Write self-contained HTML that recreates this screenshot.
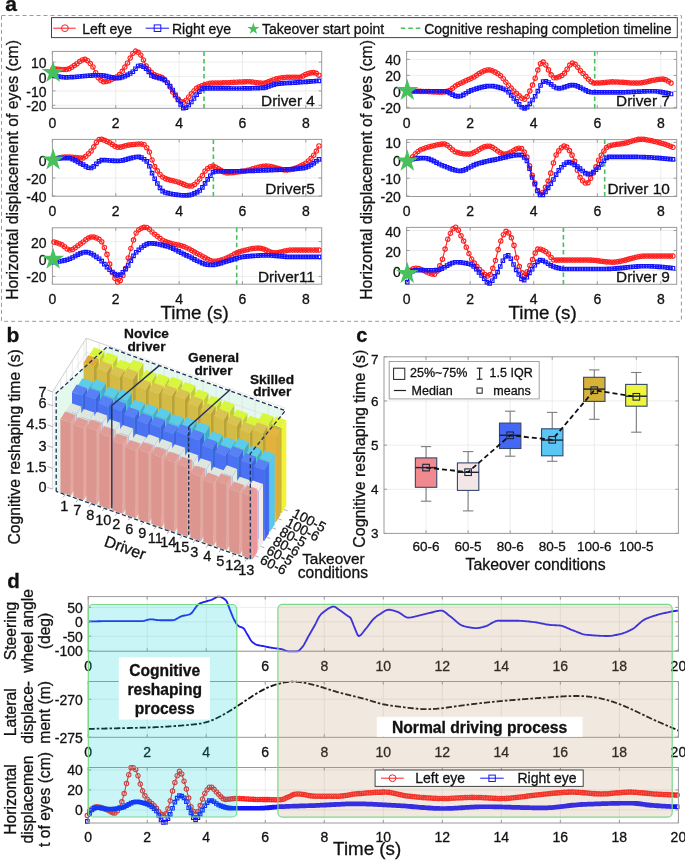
<!DOCTYPE html>
<html><head><meta charset="utf-8"><title>Figure</title>
<style>html,body{margin:0;padding:0;background:#fff;}svg{display:block;will-change:transform;}
text{font-family:"Liberation Sans",sans-serif;stroke:#111;stroke-width:0.3px;paint-order:stroke;}</style></head>
<body>
<svg width="685" height="860" viewBox="0 0 685 860" font-family="Liberation Sans, sans-serif">
<text x="5.2" y="11.3" font-size="21" text-anchor="start" font-weight="bold" fill="#111">a</text>
<rect x="1.5" y="15.5" width="679.9" height="305.8" fill="none" stroke="#9b9b9b" stroke-width="1" stroke-dasharray="4,3"/>
<rect x="51.5" y="17.6" width="625.8" height="20" fill="#fff" stroke="#444" stroke-width="1"/>
<line x1="53.2" y1="28.2" x2="75.7" y2="28.2" stroke="#ff1f1f" stroke-width="1"/>
<circle cx="64.9" cy="28.2" r="3.4" fill="none" stroke="#ff1f1f" stroke-width="1"/>
<text x="82.2" y="33.6" font-size="14" text-anchor="start" fill="#111">Left eye</text>
<line x1="145.7" y1="28.2" x2="169.1" y2="28.2" stroke="#1414ff" stroke-width="1"/>
<rect x="154.2" y="24.9" width="6.6" height="6.6" fill="none" stroke="#1414ff" stroke-width="1"/>
<text x="172" y="33.6" font-size="14" text-anchor="start" fill="#111">Right eye</text>
<polygon points="253.4,22.6 254.81,26.95 259.39,26.95 255.69,29.64 257.1,34 253.4,31.31 249.7,34 251.11,29.64 247.41,26.95 251.99,26.95" fill="#47c15c" stroke="none" stroke-width="1"/>
<text x="262" y="33.6" font-size="14" text-anchor="start" fill="#111">Takeover start point</text>
<line x1="400.8" y1="28.2" x2="420.7" y2="28.2" stroke="#47c15c" stroke-width="1.6" stroke-dasharray="4.5,3"/>
<text x="424.2" y="33.6" font-size="14" text-anchor="start" fill="#111">Cognitive reshaping completion timeline</text>
<rect x="52.4" y="51.4" width="269.3" height="56.9" fill="#fff" stroke="none" stroke-width="1"/>
<line x1="115.76" y1="51.4" x2="115.76" y2="108.3" stroke="#e9e9e9" stroke-width="0.8"/>
<line x1="179.12" y1="51.4" x2="179.12" y2="108.3" stroke="#e9e9e9" stroke-width="0.8"/>
<line x1="242.48" y1="51.4" x2="242.48" y2="108.3" stroke="#e9e9e9" stroke-width="0.8"/>
<line x1="305.84" y1="51.4" x2="305.84" y2="108.3" stroke="#e9e9e9" stroke-width="0.8"/>
<line x1="52.4" y1="62.1" x2="321.7" y2="62.1" stroke="#e9e9e9" stroke-width="0.8"/>
<line x1="52.4" y1="76.5" x2="321.7" y2="76.5" stroke="#e9e9e9" stroke-width="0.8"/>
<line x1="52.4" y1="90.9" x2="321.7" y2="90.9" stroke="#e9e9e9" stroke-width="0.8"/>
<line x1="52.4" y1="105.3" x2="321.7" y2="105.3" stroke="#e9e9e9" stroke-width="0.8"/>
<rect x="52.4" y="51.4" width="269.3" height="56.9" fill="none" stroke="#9a9a9a" stroke-width="1"/>
<line x1="52.4" y1="108.3" x2="52.4" y2="105.3" stroke="#9a9a9a" stroke-width="1"/>
<line x1="52.4" y1="51.4" x2="52.4" y2="54.4" stroke="#9a9a9a" stroke-width="1"/>
<text x="52.4" y="128.1" font-size="14" text-anchor="middle" fill="#111">0</text>
<line x1="115.76" y1="108.3" x2="115.76" y2="105.3" stroke="#9a9a9a" stroke-width="1"/>
<line x1="115.76" y1="51.4" x2="115.76" y2="54.4" stroke="#9a9a9a" stroke-width="1"/>
<text x="115.76" y="128.1" font-size="14" text-anchor="middle" fill="#111">2</text>
<line x1="179.12" y1="108.3" x2="179.12" y2="105.3" stroke="#9a9a9a" stroke-width="1"/>
<line x1="179.12" y1="51.4" x2="179.12" y2="54.4" stroke="#9a9a9a" stroke-width="1"/>
<text x="179.12" y="128.1" font-size="14" text-anchor="middle" fill="#111">4</text>
<line x1="242.48" y1="108.3" x2="242.48" y2="105.3" stroke="#9a9a9a" stroke-width="1"/>
<line x1="242.48" y1="51.4" x2="242.48" y2="54.4" stroke="#9a9a9a" stroke-width="1"/>
<text x="242.48" y="128.1" font-size="14" text-anchor="middle" fill="#111">6</text>
<line x1="305.84" y1="108.3" x2="305.84" y2="105.3" stroke="#9a9a9a" stroke-width="1"/>
<line x1="305.84" y1="51.4" x2="305.84" y2="54.4" stroke="#9a9a9a" stroke-width="1"/>
<text x="305.84" y="128.1" font-size="14" text-anchor="middle" fill="#111">8</text>
<line x1="52.4" y1="62.1" x2="55.4" y2="62.1" stroke="#9a9a9a" stroke-width="1"/>
<line x1="321.7" y1="62.1" x2="318.7" y2="62.1" stroke="#9a9a9a" stroke-width="1"/>
<text x="46.6" y="68.1" font-size="14" text-anchor="end" fill="#111">10</text>
<line x1="52.4" y1="76.5" x2="55.4" y2="76.5" stroke="#9a9a9a" stroke-width="1"/>
<line x1="321.7" y1="76.5" x2="318.7" y2="76.5" stroke="#9a9a9a" stroke-width="1"/>
<text x="46.6" y="82.5" font-size="14" text-anchor="end" fill="#111">0</text>
<line x1="52.4" y1="90.9" x2="55.4" y2="90.9" stroke="#9a9a9a" stroke-width="1"/>
<line x1="321.7" y1="90.9" x2="318.7" y2="90.9" stroke="#9a9a9a" stroke-width="1"/>
<text x="46.6" y="96.9" font-size="14" text-anchor="end" fill="#111">-10</text>
<line x1="52.4" y1="105.3" x2="55.4" y2="105.3" stroke="#9a9a9a" stroke-width="1"/>
<line x1="321.7" y1="105.3" x2="318.7" y2="105.3" stroke="#9a9a9a" stroke-width="1"/>
<text x="46.6" y="111.3" font-size="14" text-anchor="end" fill="#111">-20</text>
<line x1="204" y1="51.4" x2="204" y2="108.3" stroke="#47c15c" stroke-width="1.6" stroke-dasharray="4.5,3"/>
<polyline points="53.1,68.5 55.76,68.99 58.42,69.29 61.07,69.44 63.73,69.49 66.39,69.5 69.05,68.76 71.71,67.16 74.36,65.47 77.02,63.69 79.68,61.6 82.34,59.9 85,59.32 87.65,60.7 90.31,63.51 92.97,67 95.63,72.71 98.29,77.89 100.94,80.35 103.6,81.74 106.26,81.54 108.92,80.67 111.58,79.59 114.23,78.32 116.89,76.66 119.55,74.56 122.21,71.29 124.87,67.07 127.52,62.95 130.18,58 132.84,53.41 135.5,51.13 138.16,52.26 140.81,55.1 143.47,59.95 146.13,65.91 148.79,69.66 151.45,72.53 154.1,74.55 156.76,75.68 159.42,76.47 162.08,77.52 164.74,79.6 167.39,82.67 170.05,86.98 172.71,92.08 175.37,95.89 178.03,99.06 180.68,101.48 183.34,102.13 186,100.23 188.66,96.91 191.32,93.78 193.97,90.89 196.63,88.35 199.29,86.83 201.95,85.71 204.61,84.84 207.26,84.03 209.92,83.4 212.58,83.15 215.24,83.05 217.9,82.98 220.55,82.93 223.21,82.87 225.87,82.8 228.53,82.69 231.19,82.56 233.84,82.4 236.5,82.24 239.16,82.09 241.82,81.96 244.48,81.86 247.13,81.81 249.79,81.84 252.45,82.07 255.11,82.44 257.77,82.82 260.42,83.1 263.08,83.19 265.74,82.77 268.4,81.88 271.06,80.77 273.71,79.67 276.37,78.83 279.03,78.31 281.69,77.83 284.35,77.46 287,77.3 289.66,77.3 292.32,77.3 294.98,77.3 297.64,77.3 300.29,77.2 302.95,76.02 305.61,74.41 308.27,73.44 310.93,72.88 313.58,72.6 316.24,73.32 318.9,75.2" fill="none" stroke="#ff1f1f" stroke-width="1.1" stroke-linejoin="round"/>
<path d="M53.1,68.5m-2.2,0a2.2,2.2 0 1,0 4.4,0a2.2,2.2 0 1,0 -4.4,0M55.76,68.99m-2.2,0a2.2,2.2 0 1,0 4.4,0a2.2,2.2 0 1,0 -4.4,0M58.42,69.29m-2.2,0a2.2,2.2 0 1,0 4.4,0a2.2,2.2 0 1,0 -4.4,0M61.07,69.44m-2.2,0a2.2,2.2 0 1,0 4.4,0a2.2,2.2 0 1,0 -4.4,0M63.73,69.49m-2.2,0a2.2,2.2 0 1,0 4.4,0a2.2,2.2 0 1,0 -4.4,0M66.39,69.5m-2.2,0a2.2,2.2 0 1,0 4.4,0a2.2,2.2 0 1,0 -4.4,0M69.05,68.76m-2.2,0a2.2,2.2 0 1,0 4.4,0a2.2,2.2 0 1,0 -4.4,0M71.71,67.16m-2.2,0a2.2,2.2 0 1,0 4.4,0a2.2,2.2 0 1,0 -4.4,0M74.36,65.47m-2.2,0a2.2,2.2 0 1,0 4.4,0a2.2,2.2 0 1,0 -4.4,0M77.02,63.69m-2.2,0a2.2,2.2 0 1,0 4.4,0a2.2,2.2 0 1,0 -4.4,0M79.68,61.6m-2.2,0a2.2,2.2 0 1,0 4.4,0a2.2,2.2 0 1,0 -4.4,0M82.34,59.9m-2.2,0a2.2,2.2 0 1,0 4.4,0a2.2,2.2 0 1,0 -4.4,0M85,59.32m-2.2,0a2.2,2.2 0 1,0 4.4,0a2.2,2.2 0 1,0 -4.4,0M87.65,60.7m-2.2,0a2.2,2.2 0 1,0 4.4,0a2.2,2.2 0 1,0 -4.4,0M90.31,63.51m-2.2,0a2.2,2.2 0 1,0 4.4,0a2.2,2.2 0 1,0 -4.4,0M92.97,67m-2.2,0a2.2,2.2 0 1,0 4.4,0a2.2,2.2 0 1,0 -4.4,0M95.63,72.71m-2.2,0a2.2,2.2 0 1,0 4.4,0a2.2,2.2 0 1,0 -4.4,0M98.29,77.89m-2.2,0a2.2,2.2 0 1,0 4.4,0a2.2,2.2 0 1,0 -4.4,0M100.94,80.35m-2.2,0a2.2,2.2 0 1,0 4.4,0a2.2,2.2 0 1,0 -4.4,0M103.6,81.74m-2.2,0a2.2,2.2 0 1,0 4.4,0a2.2,2.2 0 1,0 -4.4,0M106.26,81.54m-2.2,0a2.2,2.2 0 1,0 4.4,0a2.2,2.2 0 1,0 -4.4,0M108.92,80.67m-2.2,0a2.2,2.2 0 1,0 4.4,0a2.2,2.2 0 1,0 -4.4,0M111.58,79.59m-2.2,0a2.2,2.2 0 1,0 4.4,0a2.2,2.2 0 1,0 -4.4,0M114.23,78.32m-2.2,0a2.2,2.2 0 1,0 4.4,0a2.2,2.2 0 1,0 -4.4,0M116.89,76.66m-2.2,0a2.2,2.2 0 1,0 4.4,0a2.2,2.2 0 1,0 -4.4,0M119.55,74.56m-2.2,0a2.2,2.2 0 1,0 4.4,0a2.2,2.2 0 1,0 -4.4,0M122.21,71.29m-2.2,0a2.2,2.2 0 1,0 4.4,0a2.2,2.2 0 1,0 -4.4,0M124.87,67.07m-2.2,0a2.2,2.2 0 1,0 4.4,0a2.2,2.2 0 1,0 -4.4,0M127.52,62.95m-2.2,0a2.2,2.2 0 1,0 4.4,0a2.2,2.2 0 1,0 -4.4,0M130.18,58m-2.2,0a2.2,2.2 0 1,0 4.4,0a2.2,2.2 0 1,0 -4.4,0M132.84,53.41m-2.2,0a2.2,2.2 0 1,0 4.4,0a2.2,2.2 0 1,0 -4.4,0M135.5,51.13m-2.2,0a2.2,2.2 0 1,0 4.4,0a2.2,2.2 0 1,0 -4.4,0M138.16,52.26m-2.2,0a2.2,2.2 0 1,0 4.4,0a2.2,2.2 0 1,0 -4.4,0M140.81,55.1m-2.2,0a2.2,2.2 0 1,0 4.4,0a2.2,2.2 0 1,0 -4.4,0M143.47,59.95m-2.2,0a2.2,2.2 0 1,0 4.4,0a2.2,2.2 0 1,0 -4.4,0M146.13,65.91m-2.2,0a2.2,2.2 0 1,0 4.4,0a2.2,2.2 0 1,0 -4.4,0M148.79,69.66m-2.2,0a2.2,2.2 0 1,0 4.4,0a2.2,2.2 0 1,0 -4.4,0M151.45,72.53m-2.2,0a2.2,2.2 0 1,0 4.4,0a2.2,2.2 0 1,0 -4.4,0M154.1,74.55m-2.2,0a2.2,2.2 0 1,0 4.4,0a2.2,2.2 0 1,0 -4.4,0M156.76,75.68m-2.2,0a2.2,2.2 0 1,0 4.4,0a2.2,2.2 0 1,0 -4.4,0M159.42,76.47m-2.2,0a2.2,2.2 0 1,0 4.4,0a2.2,2.2 0 1,0 -4.4,0M162.08,77.52m-2.2,0a2.2,2.2 0 1,0 4.4,0a2.2,2.2 0 1,0 -4.4,0M164.74,79.6m-2.2,0a2.2,2.2 0 1,0 4.4,0a2.2,2.2 0 1,0 -4.4,0M167.39,82.67m-2.2,0a2.2,2.2 0 1,0 4.4,0a2.2,2.2 0 1,0 -4.4,0M170.05,86.98m-2.2,0a2.2,2.2 0 1,0 4.4,0a2.2,2.2 0 1,0 -4.4,0M172.71,92.08m-2.2,0a2.2,2.2 0 1,0 4.4,0a2.2,2.2 0 1,0 -4.4,0M175.37,95.89m-2.2,0a2.2,2.2 0 1,0 4.4,0a2.2,2.2 0 1,0 -4.4,0M178.03,99.06m-2.2,0a2.2,2.2 0 1,0 4.4,0a2.2,2.2 0 1,0 -4.4,0M180.68,101.48m-2.2,0a2.2,2.2 0 1,0 4.4,0a2.2,2.2 0 1,0 -4.4,0M183.34,102.13m-2.2,0a2.2,2.2 0 1,0 4.4,0a2.2,2.2 0 1,0 -4.4,0M186,100.23m-2.2,0a2.2,2.2 0 1,0 4.4,0a2.2,2.2 0 1,0 -4.4,0M188.66,96.91m-2.2,0a2.2,2.2 0 1,0 4.4,0a2.2,2.2 0 1,0 -4.4,0M191.32,93.78m-2.2,0a2.2,2.2 0 1,0 4.4,0a2.2,2.2 0 1,0 -4.4,0M193.97,90.89m-2.2,0a2.2,2.2 0 1,0 4.4,0a2.2,2.2 0 1,0 -4.4,0M196.63,88.35m-2.2,0a2.2,2.2 0 1,0 4.4,0a2.2,2.2 0 1,0 -4.4,0M199.29,86.83m-2.2,0a2.2,2.2 0 1,0 4.4,0a2.2,2.2 0 1,0 -4.4,0M201.95,85.71m-2.2,0a2.2,2.2 0 1,0 4.4,0a2.2,2.2 0 1,0 -4.4,0M204.61,84.84m-2.2,0a2.2,2.2 0 1,0 4.4,0a2.2,2.2 0 1,0 -4.4,0M207.26,84.03m-2.2,0a2.2,2.2 0 1,0 4.4,0a2.2,2.2 0 1,0 -4.4,0M209.92,83.4m-2.2,0a2.2,2.2 0 1,0 4.4,0a2.2,2.2 0 1,0 -4.4,0M212.58,83.15m-2.2,0a2.2,2.2 0 1,0 4.4,0a2.2,2.2 0 1,0 -4.4,0M215.24,83.05m-2.2,0a2.2,2.2 0 1,0 4.4,0a2.2,2.2 0 1,0 -4.4,0M217.9,82.98m-2.2,0a2.2,2.2 0 1,0 4.4,0a2.2,2.2 0 1,0 -4.4,0M220.55,82.93m-2.2,0a2.2,2.2 0 1,0 4.4,0a2.2,2.2 0 1,0 -4.4,0M223.21,82.87m-2.2,0a2.2,2.2 0 1,0 4.4,0a2.2,2.2 0 1,0 -4.4,0M225.87,82.8m-2.2,0a2.2,2.2 0 1,0 4.4,0a2.2,2.2 0 1,0 -4.4,0M228.53,82.69m-2.2,0a2.2,2.2 0 1,0 4.4,0a2.2,2.2 0 1,0 -4.4,0M231.19,82.56m-2.2,0a2.2,2.2 0 1,0 4.4,0a2.2,2.2 0 1,0 -4.4,0M233.84,82.4m-2.2,0a2.2,2.2 0 1,0 4.4,0a2.2,2.2 0 1,0 -4.4,0M236.5,82.24m-2.2,0a2.2,2.2 0 1,0 4.4,0a2.2,2.2 0 1,0 -4.4,0M239.16,82.09m-2.2,0a2.2,2.2 0 1,0 4.4,0a2.2,2.2 0 1,0 -4.4,0M241.82,81.96m-2.2,0a2.2,2.2 0 1,0 4.4,0a2.2,2.2 0 1,0 -4.4,0M244.48,81.86m-2.2,0a2.2,2.2 0 1,0 4.4,0a2.2,2.2 0 1,0 -4.4,0M247.13,81.81m-2.2,0a2.2,2.2 0 1,0 4.4,0a2.2,2.2 0 1,0 -4.4,0M249.79,81.84m-2.2,0a2.2,2.2 0 1,0 4.4,0a2.2,2.2 0 1,0 -4.4,0M252.45,82.07m-2.2,0a2.2,2.2 0 1,0 4.4,0a2.2,2.2 0 1,0 -4.4,0M255.11,82.44m-2.2,0a2.2,2.2 0 1,0 4.4,0a2.2,2.2 0 1,0 -4.4,0M257.77,82.82m-2.2,0a2.2,2.2 0 1,0 4.4,0a2.2,2.2 0 1,0 -4.4,0M260.42,83.1m-2.2,0a2.2,2.2 0 1,0 4.4,0a2.2,2.2 0 1,0 -4.4,0M263.08,83.19m-2.2,0a2.2,2.2 0 1,0 4.4,0a2.2,2.2 0 1,0 -4.4,0M265.74,82.77m-2.2,0a2.2,2.2 0 1,0 4.4,0a2.2,2.2 0 1,0 -4.4,0M268.4,81.88m-2.2,0a2.2,2.2 0 1,0 4.4,0a2.2,2.2 0 1,0 -4.4,0M271.06,80.77m-2.2,0a2.2,2.2 0 1,0 4.4,0a2.2,2.2 0 1,0 -4.4,0M273.71,79.67m-2.2,0a2.2,2.2 0 1,0 4.4,0a2.2,2.2 0 1,0 -4.4,0M276.37,78.83m-2.2,0a2.2,2.2 0 1,0 4.4,0a2.2,2.2 0 1,0 -4.4,0M279.03,78.31m-2.2,0a2.2,2.2 0 1,0 4.4,0a2.2,2.2 0 1,0 -4.4,0M281.69,77.83m-2.2,0a2.2,2.2 0 1,0 4.4,0a2.2,2.2 0 1,0 -4.4,0M284.35,77.46m-2.2,0a2.2,2.2 0 1,0 4.4,0a2.2,2.2 0 1,0 -4.4,0M287,77.3m-2.2,0a2.2,2.2 0 1,0 4.4,0a2.2,2.2 0 1,0 -4.4,0M289.66,77.3m-2.2,0a2.2,2.2 0 1,0 4.4,0a2.2,2.2 0 1,0 -4.4,0M292.32,77.3m-2.2,0a2.2,2.2 0 1,0 4.4,0a2.2,2.2 0 1,0 -4.4,0M294.98,77.3m-2.2,0a2.2,2.2 0 1,0 4.4,0a2.2,2.2 0 1,0 -4.4,0M297.64,77.3m-2.2,0a2.2,2.2 0 1,0 4.4,0a2.2,2.2 0 1,0 -4.4,0M300.29,77.2m-2.2,0a2.2,2.2 0 1,0 4.4,0a2.2,2.2 0 1,0 -4.4,0M302.95,76.02m-2.2,0a2.2,2.2 0 1,0 4.4,0a2.2,2.2 0 1,0 -4.4,0M305.61,74.41m-2.2,0a2.2,2.2 0 1,0 4.4,0a2.2,2.2 0 1,0 -4.4,0M308.27,73.44m-2.2,0a2.2,2.2 0 1,0 4.4,0a2.2,2.2 0 1,0 -4.4,0M310.93,72.88m-2.2,0a2.2,2.2 0 1,0 4.4,0a2.2,2.2 0 1,0 -4.4,0M313.58,72.6m-2.2,0a2.2,2.2 0 1,0 4.4,0a2.2,2.2 0 1,0 -4.4,0M316.24,73.32m-2.2,0a2.2,2.2 0 1,0 4.4,0a2.2,2.2 0 1,0 -4.4,0M318.9,75.2m-2.2,0a2.2,2.2 0 1,0 4.4,0a2.2,2.2 0 1,0 -4.4,0" fill="none" stroke="#ff1f1f" stroke-width="1.15"/>
<polyline points="53.1,75.7 55.76,76.17 58.42,76.62 61.07,76.98 63.73,77.23 66.39,77.3 69.05,77.25 71.71,77.13 74.36,76.96 77.02,76.75 79.68,76.52 82.34,76.27 85,76.01 87.65,75.77 90.31,75.56 92.97,75.38 95.63,75.26 98.29,75.2 100.94,75.29 103.6,75.64 106.26,76.18 108.92,76.79 111.58,77.38 114.23,77.85 116.89,78.09 119.55,77.94 122.21,77.29 124.87,76.24 127.52,74.92 130.18,73.46 132.84,71.74 135.5,68.73 138.16,66.02 140.81,65.52 143.47,66.75 146.13,68.6 148.79,71.9 151.45,75.31 154.1,76.66 156.76,77.44 159.42,78.06 162.08,78.84 164.74,80.16 167.39,82.71 170.05,86.16 172.71,89.96 175.37,94.74 178.03,99.87 180.68,104.3 183.34,108.16 186,107.63 188.66,105.01 191.32,101.97 193.97,98.46 196.63,94.78 199.29,91.59 201.95,88.83 204.61,88.3 207.26,88.3 209.92,88.3 212.58,88.3 215.24,88.3 217.9,88.31 220.55,88.33 223.21,88.36 225.87,88.4 228.53,88.44 231.19,88.47 233.84,88.49 236.5,88.5 239.16,88.49 241.82,88.47 244.48,88.44 247.13,88.4 249.79,88.34 252.45,88.28 255.11,88.2 257.77,88.1 260.42,88 263.08,87.88 265.74,87.4 268.4,86.53 271.06,85.5 273.71,84.55 276.37,83.89 279.03,83.59 281.69,83.35 284.35,83.16 287,83 289.66,82.85 292.32,82.71 294.98,82.56 297.64,82.38 300.29,82.19 302.95,82 305.61,81.8 308.27,81.61 310.93,81.41 313.58,81.21 316.24,81 318.9,80.8" fill="none" stroke="#1414ff" stroke-width="1.1" stroke-linejoin="round"/>
<path d="M51.35,73.95h3.5v3.5h-3.5zM54.01,74.42h3.5v3.5h-3.5zM56.67,74.87h3.5v3.5h-3.5zM59.32,75.23h3.5v3.5h-3.5zM61.98,75.48h3.5v3.5h-3.5zM64.64,75.55h3.5v3.5h-3.5zM67.3,75.5h3.5v3.5h-3.5zM69.96,75.38h3.5v3.5h-3.5zM72.61,75.21h3.5v3.5h-3.5zM75.27,75h3.5v3.5h-3.5zM77.93,74.77h3.5v3.5h-3.5zM80.59,74.52h3.5v3.5h-3.5zM83.25,74.26h3.5v3.5h-3.5zM85.9,74.02h3.5v3.5h-3.5zM88.56,73.81h3.5v3.5h-3.5zM91.22,73.63h3.5v3.5h-3.5zM93.88,73.51h3.5v3.5h-3.5zM96.54,73.45h3.5v3.5h-3.5zM99.19,73.54h3.5v3.5h-3.5zM101.85,73.89h3.5v3.5h-3.5zM104.51,74.43h3.5v3.5h-3.5zM107.17,75.04h3.5v3.5h-3.5zM109.83,75.63h3.5v3.5h-3.5zM112.48,76.1h3.5v3.5h-3.5zM115.14,76.34h3.5v3.5h-3.5zM117.8,76.19h3.5v3.5h-3.5zM120.46,75.54h3.5v3.5h-3.5zM123.12,74.49h3.5v3.5h-3.5zM125.77,73.17h3.5v3.5h-3.5zM128.43,71.71h3.5v3.5h-3.5zM131.09,69.99h3.5v3.5h-3.5zM133.75,66.98h3.5v3.5h-3.5zM136.41,64.27h3.5v3.5h-3.5zM139.06,63.77h3.5v3.5h-3.5zM141.72,65h3.5v3.5h-3.5zM144.38,66.85h3.5v3.5h-3.5zM147.04,70.15h3.5v3.5h-3.5zM149.7,73.56h3.5v3.5h-3.5zM152.35,74.91h3.5v3.5h-3.5zM155.01,75.69h3.5v3.5h-3.5zM157.67,76.31h3.5v3.5h-3.5zM160.33,77.09h3.5v3.5h-3.5zM162.99,78.41h3.5v3.5h-3.5zM165.64,80.96h3.5v3.5h-3.5zM168.3,84.41h3.5v3.5h-3.5zM170.96,88.21h3.5v3.5h-3.5zM173.62,92.99h3.5v3.5h-3.5zM176.28,98.12h3.5v3.5h-3.5zM178.93,102.55h3.5v3.5h-3.5zM181.59,106.41h3.5v3.5h-3.5zM184.25,105.88h3.5v3.5h-3.5zM186.91,103.26h3.5v3.5h-3.5zM189.57,100.22h3.5v3.5h-3.5zM192.22,96.71h3.5v3.5h-3.5zM194.88,93.03h3.5v3.5h-3.5zM197.54,89.84h3.5v3.5h-3.5zM200.2,87.08h3.5v3.5h-3.5zM202.86,86.55h3.5v3.5h-3.5zM205.51,86.55h3.5v3.5h-3.5zM208.17,86.55h3.5v3.5h-3.5zM210.83,86.55h3.5v3.5h-3.5zM213.49,86.55h3.5v3.5h-3.5zM216.15,86.56h3.5v3.5h-3.5zM218.8,86.58h3.5v3.5h-3.5zM221.46,86.61h3.5v3.5h-3.5zM224.12,86.65h3.5v3.5h-3.5zM226.78,86.69h3.5v3.5h-3.5zM229.44,86.72h3.5v3.5h-3.5zM232.09,86.74h3.5v3.5h-3.5zM234.75,86.75h3.5v3.5h-3.5zM237.41,86.74h3.5v3.5h-3.5zM240.07,86.72h3.5v3.5h-3.5zM242.73,86.69h3.5v3.5h-3.5zM245.38,86.65h3.5v3.5h-3.5zM248.04,86.59h3.5v3.5h-3.5zM250.7,86.53h3.5v3.5h-3.5zM253.36,86.45h3.5v3.5h-3.5zM256.02,86.35h3.5v3.5h-3.5zM258.67,86.25h3.5v3.5h-3.5zM261.33,86.13h3.5v3.5h-3.5zM263.99,85.65h3.5v3.5h-3.5zM266.65,84.78h3.5v3.5h-3.5zM269.31,83.75h3.5v3.5h-3.5zM271.96,82.8h3.5v3.5h-3.5zM274.62,82.14h3.5v3.5h-3.5zM277.28,81.84h3.5v3.5h-3.5zM279.94,81.6h3.5v3.5h-3.5zM282.6,81.41h3.5v3.5h-3.5zM285.25,81.25h3.5v3.5h-3.5zM287.91,81.1h3.5v3.5h-3.5zM290.57,80.96h3.5v3.5h-3.5zM293.23,80.81h3.5v3.5h-3.5zM295.89,80.63h3.5v3.5h-3.5zM298.54,80.44h3.5v3.5h-3.5zM301.2,80.25h3.5v3.5h-3.5zM303.86,80.05h3.5v3.5h-3.5zM306.52,79.86h3.5v3.5h-3.5zM309.18,79.66h3.5v3.5h-3.5zM311.83,79.46h3.5v3.5h-3.5zM314.49,79.25h3.5v3.5h-3.5zM317.15,79.05h3.5v3.5h-3.5z" fill="none" stroke="#1414ff" stroke-width="1.15"/>
<polygon points="53.1,60.9 55.73,68.98 64.23,68.98 57.35,73.98 59.98,82.07 53.1,77.07 46.22,82.07 48.85,73.98 41.97,68.98 50.47,68.98" fill="#47c15c" stroke="none" stroke-width="1"/>
<text x="314.9" y="105.8" font-size="15.4" text-anchor="end" fill="#111">Driver 4</text>
<rect x="52.4" y="139.4" width="269.3" height="56.8" fill="#fff" stroke="none" stroke-width="1"/>
<line x1="115.76" y1="139.4" x2="115.76" y2="196.2" stroke="#e9e9e9" stroke-width="0.8"/>
<line x1="179.12" y1="139.4" x2="179.12" y2="196.2" stroke="#e9e9e9" stroke-width="0.8"/>
<line x1="242.48" y1="139.4" x2="242.48" y2="196.2" stroke="#e9e9e9" stroke-width="0.8"/>
<line x1="305.84" y1="139.4" x2="305.84" y2="196.2" stroke="#e9e9e9" stroke-width="0.8"/>
<line x1="52.4" y1="160" x2="321.7" y2="160" stroke="#e9e9e9" stroke-width="0.8"/>
<line x1="52.4" y1="178" x2="321.7" y2="178" stroke="#e9e9e9" stroke-width="0.8"/>
<rect x="52.4" y="139.4" width="269.3" height="56.8" fill="none" stroke="#9a9a9a" stroke-width="1"/>
<line x1="52.4" y1="196.2" x2="52.4" y2="193.2" stroke="#9a9a9a" stroke-width="1"/>
<line x1="52.4" y1="139.4" x2="52.4" y2="142.4" stroke="#9a9a9a" stroke-width="1"/>
<text x="52.4" y="216" font-size="14" text-anchor="middle" fill="#111">0</text>
<line x1="115.76" y1="196.2" x2="115.76" y2="193.2" stroke="#9a9a9a" stroke-width="1"/>
<line x1="115.76" y1="139.4" x2="115.76" y2="142.4" stroke="#9a9a9a" stroke-width="1"/>
<text x="115.76" y="216" font-size="14" text-anchor="middle" fill="#111">2</text>
<line x1="179.12" y1="196.2" x2="179.12" y2="193.2" stroke="#9a9a9a" stroke-width="1"/>
<line x1="179.12" y1="139.4" x2="179.12" y2="142.4" stroke="#9a9a9a" stroke-width="1"/>
<text x="179.12" y="216" font-size="14" text-anchor="middle" fill="#111">4</text>
<line x1="242.48" y1="196.2" x2="242.48" y2="193.2" stroke="#9a9a9a" stroke-width="1"/>
<line x1="242.48" y1="139.4" x2="242.48" y2="142.4" stroke="#9a9a9a" stroke-width="1"/>
<text x="242.48" y="216" font-size="14" text-anchor="middle" fill="#111">6</text>
<line x1="305.84" y1="196.2" x2="305.84" y2="193.2" stroke="#9a9a9a" stroke-width="1"/>
<line x1="305.84" y1="139.4" x2="305.84" y2="142.4" stroke="#9a9a9a" stroke-width="1"/>
<text x="305.84" y="216" font-size="14" text-anchor="middle" fill="#111">8</text>
<line x1="52.4" y1="160" x2="55.4" y2="160" stroke="#9a9a9a" stroke-width="1"/>
<line x1="321.7" y1="160" x2="318.7" y2="160" stroke="#9a9a9a" stroke-width="1"/>
<text x="46.6" y="166" font-size="14" text-anchor="end" fill="#111">0</text>
<line x1="52.4" y1="178" x2="55.4" y2="178" stroke="#9a9a9a" stroke-width="1"/>
<line x1="321.7" y1="178" x2="318.7" y2="178" stroke="#9a9a9a" stroke-width="1"/>
<text x="46.6" y="184" font-size="14" text-anchor="end" fill="#111">-20</text>
<line x1="52.4" y1="196" x2="55.4" y2="196" stroke="#9a9a9a" stroke-width="1"/>
<line x1="321.7" y1="196" x2="318.7" y2="196" stroke="#9a9a9a" stroke-width="1"/>
<text x="46.6" y="202" font-size="14" text-anchor="end" fill="#111">-40</text>
<line x1="213.4" y1="139.4" x2="213.4" y2="196.2" stroke="#47c15c" stroke-width="1.6" stroke-dasharray="4.5,3"/>
<polyline points="54,159.3 56.65,158.49 59.3,157.79 61.95,157.26 64.6,156.95 67.25,156.92 69.9,157.07 72.55,157.33 75.2,157.62 77.85,157.89 80.5,158.07 83.15,157.93 85.8,156.3 88.45,153.73 91.1,150.99 93.75,146.87 96.4,142.47 99.05,139.56 101.7,139.36 104.35,140.25 107,141.47 109.65,142.75 112.3,144.54 114.95,146.28 117.6,147.26 120.25,147.14 122.9,146.57 125.55,145.83 128.2,145.14 130.85,144.74 133.5,144.49 136.15,144.26 138.8,144.09 141.45,144.01 144.1,144.73 146.75,147.72 149.4,152.06 152.05,159.98 154.7,166.61 157.35,170.87 160,174.44 162.65,177.08 165.3,178.61 167.95,179.57 170.6,180.3 173.25,180.9 175.9,181.5 178.55,182.22 181.2,183.21 183.85,184.38 186.5,185.44 189.15,186.1 191.8,185.99 194.45,184.44 197.1,181.91 199.75,179.01 202.4,175.51 205.05,171.09 207.7,168.44 210.35,166.7 213,166.12 215.65,167.17 218.3,168.75 220.95,170.3 223.6,171.97 226.25,172.88 228.9,172.85 231.55,172.68 234.2,172.42 236.85,172.1 239.5,171.74 242.15,171.37 244.8,170.96 247.45,170.37 250.1,169.66 252.75,168.89 255.4,168.11 258.05,167.39 260.7,166.78 263.35,166.33 266,166.11 268.65,166.2 271.3,166.62 273.95,167.27 276.6,168.04 279.25,168.82 281.9,169.5 284.55,169.96 287.2,170.1 289.85,169.84 292.5,169.24 295.15,168.37 297.8,167.3 300.45,166.08 303.1,164.8 305.75,163.16 308.4,160.97 311.05,158.31 313.7,155.22 316.35,151.04 319,146" fill="none" stroke="#ff1f1f" stroke-width="1.1" stroke-linejoin="round"/>
<path d="M54,159.3m-2.2,0a2.2,2.2 0 1,0 4.4,0a2.2,2.2 0 1,0 -4.4,0M56.65,158.49m-2.2,0a2.2,2.2 0 1,0 4.4,0a2.2,2.2 0 1,0 -4.4,0M59.3,157.79m-2.2,0a2.2,2.2 0 1,0 4.4,0a2.2,2.2 0 1,0 -4.4,0M61.95,157.26m-2.2,0a2.2,2.2 0 1,0 4.4,0a2.2,2.2 0 1,0 -4.4,0M64.6,156.95m-2.2,0a2.2,2.2 0 1,0 4.4,0a2.2,2.2 0 1,0 -4.4,0M67.25,156.92m-2.2,0a2.2,2.2 0 1,0 4.4,0a2.2,2.2 0 1,0 -4.4,0M69.9,157.07m-2.2,0a2.2,2.2 0 1,0 4.4,0a2.2,2.2 0 1,0 -4.4,0M72.55,157.33m-2.2,0a2.2,2.2 0 1,0 4.4,0a2.2,2.2 0 1,0 -4.4,0M75.2,157.62m-2.2,0a2.2,2.2 0 1,0 4.4,0a2.2,2.2 0 1,0 -4.4,0M77.85,157.89m-2.2,0a2.2,2.2 0 1,0 4.4,0a2.2,2.2 0 1,0 -4.4,0M80.5,158.07m-2.2,0a2.2,2.2 0 1,0 4.4,0a2.2,2.2 0 1,0 -4.4,0M83.15,157.93m-2.2,0a2.2,2.2 0 1,0 4.4,0a2.2,2.2 0 1,0 -4.4,0M85.8,156.3m-2.2,0a2.2,2.2 0 1,0 4.4,0a2.2,2.2 0 1,0 -4.4,0M88.45,153.73m-2.2,0a2.2,2.2 0 1,0 4.4,0a2.2,2.2 0 1,0 -4.4,0M91.1,150.99m-2.2,0a2.2,2.2 0 1,0 4.4,0a2.2,2.2 0 1,0 -4.4,0M93.75,146.87m-2.2,0a2.2,2.2 0 1,0 4.4,0a2.2,2.2 0 1,0 -4.4,0M96.4,142.47m-2.2,0a2.2,2.2 0 1,0 4.4,0a2.2,2.2 0 1,0 -4.4,0M99.05,139.56m-2.2,0a2.2,2.2 0 1,0 4.4,0a2.2,2.2 0 1,0 -4.4,0M101.7,139.36m-2.2,0a2.2,2.2 0 1,0 4.4,0a2.2,2.2 0 1,0 -4.4,0M104.35,140.25m-2.2,0a2.2,2.2 0 1,0 4.4,0a2.2,2.2 0 1,0 -4.4,0M107,141.47m-2.2,0a2.2,2.2 0 1,0 4.4,0a2.2,2.2 0 1,0 -4.4,0M109.65,142.75m-2.2,0a2.2,2.2 0 1,0 4.4,0a2.2,2.2 0 1,0 -4.4,0M112.3,144.54m-2.2,0a2.2,2.2 0 1,0 4.4,0a2.2,2.2 0 1,0 -4.4,0M114.95,146.28m-2.2,0a2.2,2.2 0 1,0 4.4,0a2.2,2.2 0 1,0 -4.4,0M117.6,147.26m-2.2,0a2.2,2.2 0 1,0 4.4,0a2.2,2.2 0 1,0 -4.4,0M120.25,147.14m-2.2,0a2.2,2.2 0 1,0 4.4,0a2.2,2.2 0 1,0 -4.4,0M122.9,146.57m-2.2,0a2.2,2.2 0 1,0 4.4,0a2.2,2.2 0 1,0 -4.4,0M125.55,145.83m-2.2,0a2.2,2.2 0 1,0 4.4,0a2.2,2.2 0 1,0 -4.4,0M128.2,145.14m-2.2,0a2.2,2.2 0 1,0 4.4,0a2.2,2.2 0 1,0 -4.4,0M130.85,144.74m-2.2,0a2.2,2.2 0 1,0 4.4,0a2.2,2.2 0 1,0 -4.4,0M133.5,144.49m-2.2,0a2.2,2.2 0 1,0 4.4,0a2.2,2.2 0 1,0 -4.4,0M136.15,144.26m-2.2,0a2.2,2.2 0 1,0 4.4,0a2.2,2.2 0 1,0 -4.4,0M138.8,144.09m-2.2,0a2.2,2.2 0 1,0 4.4,0a2.2,2.2 0 1,0 -4.4,0M141.45,144.01m-2.2,0a2.2,2.2 0 1,0 4.4,0a2.2,2.2 0 1,0 -4.4,0M144.1,144.73m-2.2,0a2.2,2.2 0 1,0 4.4,0a2.2,2.2 0 1,0 -4.4,0M146.75,147.72m-2.2,0a2.2,2.2 0 1,0 4.4,0a2.2,2.2 0 1,0 -4.4,0M149.4,152.06m-2.2,0a2.2,2.2 0 1,0 4.4,0a2.2,2.2 0 1,0 -4.4,0M152.05,159.98m-2.2,0a2.2,2.2 0 1,0 4.4,0a2.2,2.2 0 1,0 -4.4,0M154.7,166.61m-2.2,0a2.2,2.2 0 1,0 4.4,0a2.2,2.2 0 1,0 -4.4,0M157.35,170.87m-2.2,0a2.2,2.2 0 1,0 4.4,0a2.2,2.2 0 1,0 -4.4,0M160,174.44m-2.2,0a2.2,2.2 0 1,0 4.4,0a2.2,2.2 0 1,0 -4.4,0M162.65,177.08m-2.2,0a2.2,2.2 0 1,0 4.4,0a2.2,2.2 0 1,0 -4.4,0M165.3,178.61m-2.2,0a2.2,2.2 0 1,0 4.4,0a2.2,2.2 0 1,0 -4.4,0M167.95,179.57m-2.2,0a2.2,2.2 0 1,0 4.4,0a2.2,2.2 0 1,0 -4.4,0M170.6,180.3m-2.2,0a2.2,2.2 0 1,0 4.4,0a2.2,2.2 0 1,0 -4.4,0M173.25,180.9m-2.2,0a2.2,2.2 0 1,0 4.4,0a2.2,2.2 0 1,0 -4.4,0M175.9,181.5m-2.2,0a2.2,2.2 0 1,0 4.4,0a2.2,2.2 0 1,0 -4.4,0M178.55,182.22m-2.2,0a2.2,2.2 0 1,0 4.4,0a2.2,2.2 0 1,0 -4.4,0M181.2,183.21m-2.2,0a2.2,2.2 0 1,0 4.4,0a2.2,2.2 0 1,0 -4.4,0M183.85,184.38m-2.2,0a2.2,2.2 0 1,0 4.4,0a2.2,2.2 0 1,0 -4.4,0M186.5,185.44m-2.2,0a2.2,2.2 0 1,0 4.4,0a2.2,2.2 0 1,0 -4.4,0M189.15,186.1m-2.2,0a2.2,2.2 0 1,0 4.4,0a2.2,2.2 0 1,0 -4.4,0M191.8,185.99m-2.2,0a2.2,2.2 0 1,0 4.4,0a2.2,2.2 0 1,0 -4.4,0M194.45,184.44m-2.2,0a2.2,2.2 0 1,0 4.4,0a2.2,2.2 0 1,0 -4.4,0M197.1,181.91m-2.2,0a2.2,2.2 0 1,0 4.4,0a2.2,2.2 0 1,0 -4.4,0M199.75,179.01m-2.2,0a2.2,2.2 0 1,0 4.4,0a2.2,2.2 0 1,0 -4.4,0M202.4,175.51m-2.2,0a2.2,2.2 0 1,0 4.4,0a2.2,2.2 0 1,0 -4.4,0M205.05,171.09m-2.2,0a2.2,2.2 0 1,0 4.4,0a2.2,2.2 0 1,0 -4.4,0M207.7,168.44m-2.2,0a2.2,2.2 0 1,0 4.4,0a2.2,2.2 0 1,0 -4.4,0M210.35,166.7m-2.2,0a2.2,2.2 0 1,0 4.4,0a2.2,2.2 0 1,0 -4.4,0M213,166.12m-2.2,0a2.2,2.2 0 1,0 4.4,0a2.2,2.2 0 1,0 -4.4,0M215.65,167.17m-2.2,0a2.2,2.2 0 1,0 4.4,0a2.2,2.2 0 1,0 -4.4,0M218.3,168.75m-2.2,0a2.2,2.2 0 1,0 4.4,0a2.2,2.2 0 1,0 -4.4,0M220.95,170.3m-2.2,0a2.2,2.2 0 1,0 4.4,0a2.2,2.2 0 1,0 -4.4,0M223.6,171.97m-2.2,0a2.2,2.2 0 1,0 4.4,0a2.2,2.2 0 1,0 -4.4,0M226.25,172.88m-2.2,0a2.2,2.2 0 1,0 4.4,0a2.2,2.2 0 1,0 -4.4,0M228.9,172.85m-2.2,0a2.2,2.2 0 1,0 4.4,0a2.2,2.2 0 1,0 -4.4,0M231.55,172.68m-2.2,0a2.2,2.2 0 1,0 4.4,0a2.2,2.2 0 1,0 -4.4,0M234.2,172.42m-2.2,0a2.2,2.2 0 1,0 4.4,0a2.2,2.2 0 1,0 -4.4,0M236.85,172.1m-2.2,0a2.2,2.2 0 1,0 4.4,0a2.2,2.2 0 1,0 -4.4,0M239.5,171.74m-2.2,0a2.2,2.2 0 1,0 4.4,0a2.2,2.2 0 1,0 -4.4,0M242.15,171.37m-2.2,0a2.2,2.2 0 1,0 4.4,0a2.2,2.2 0 1,0 -4.4,0M244.8,170.96m-2.2,0a2.2,2.2 0 1,0 4.4,0a2.2,2.2 0 1,0 -4.4,0M247.45,170.37m-2.2,0a2.2,2.2 0 1,0 4.4,0a2.2,2.2 0 1,0 -4.4,0M250.1,169.66m-2.2,0a2.2,2.2 0 1,0 4.4,0a2.2,2.2 0 1,0 -4.4,0M252.75,168.89m-2.2,0a2.2,2.2 0 1,0 4.4,0a2.2,2.2 0 1,0 -4.4,0M255.4,168.11m-2.2,0a2.2,2.2 0 1,0 4.4,0a2.2,2.2 0 1,0 -4.4,0M258.05,167.39m-2.2,0a2.2,2.2 0 1,0 4.4,0a2.2,2.2 0 1,0 -4.4,0M260.7,166.78m-2.2,0a2.2,2.2 0 1,0 4.4,0a2.2,2.2 0 1,0 -4.4,0M263.35,166.33m-2.2,0a2.2,2.2 0 1,0 4.4,0a2.2,2.2 0 1,0 -4.4,0M266,166.11m-2.2,0a2.2,2.2 0 1,0 4.4,0a2.2,2.2 0 1,0 -4.4,0M268.65,166.2m-2.2,0a2.2,2.2 0 1,0 4.4,0a2.2,2.2 0 1,0 -4.4,0M271.3,166.62m-2.2,0a2.2,2.2 0 1,0 4.4,0a2.2,2.2 0 1,0 -4.4,0M273.95,167.27m-2.2,0a2.2,2.2 0 1,0 4.4,0a2.2,2.2 0 1,0 -4.4,0M276.6,168.04m-2.2,0a2.2,2.2 0 1,0 4.4,0a2.2,2.2 0 1,0 -4.4,0M279.25,168.82m-2.2,0a2.2,2.2 0 1,0 4.4,0a2.2,2.2 0 1,0 -4.4,0M281.9,169.5m-2.2,0a2.2,2.2 0 1,0 4.4,0a2.2,2.2 0 1,0 -4.4,0M284.55,169.96m-2.2,0a2.2,2.2 0 1,0 4.4,0a2.2,2.2 0 1,0 -4.4,0M287.2,170.1m-2.2,0a2.2,2.2 0 1,0 4.4,0a2.2,2.2 0 1,0 -4.4,0M289.85,169.84m-2.2,0a2.2,2.2 0 1,0 4.4,0a2.2,2.2 0 1,0 -4.4,0M292.5,169.24m-2.2,0a2.2,2.2 0 1,0 4.4,0a2.2,2.2 0 1,0 -4.4,0M295.15,168.37m-2.2,0a2.2,2.2 0 1,0 4.4,0a2.2,2.2 0 1,0 -4.4,0M297.8,167.3m-2.2,0a2.2,2.2 0 1,0 4.4,0a2.2,2.2 0 1,0 -4.4,0M300.45,166.08m-2.2,0a2.2,2.2 0 1,0 4.4,0a2.2,2.2 0 1,0 -4.4,0M303.1,164.8m-2.2,0a2.2,2.2 0 1,0 4.4,0a2.2,2.2 0 1,0 -4.4,0M305.75,163.16m-2.2,0a2.2,2.2 0 1,0 4.4,0a2.2,2.2 0 1,0 -4.4,0M308.4,160.97m-2.2,0a2.2,2.2 0 1,0 4.4,0a2.2,2.2 0 1,0 -4.4,0M311.05,158.31m-2.2,0a2.2,2.2 0 1,0 4.4,0a2.2,2.2 0 1,0 -4.4,0M313.7,155.22m-2.2,0a2.2,2.2 0 1,0 4.4,0a2.2,2.2 0 1,0 -4.4,0M316.35,151.04m-2.2,0a2.2,2.2 0 1,0 4.4,0a2.2,2.2 0 1,0 -4.4,0M319,146m-2.2,0a2.2,2.2 0 1,0 4.4,0a2.2,2.2 0 1,0 -4.4,0" fill="none" stroke="#ff1f1f" stroke-width="1.15"/>
<polyline points="54,159.3 56.65,158.74 59.3,158.39 61.95,158.2 64.6,158.12 67.25,158.1 69.9,158.28 72.55,159.08 75.2,160.34 77.85,161.82 80.5,163.3 83.15,164.66 85.8,166.37 88.45,167.79 91.1,167.95 93.75,166.36 96.4,163.85 99.05,161.44 101.7,160.14 104.35,160.14 107,160.27 109.65,160.46 112.3,160.65 114.95,160.81 117.6,160.9 120.25,160.78 122.9,160.35 125.55,159.69 128.2,158.91 130.85,158.14 133.5,157.48 136.15,157.03 138.8,156.92 141.45,157.66 144.1,159.22 146.75,161.34 149.4,166.27 152.05,173.05 154.7,178.72 157.35,183.45 160,187.9 162.65,191.15 165.3,192.46 167.95,193.15 170.6,193.75 173.25,194.26 175.9,194.67 178.55,194.99 181.2,195.22 183.85,195.35 186.5,195.4 189.15,195.15 191.8,194.45 194.45,193.42 197.1,192.14 199.75,190.49 202.4,187.35 205.05,183.33 207.7,179.36 210.35,175.71 213,172.13 215.65,171.3 218.3,171.3 220.95,171.3 223.6,171.3 226.25,171.3 228.9,171.3 231.55,171.3 234.2,171.28 236.85,171.26 239.5,171.21 242.15,171.16 244.8,171.09 247.45,171.01 250.1,170.93 252.75,170.83 255.4,170.73 258.05,170.63 260.7,170.52 263.35,170.41 266,170.3 268.65,170.19 271.3,170.08 273.95,169.98 276.6,169.87 279.25,169.77 281.9,169.66 284.55,169.54 287.2,169.41 289.85,169.26 292.5,169.08 295.15,168.88 297.8,168.65 300.45,168.38 303.1,168.07 305.75,167.43 308.4,166.3 311.05,164.82 313.7,163.08 316.35,161.2 319,159.3" fill="none" stroke="#1414ff" stroke-width="1.1" stroke-linejoin="round"/>
<path d="M52.25,157.55h3.5v3.5h-3.5zM54.9,156.99h3.5v3.5h-3.5zM57.55,156.64h3.5v3.5h-3.5zM60.2,156.45h3.5v3.5h-3.5zM62.85,156.37h3.5v3.5h-3.5zM65.5,156.35h3.5v3.5h-3.5zM68.15,156.53h3.5v3.5h-3.5zM70.8,157.33h3.5v3.5h-3.5zM73.45,158.59h3.5v3.5h-3.5zM76.1,160.07h3.5v3.5h-3.5zM78.75,161.55h3.5v3.5h-3.5zM81.4,162.91h3.5v3.5h-3.5zM84.05,164.62h3.5v3.5h-3.5zM86.7,166.04h3.5v3.5h-3.5zM89.35,166.2h3.5v3.5h-3.5zM92,164.61h3.5v3.5h-3.5zM94.65,162.1h3.5v3.5h-3.5zM97.3,159.69h3.5v3.5h-3.5zM99.95,158.39h3.5v3.5h-3.5zM102.6,158.39h3.5v3.5h-3.5zM105.25,158.52h3.5v3.5h-3.5zM107.9,158.71h3.5v3.5h-3.5zM110.55,158.9h3.5v3.5h-3.5zM113.2,159.06h3.5v3.5h-3.5zM115.85,159.15h3.5v3.5h-3.5zM118.5,159.03h3.5v3.5h-3.5zM121.15,158.6h3.5v3.5h-3.5zM123.8,157.94h3.5v3.5h-3.5zM126.45,157.16h3.5v3.5h-3.5zM129.1,156.39h3.5v3.5h-3.5zM131.75,155.73h3.5v3.5h-3.5zM134.4,155.28h3.5v3.5h-3.5zM137.05,155.17h3.5v3.5h-3.5zM139.7,155.91h3.5v3.5h-3.5zM142.35,157.47h3.5v3.5h-3.5zM145,159.59h3.5v3.5h-3.5zM147.65,164.52h3.5v3.5h-3.5zM150.3,171.3h3.5v3.5h-3.5zM152.95,176.97h3.5v3.5h-3.5zM155.6,181.7h3.5v3.5h-3.5zM158.25,186.15h3.5v3.5h-3.5zM160.9,189.4h3.5v3.5h-3.5zM163.55,190.71h3.5v3.5h-3.5zM166.2,191.4h3.5v3.5h-3.5zM168.85,192h3.5v3.5h-3.5zM171.5,192.51h3.5v3.5h-3.5zM174.15,192.92h3.5v3.5h-3.5zM176.8,193.24h3.5v3.5h-3.5zM179.45,193.47h3.5v3.5h-3.5zM182.1,193.6h3.5v3.5h-3.5zM184.75,193.65h3.5v3.5h-3.5zM187.4,193.4h3.5v3.5h-3.5zM190.05,192.7h3.5v3.5h-3.5zM192.7,191.67h3.5v3.5h-3.5zM195.35,190.39h3.5v3.5h-3.5zM198,188.74h3.5v3.5h-3.5zM200.65,185.6h3.5v3.5h-3.5zM203.3,181.58h3.5v3.5h-3.5zM205.95,177.61h3.5v3.5h-3.5zM208.6,173.96h3.5v3.5h-3.5zM211.25,170.38h3.5v3.5h-3.5zM213.9,169.55h3.5v3.5h-3.5zM216.55,169.55h3.5v3.5h-3.5zM219.2,169.55h3.5v3.5h-3.5zM221.85,169.55h3.5v3.5h-3.5zM224.5,169.55h3.5v3.5h-3.5zM227.15,169.55h3.5v3.5h-3.5zM229.8,169.55h3.5v3.5h-3.5zM232.45,169.53h3.5v3.5h-3.5zM235.1,169.51h3.5v3.5h-3.5zM237.75,169.46h3.5v3.5h-3.5zM240.4,169.41h3.5v3.5h-3.5zM243.05,169.34h3.5v3.5h-3.5zM245.7,169.26h3.5v3.5h-3.5zM248.35,169.18h3.5v3.5h-3.5zM251,169.08h3.5v3.5h-3.5zM253.65,168.98h3.5v3.5h-3.5zM256.3,168.88h3.5v3.5h-3.5zM258.95,168.77h3.5v3.5h-3.5zM261.6,168.66h3.5v3.5h-3.5zM264.25,168.55h3.5v3.5h-3.5zM266.9,168.44h3.5v3.5h-3.5zM269.55,168.33h3.5v3.5h-3.5zM272.2,168.23h3.5v3.5h-3.5zM274.85,168.12h3.5v3.5h-3.5zM277.5,168.02h3.5v3.5h-3.5zM280.15,167.91h3.5v3.5h-3.5zM282.8,167.79h3.5v3.5h-3.5zM285.45,167.66h3.5v3.5h-3.5zM288.1,167.51h3.5v3.5h-3.5zM290.75,167.33h3.5v3.5h-3.5zM293.4,167.13h3.5v3.5h-3.5zM296.05,166.9h3.5v3.5h-3.5zM298.7,166.63h3.5v3.5h-3.5zM301.35,166.32h3.5v3.5h-3.5zM304,165.68h3.5v3.5h-3.5zM306.65,164.55h3.5v3.5h-3.5zM309.3,163.07h3.5v3.5h-3.5zM311.95,161.33h3.5v3.5h-3.5zM314.6,159.45h3.5v3.5h-3.5zM317.25,157.55h3.5v3.5h-3.5z" fill="none" stroke="#1414ff" stroke-width="1.15"/>
<polygon points="53.1,148.3 55.73,156.38 64.23,156.38 57.35,161.38 59.98,169.47 53.1,164.47 46.22,169.47 48.85,161.38 41.97,156.38 50.47,156.38" fill="#47c15c" stroke="none" stroke-width="1"/>
<text x="314.9" y="193.7" font-size="15.4" text-anchor="end" fill="#111">Driver5</text>
<rect x="52.4" y="227.8" width="269.3" height="56.4" fill="#fff" stroke="none" stroke-width="1"/>
<line x1="115.76" y1="227.8" x2="115.76" y2="284.2" stroke="#e9e9e9" stroke-width="0.8"/>
<line x1="179.12" y1="227.8" x2="179.12" y2="284.2" stroke="#e9e9e9" stroke-width="0.8"/>
<line x1="242.48" y1="227.8" x2="242.48" y2="284.2" stroke="#e9e9e9" stroke-width="0.8"/>
<line x1="305.84" y1="227.8" x2="305.84" y2="284.2" stroke="#e9e9e9" stroke-width="0.8"/>
<line x1="52.4" y1="241.6" x2="321.7" y2="241.6" stroke="#e9e9e9" stroke-width="0.8"/>
<line x1="52.4" y1="259" x2="321.7" y2="259" stroke="#e9e9e9" stroke-width="0.8"/>
<line x1="52.4" y1="276.4" x2="321.7" y2="276.4" stroke="#e9e9e9" stroke-width="0.8"/>
<rect x="52.4" y="227.8" width="269.3" height="56.4" fill="none" stroke="#9a9a9a" stroke-width="1"/>
<line x1="52.4" y1="284.2" x2="52.4" y2="281.2" stroke="#9a9a9a" stroke-width="1"/>
<line x1="52.4" y1="227.8" x2="52.4" y2="230.8" stroke="#9a9a9a" stroke-width="1"/>
<text x="52.4" y="304" font-size="14" text-anchor="middle" fill="#111">0</text>
<line x1="115.76" y1="284.2" x2="115.76" y2="281.2" stroke="#9a9a9a" stroke-width="1"/>
<line x1="115.76" y1="227.8" x2="115.76" y2="230.8" stroke="#9a9a9a" stroke-width="1"/>
<text x="115.76" y="304" font-size="14" text-anchor="middle" fill="#111">2</text>
<line x1="179.12" y1="284.2" x2="179.12" y2="281.2" stroke="#9a9a9a" stroke-width="1"/>
<line x1="179.12" y1="227.8" x2="179.12" y2="230.8" stroke="#9a9a9a" stroke-width="1"/>
<text x="179.12" y="304" font-size="14" text-anchor="middle" fill="#111">4</text>
<line x1="242.48" y1="284.2" x2="242.48" y2="281.2" stroke="#9a9a9a" stroke-width="1"/>
<line x1="242.48" y1="227.8" x2="242.48" y2="230.8" stroke="#9a9a9a" stroke-width="1"/>
<text x="242.48" y="304" font-size="14" text-anchor="middle" fill="#111">6</text>
<line x1="305.84" y1="284.2" x2="305.84" y2="281.2" stroke="#9a9a9a" stroke-width="1"/>
<line x1="305.84" y1="227.8" x2="305.84" y2="230.8" stroke="#9a9a9a" stroke-width="1"/>
<text x="305.84" y="304" font-size="14" text-anchor="middle" fill="#111">8</text>
<line x1="52.4" y1="241.6" x2="55.4" y2="241.6" stroke="#9a9a9a" stroke-width="1"/>
<line x1="321.7" y1="241.6" x2="318.7" y2="241.6" stroke="#9a9a9a" stroke-width="1"/>
<text x="46.6" y="247.6" font-size="14" text-anchor="end" fill="#111">20</text>
<line x1="52.4" y1="259" x2="55.4" y2="259" stroke="#9a9a9a" stroke-width="1"/>
<line x1="321.7" y1="259" x2="318.7" y2="259" stroke="#9a9a9a" stroke-width="1"/>
<text x="46.6" y="265" font-size="14" text-anchor="end" fill="#111">0</text>
<line x1="52.4" y1="276.4" x2="55.4" y2="276.4" stroke="#9a9a9a" stroke-width="1"/>
<line x1="321.7" y1="276.4" x2="318.7" y2="276.4" stroke="#9a9a9a" stroke-width="1"/>
<text x="46.6" y="282.4" font-size="14" text-anchor="end" fill="#111">-20</text>
<line x1="236.7" y1="227.8" x2="236.7" y2="284.2" stroke="#47c15c" stroke-width="1.6" stroke-dasharray="4.5,3"/>
<polyline points="54,242.1 56.65,242.8 59.3,243.75 61.95,244.88 64.6,246.71 67.25,248.92 69.9,250.09 72.55,249.47 75.2,247.77 77.85,245.68 80.5,243.85 83.15,241.94 85.8,239.86 88.45,238.07 91.1,237.01 93.75,237.05 96.4,237.9 99.05,239.34 101.7,241.85 104.35,247.44 107,254.38 109.65,264.08 112.3,272.42 114.95,278.37 117.6,282.04 120.25,280.61 122.9,275.43 125.55,268.56 128.2,257.92 130.85,248.41 133.5,240.06 136.15,233.07 138.8,229.67 141.45,228.2 144.1,227.33 146.75,227.46 149.4,229.32 152.05,231.99 154.7,234.32 157.35,236.32 160,238.33 162.65,240.17 165.3,241.64 167.95,242.63 170.6,243.36 173.25,243.94 175.9,244.46 178.55,245.02 181.2,245.7 183.85,246.59 186.5,247.74 189.15,249.09 191.8,250.54 194.45,252.01 197.1,253.41 199.75,254.73 202.4,256.22 205.05,257.79 207.7,259.26 210.35,260.45 213,261.17 215.65,261.26 218.3,260.85 220.95,260.11 223.6,259.19 226.25,258.22 228.9,257.11 231.55,255.66 234.2,254.13 236.85,252.79 239.5,251.86 242.15,251.09 244.8,250.35 247.45,249.66 250.1,249.07 252.75,248.59 255.4,248.26 258.05,248.11 260.7,248.29 263.35,249.04 266,250.14 268.65,251.32 271.3,252.31 273.95,252.86 276.6,252.8 279.25,252.38 281.9,251.75 284.55,251.06 287.2,250.48 289.85,250.13 292.5,250.1 295.15,250.1 297.8,250.1 300.45,250.1 303.1,250.1 305.75,250.1 308.4,250.1 311.05,250.1 313.7,250.1 316.35,250.1 319,250.1" fill="none" stroke="#ff1f1f" stroke-width="1.1" stroke-linejoin="round"/>
<path d="M54,242.1m-2.2,0a2.2,2.2 0 1,0 4.4,0a2.2,2.2 0 1,0 -4.4,0M56.65,242.8m-2.2,0a2.2,2.2 0 1,0 4.4,0a2.2,2.2 0 1,0 -4.4,0M59.3,243.75m-2.2,0a2.2,2.2 0 1,0 4.4,0a2.2,2.2 0 1,0 -4.4,0M61.95,244.88m-2.2,0a2.2,2.2 0 1,0 4.4,0a2.2,2.2 0 1,0 -4.4,0M64.6,246.71m-2.2,0a2.2,2.2 0 1,0 4.4,0a2.2,2.2 0 1,0 -4.4,0M67.25,248.92m-2.2,0a2.2,2.2 0 1,0 4.4,0a2.2,2.2 0 1,0 -4.4,0M69.9,250.09m-2.2,0a2.2,2.2 0 1,0 4.4,0a2.2,2.2 0 1,0 -4.4,0M72.55,249.47m-2.2,0a2.2,2.2 0 1,0 4.4,0a2.2,2.2 0 1,0 -4.4,0M75.2,247.77m-2.2,0a2.2,2.2 0 1,0 4.4,0a2.2,2.2 0 1,0 -4.4,0M77.85,245.68m-2.2,0a2.2,2.2 0 1,0 4.4,0a2.2,2.2 0 1,0 -4.4,0M80.5,243.85m-2.2,0a2.2,2.2 0 1,0 4.4,0a2.2,2.2 0 1,0 -4.4,0M83.15,241.94m-2.2,0a2.2,2.2 0 1,0 4.4,0a2.2,2.2 0 1,0 -4.4,0M85.8,239.86m-2.2,0a2.2,2.2 0 1,0 4.4,0a2.2,2.2 0 1,0 -4.4,0M88.45,238.07m-2.2,0a2.2,2.2 0 1,0 4.4,0a2.2,2.2 0 1,0 -4.4,0M91.1,237.01m-2.2,0a2.2,2.2 0 1,0 4.4,0a2.2,2.2 0 1,0 -4.4,0M93.75,237.05m-2.2,0a2.2,2.2 0 1,0 4.4,0a2.2,2.2 0 1,0 -4.4,0M96.4,237.9m-2.2,0a2.2,2.2 0 1,0 4.4,0a2.2,2.2 0 1,0 -4.4,0M99.05,239.34m-2.2,0a2.2,2.2 0 1,0 4.4,0a2.2,2.2 0 1,0 -4.4,0M101.7,241.85m-2.2,0a2.2,2.2 0 1,0 4.4,0a2.2,2.2 0 1,0 -4.4,0M104.35,247.44m-2.2,0a2.2,2.2 0 1,0 4.4,0a2.2,2.2 0 1,0 -4.4,0M107,254.38m-2.2,0a2.2,2.2 0 1,0 4.4,0a2.2,2.2 0 1,0 -4.4,0M109.65,264.08m-2.2,0a2.2,2.2 0 1,0 4.4,0a2.2,2.2 0 1,0 -4.4,0M112.3,272.42m-2.2,0a2.2,2.2 0 1,0 4.4,0a2.2,2.2 0 1,0 -4.4,0M114.95,278.37m-2.2,0a2.2,2.2 0 1,0 4.4,0a2.2,2.2 0 1,0 -4.4,0M117.6,282.04m-2.2,0a2.2,2.2 0 1,0 4.4,0a2.2,2.2 0 1,0 -4.4,0M120.25,280.61m-2.2,0a2.2,2.2 0 1,0 4.4,0a2.2,2.2 0 1,0 -4.4,0M122.9,275.43m-2.2,0a2.2,2.2 0 1,0 4.4,0a2.2,2.2 0 1,0 -4.4,0M125.55,268.56m-2.2,0a2.2,2.2 0 1,0 4.4,0a2.2,2.2 0 1,0 -4.4,0M128.2,257.92m-2.2,0a2.2,2.2 0 1,0 4.4,0a2.2,2.2 0 1,0 -4.4,0M130.85,248.41m-2.2,0a2.2,2.2 0 1,0 4.4,0a2.2,2.2 0 1,0 -4.4,0M133.5,240.06m-2.2,0a2.2,2.2 0 1,0 4.4,0a2.2,2.2 0 1,0 -4.4,0M136.15,233.07m-2.2,0a2.2,2.2 0 1,0 4.4,0a2.2,2.2 0 1,0 -4.4,0M138.8,229.67m-2.2,0a2.2,2.2 0 1,0 4.4,0a2.2,2.2 0 1,0 -4.4,0M141.45,228.2m-2.2,0a2.2,2.2 0 1,0 4.4,0a2.2,2.2 0 1,0 -4.4,0M144.1,227.33m-2.2,0a2.2,2.2 0 1,0 4.4,0a2.2,2.2 0 1,0 -4.4,0M146.75,227.46m-2.2,0a2.2,2.2 0 1,0 4.4,0a2.2,2.2 0 1,0 -4.4,0M149.4,229.32m-2.2,0a2.2,2.2 0 1,0 4.4,0a2.2,2.2 0 1,0 -4.4,0M152.05,231.99m-2.2,0a2.2,2.2 0 1,0 4.4,0a2.2,2.2 0 1,0 -4.4,0M154.7,234.32m-2.2,0a2.2,2.2 0 1,0 4.4,0a2.2,2.2 0 1,0 -4.4,0M157.35,236.32m-2.2,0a2.2,2.2 0 1,0 4.4,0a2.2,2.2 0 1,0 -4.4,0M160,238.33m-2.2,0a2.2,2.2 0 1,0 4.4,0a2.2,2.2 0 1,0 -4.4,0M162.65,240.17m-2.2,0a2.2,2.2 0 1,0 4.4,0a2.2,2.2 0 1,0 -4.4,0M165.3,241.64m-2.2,0a2.2,2.2 0 1,0 4.4,0a2.2,2.2 0 1,0 -4.4,0M167.95,242.63m-2.2,0a2.2,2.2 0 1,0 4.4,0a2.2,2.2 0 1,0 -4.4,0M170.6,243.36m-2.2,0a2.2,2.2 0 1,0 4.4,0a2.2,2.2 0 1,0 -4.4,0M173.25,243.94m-2.2,0a2.2,2.2 0 1,0 4.4,0a2.2,2.2 0 1,0 -4.4,0M175.9,244.46m-2.2,0a2.2,2.2 0 1,0 4.4,0a2.2,2.2 0 1,0 -4.4,0M178.55,245.02m-2.2,0a2.2,2.2 0 1,0 4.4,0a2.2,2.2 0 1,0 -4.4,0M181.2,245.7m-2.2,0a2.2,2.2 0 1,0 4.4,0a2.2,2.2 0 1,0 -4.4,0M183.85,246.59m-2.2,0a2.2,2.2 0 1,0 4.4,0a2.2,2.2 0 1,0 -4.4,0M186.5,247.74m-2.2,0a2.2,2.2 0 1,0 4.4,0a2.2,2.2 0 1,0 -4.4,0M189.15,249.09m-2.2,0a2.2,2.2 0 1,0 4.4,0a2.2,2.2 0 1,0 -4.4,0M191.8,250.54m-2.2,0a2.2,2.2 0 1,0 4.4,0a2.2,2.2 0 1,0 -4.4,0M194.45,252.01m-2.2,0a2.2,2.2 0 1,0 4.4,0a2.2,2.2 0 1,0 -4.4,0M197.1,253.41m-2.2,0a2.2,2.2 0 1,0 4.4,0a2.2,2.2 0 1,0 -4.4,0M199.75,254.73m-2.2,0a2.2,2.2 0 1,0 4.4,0a2.2,2.2 0 1,0 -4.4,0M202.4,256.22m-2.2,0a2.2,2.2 0 1,0 4.4,0a2.2,2.2 0 1,0 -4.4,0M205.05,257.79m-2.2,0a2.2,2.2 0 1,0 4.4,0a2.2,2.2 0 1,0 -4.4,0M207.7,259.26m-2.2,0a2.2,2.2 0 1,0 4.4,0a2.2,2.2 0 1,0 -4.4,0M210.35,260.45m-2.2,0a2.2,2.2 0 1,0 4.4,0a2.2,2.2 0 1,0 -4.4,0M213,261.17m-2.2,0a2.2,2.2 0 1,0 4.4,0a2.2,2.2 0 1,0 -4.4,0M215.65,261.26m-2.2,0a2.2,2.2 0 1,0 4.4,0a2.2,2.2 0 1,0 -4.4,0M218.3,260.85m-2.2,0a2.2,2.2 0 1,0 4.4,0a2.2,2.2 0 1,0 -4.4,0M220.95,260.11m-2.2,0a2.2,2.2 0 1,0 4.4,0a2.2,2.2 0 1,0 -4.4,0M223.6,259.19m-2.2,0a2.2,2.2 0 1,0 4.4,0a2.2,2.2 0 1,0 -4.4,0M226.25,258.22m-2.2,0a2.2,2.2 0 1,0 4.4,0a2.2,2.2 0 1,0 -4.4,0M228.9,257.11m-2.2,0a2.2,2.2 0 1,0 4.4,0a2.2,2.2 0 1,0 -4.4,0M231.55,255.66m-2.2,0a2.2,2.2 0 1,0 4.4,0a2.2,2.2 0 1,0 -4.4,0M234.2,254.13m-2.2,0a2.2,2.2 0 1,0 4.4,0a2.2,2.2 0 1,0 -4.4,0M236.85,252.79m-2.2,0a2.2,2.2 0 1,0 4.4,0a2.2,2.2 0 1,0 -4.4,0M239.5,251.86m-2.2,0a2.2,2.2 0 1,0 4.4,0a2.2,2.2 0 1,0 -4.4,0M242.15,251.09m-2.2,0a2.2,2.2 0 1,0 4.4,0a2.2,2.2 0 1,0 -4.4,0M244.8,250.35m-2.2,0a2.2,2.2 0 1,0 4.4,0a2.2,2.2 0 1,0 -4.4,0M247.45,249.66m-2.2,0a2.2,2.2 0 1,0 4.4,0a2.2,2.2 0 1,0 -4.4,0M250.1,249.07m-2.2,0a2.2,2.2 0 1,0 4.4,0a2.2,2.2 0 1,0 -4.4,0M252.75,248.59m-2.2,0a2.2,2.2 0 1,0 4.4,0a2.2,2.2 0 1,0 -4.4,0M255.4,248.26m-2.2,0a2.2,2.2 0 1,0 4.4,0a2.2,2.2 0 1,0 -4.4,0M258.05,248.11m-2.2,0a2.2,2.2 0 1,0 4.4,0a2.2,2.2 0 1,0 -4.4,0M260.7,248.29m-2.2,0a2.2,2.2 0 1,0 4.4,0a2.2,2.2 0 1,0 -4.4,0M263.35,249.04m-2.2,0a2.2,2.2 0 1,0 4.4,0a2.2,2.2 0 1,0 -4.4,0M266,250.14m-2.2,0a2.2,2.2 0 1,0 4.4,0a2.2,2.2 0 1,0 -4.4,0M268.65,251.32m-2.2,0a2.2,2.2 0 1,0 4.4,0a2.2,2.2 0 1,0 -4.4,0M271.3,252.31m-2.2,0a2.2,2.2 0 1,0 4.4,0a2.2,2.2 0 1,0 -4.4,0M273.95,252.86m-2.2,0a2.2,2.2 0 1,0 4.4,0a2.2,2.2 0 1,0 -4.4,0M276.6,252.8m-2.2,0a2.2,2.2 0 1,0 4.4,0a2.2,2.2 0 1,0 -4.4,0M279.25,252.38m-2.2,0a2.2,2.2 0 1,0 4.4,0a2.2,2.2 0 1,0 -4.4,0M281.9,251.75m-2.2,0a2.2,2.2 0 1,0 4.4,0a2.2,2.2 0 1,0 -4.4,0M284.55,251.06m-2.2,0a2.2,2.2 0 1,0 4.4,0a2.2,2.2 0 1,0 -4.4,0M287.2,250.48m-2.2,0a2.2,2.2 0 1,0 4.4,0a2.2,2.2 0 1,0 -4.4,0M289.85,250.13m-2.2,0a2.2,2.2 0 1,0 4.4,0a2.2,2.2 0 1,0 -4.4,0M292.5,250.1m-2.2,0a2.2,2.2 0 1,0 4.4,0a2.2,2.2 0 1,0 -4.4,0M295.15,250.1m-2.2,0a2.2,2.2 0 1,0 4.4,0a2.2,2.2 0 1,0 -4.4,0M297.8,250.1m-2.2,0a2.2,2.2 0 1,0 4.4,0a2.2,2.2 0 1,0 -4.4,0M300.45,250.1m-2.2,0a2.2,2.2 0 1,0 4.4,0a2.2,2.2 0 1,0 -4.4,0M303.1,250.1m-2.2,0a2.2,2.2 0 1,0 4.4,0a2.2,2.2 0 1,0 -4.4,0M305.75,250.1m-2.2,0a2.2,2.2 0 1,0 4.4,0a2.2,2.2 0 1,0 -4.4,0M308.4,250.1m-2.2,0a2.2,2.2 0 1,0 4.4,0a2.2,2.2 0 1,0 -4.4,0M311.05,250.1m-2.2,0a2.2,2.2 0 1,0 4.4,0a2.2,2.2 0 1,0 -4.4,0M313.7,250.1m-2.2,0a2.2,2.2 0 1,0 4.4,0a2.2,2.2 0 1,0 -4.4,0M316.35,250.1m-2.2,0a2.2,2.2 0 1,0 4.4,0a2.2,2.2 0 1,0 -4.4,0M319,250.1m-2.2,0a2.2,2.2 0 1,0 4.4,0a2.2,2.2 0 1,0 -4.4,0" fill="none" stroke="#ff1f1f" stroke-width="1.15"/>
<polyline points="54,262.2 56.65,261.91 59.3,261.5 61.95,261.01 64.6,260.44 67.25,259.78 69.9,258.76 72.55,257.45 75.2,256 77.85,254.59 80.5,253.37 83.15,252.48 85.8,252.1 88.45,252.45 91.1,253.52 93.75,255.08 96.4,256.87 99.05,258.72 101.7,261.19 104.35,264.15 107,267.15 109.65,269.75 112.3,271.98 114.95,274.13 117.6,275.35 120.25,274.69 122.9,272.24 125.55,269.07 128.2,265.53 130.85,260.74 133.5,255.88 136.15,252.24 138.8,249.81 141.45,247.52 144.1,245.56 146.75,244.12 149.4,243.37 152.05,243.35 154.7,243.59 157.35,244 160,244.54 162.65,245.16 165.3,245.82 167.95,246.54 170.6,247.49 173.25,248.66 175.9,249.96 178.55,251.35 181.2,252.74 183.85,254.08 186.5,255.3 189.15,256.53 191.8,257.89 194.45,259.3 197.1,260.71 199.75,262.02 202.4,263.19 205.05,264.12 207.7,264.74 210.35,265 213,264.87 215.65,264.46 218.3,263.85 220.95,263.08 223.6,262.24 226.25,261.37 228.9,260.56 231.55,259.85 234.2,259.05 236.85,258.23 239.5,257.49 242.15,256.97 244.8,256.67 247.45,256.39 250.1,256.14 252.75,255.91 255.4,255.71 258.05,255.55 260.7,255.42 263.35,255.34 266,255.3 268.65,255.33 271.3,255.45 273.95,255.64 276.6,255.88 279.25,256.14 281.9,256.4 284.55,256.63 287.2,256.8 289.85,256.89 292.5,256.9 295.15,256.9 297.8,256.9 300.45,256.9 303.1,256.9 305.75,256.9 308.4,256.9 311.05,256.9 313.7,256.9 316.35,256.9 319,256.9" fill="none" stroke="#1414ff" stroke-width="1.1" stroke-linejoin="round"/>
<path d="M52.25,260.45h3.5v3.5h-3.5zM54.9,260.16h3.5v3.5h-3.5zM57.55,259.75h3.5v3.5h-3.5zM60.2,259.26h3.5v3.5h-3.5zM62.85,258.69h3.5v3.5h-3.5zM65.5,258.03h3.5v3.5h-3.5zM68.15,257.01h3.5v3.5h-3.5zM70.8,255.7h3.5v3.5h-3.5zM73.45,254.25h3.5v3.5h-3.5zM76.1,252.84h3.5v3.5h-3.5zM78.75,251.62h3.5v3.5h-3.5zM81.4,250.73h3.5v3.5h-3.5zM84.05,250.35h3.5v3.5h-3.5zM86.7,250.7h3.5v3.5h-3.5zM89.35,251.77h3.5v3.5h-3.5zM92,253.33h3.5v3.5h-3.5zM94.65,255.12h3.5v3.5h-3.5zM97.3,256.97h3.5v3.5h-3.5zM99.95,259.44h3.5v3.5h-3.5zM102.6,262.4h3.5v3.5h-3.5zM105.25,265.4h3.5v3.5h-3.5zM107.9,268h3.5v3.5h-3.5zM110.55,270.23h3.5v3.5h-3.5zM113.2,272.38h3.5v3.5h-3.5zM115.85,273.6h3.5v3.5h-3.5zM118.5,272.94h3.5v3.5h-3.5zM121.15,270.49h3.5v3.5h-3.5zM123.8,267.32h3.5v3.5h-3.5zM126.45,263.78h3.5v3.5h-3.5zM129.1,258.99h3.5v3.5h-3.5zM131.75,254.13h3.5v3.5h-3.5zM134.4,250.49h3.5v3.5h-3.5zM137.05,248.06h3.5v3.5h-3.5zM139.7,245.77h3.5v3.5h-3.5zM142.35,243.81h3.5v3.5h-3.5zM145,242.37h3.5v3.5h-3.5zM147.65,241.62h3.5v3.5h-3.5zM150.3,241.6h3.5v3.5h-3.5zM152.95,241.84h3.5v3.5h-3.5zM155.6,242.25h3.5v3.5h-3.5zM158.25,242.79h3.5v3.5h-3.5zM160.9,243.41h3.5v3.5h-3.5zM163.55,244.07h3.5v3.5h-3.5zM166.2,244.79h3.5v3.5h-3.5zM168.85,245.74h3.5v3.5h-3.5zM171.5,246.91h3.5v3.5h-3.5zM174.15,248.21h3.5v3.5h-3.5zM176.8,249.6h3.5v3.5h-3.5zM179.45,250.99h3.5v3.5h-3.5zM182.1,252.33h3.5v3.5h-3.5zM184.75,253.55h3.5v3.5h-3.5zM187.4,254.78h3.5v3.5h-3.5zM190.05,256.14h3.5v3.5h-3.5zM192.7,257.55h3.5v3.5h-3.5zM195.35,258.96h3.5v3.5h-3.5zM198,260.27h3.5v3.5h-3.5zM200.65,261.44h3.5v3.5h-3.5zM203.3,262.37h3.5v3.5h-3.5zM205.95,262.99h3.5v3.5h-3.5zM208.6,263.25h3.5v3.5h-3.5zM211.25,263.12h3.5v3.5h-3.5zM213.9,262.71h3.5v3.5h-3.5zM216.55,262.1h3.5v3.5h-3.5zM219.2,261.33h3.5v3.5h-3.5zM221.85,260.49h3.5v3.5h-3.5zM224.5,259.62h3.5v3.5h-3.5zM227.15,258.81h3.5v3.5h-3.5zM229.8,258.1h3.5v3.5h-3.5zM232.45,257.3h3.5v3.5h-3.5zM235.1,256.48h3.5v3.5h-3.5zM237.75,255.74h3.5v3.5h-3.5zM240.4,255.22h3.5v3.5h-3.5zM243.05,254.92h3.5v3.5h-3.5zM245.7,254.64h3.5v3.5h-3.5zM248.35,254.39h3.5v3.5h-3.5zM251,254.16h3.5v3.5h-3.5zM253.65,253.96h3.5v3.5h-3.5zM256.3,253.8h3.5v3.5h-3.5zM258.95,253.67h3.5v3.5h-3.5zM261.6,253.59h3.5v3.5h-3.5zM264.25,253.55h3.5v3.5h-3.5zM266.9,253.58h3.5v3.5h-3.5zM269.55,253.7h3.5v3.5h-3.5zM272.2,253.89h3.5v3.5h-3.5zM274.85,254.13h3.5v3.5h-3.5zM277.5,254.39h3.5v3.5h-3.5zM280.15,254.65h3.5v3.5h-3.5zM282.8,254.88h3.5v3.5h-3.5zM285.45,255.05h3.5v3.5h-3.5zM288.1,255.14h3.5v3.5h-3.5zM290.75,255.15h3.5v3.5h-3.5zM293.4,255.15h3.5v3.5h-3.5zM296.05,255.15h3.5v3.5h-3.5zM298.7,255.15h3.5v3.5h-3.5zM301.35,255.15h3.5v3.5h-3.5zM304,255.15h3.5v3.5h-3.5zM306.65,255.15h3.5v3.5h-3.5zM309.3,255.15h3.5v3.5h-3.5zM311.95,255.15h3.5v3.5h-3.5zM314.6,255.15h3.5v3.5h-3.5zM317.25,255.15h3.5v3.5h-3.5z" fill="none" stroke="#1414ff" stroke-width="1.15"/>
<polygon points="53.1,247.7 55.73,255.78 64.23,255.78 57.35,260.78 59.98,268.87 53.1,263.87 46.22,268.87 48.85,260.78 41.97,255.78 50.47,255.78" fill="#47c15c" stroke="none" stroke-width="1"/>
<text x="314.9" y="281.7" font-size="15.4" text-anchor="end" fill="#111">Driver11</text>
<rect x="406.6" y="51.4" width="270.1" height="56.8" fill="#fff" stroke="none" stroke-width="1"/>
<line x1="470.16" y1="51.4" x2="470.16" y2="108.2" stroke="#e9e9e9" stroke-width="0.8"/>
<line x1="533.72" y1="51.4" x2="533.72" y2="108.2" stroke="#e9e9e9" stroke-width="0.8"/>
<line x1="597.28" y1="51.4" x2="597.28" y2="108.2" stroke="#e9e9e9" stroke-width="0.8"/>
<line x1="660.84" y1="51.4" x2="660.84" y2="108.2" stroke="#e9e9e9" stroke-width="0.8"/>
<line x1="406.6" y1="59.4" x2="676.7" y2="59.4" stroke="#e9e9e9" stroke-width="0.8"/>
<line x1="406.6" y1="75.4" x2="676.7" y2="75.4" stroke="#e9e9e9" stroke-width="0.8"/>
<line x1="406.6" y1="91.4" x2="676.7" y2="91.4" stroke="#e9e9e9" stroke-width="0.8"/>
<line x1="406.6" y1="107.4" x2="676.7" y2="107.4" stroke="#e9e9e9" stroke-width="0.8"/>
<rect x="406.6" y="51.4" width="270.1" height="56.8" fill="none" stroke="#9a9a9a" stroke-width="1"/>
<line x1="406.6" y1="108.2" x2="406.6" y2="105.2" stroke="#9a9a9a" stroke-width="1"/>
<line x1="406.6" y1="51.4" x2="406.6" y2="54.4" stroke="#9a9a9a" stroke-width="1"/>
<text x="406.6" y="128" font-size="14" text-anchor="middle" fill="#111">0</text>
<line x1="470.16" y1="108.2" x2="470.16" y2="105.2" stroke="#9a9a9a" stroke-width="1"/>
<line x1="470.16" y1="51.4" x2="470.16" y2="54.4" stroke="#9a9a9a" stroke-width="1"/>
<text x="470.16" y="128" font-size="14" text-anchor="middle" fill="#111">2</text>
<line x1="533.72" y1="108.2" x2="533.72" y2="105.2" stroke="#9a9a9a" stroke-width="1"/>
<line x1="533.72" y1="51.4" x2="533.72" y2="54.4" stroke="#9a9a9a" stroke-width="1"/>
<text x="533.72" y="128" font-size="14" text-anchor="middle" fill="#111">4</text>
<line x1="597.28" y1="108.2" x2="597.28" y2="105.2" stroke="#9a9a9a" stroke-width="1"/>
<line x1="597.28" y1="51.4" x2="597.28" y2="54.4" stroke="#9a9a9a" stroke-width="1"/>
<text x="597.28" y="128" font-size="14" text-anchor="middle" fill="#111">6</text>
<line x1="660.84" y1="108.2" x2="660.84" y2="105.2" stroke="#9a9a9a" stroke-width="1"/>
<line x1="660.84" y1="51.4" x2="660.84" y2="54.4" stroke="#9a9a9a" stroke-width="1"/>
<text x="660.84" y="128" font-size="14" text-anchor="middle" fill="#111">8</text>
<line x1="406.6" y1="59.4" x2="409.6" y2="59.4" stroke="#9a9a9a" stroke-width="1"/>
<line x1="676.7" y1="59.4" x2="673.7" y2="59.4" stroke="#9a9a9a" stroke-width="1"/>
<text x="400.8" y="65.4" font-size="14" text-anchor="end" fill="#111">40</text>
<line x1="406.6" y1="75.4" x2="409.6" y2="75.4" stroke="#9a9a9a" stroke-width="1"/>
<line x1="676.7" y1="75.4" x2="673.7" y2="75.4" stroke="#9a9a9a" stroke-width="1"/>
<text x="400.8" y="81.4" font-size="14" text-anchor="end" fill="#111">20</text>
<line x1="406.6" y1="91.4" x2="409.6" y2="91.4" stroke="#9a9a9a" stroke-width="1"/>
<line x1="676.7" y1="91.4" x2="673.7" y2="91.4" stroke="#9a9a9a" stroke-width="1"/>
<text x="400.8" y="97.4" font-size="14" text-anchor="end" fill="#111">0</text>
<line x1="406.6" y1="107.4" x2="409.6" y2="107.4" stroke="#9a9a9a" stroke-width="1"/>
<line x1="676.7" y1="107.4" x2="673.7" y2="107.4" stroke="#9a9a9a" stroke-width="1"/>
<text x="400.8" y="113.4" font-size="14" text-anchor="end" fill="#111">-20</text>
<line x1="594.7" y1="51.4" x2="594.7" y2="108.2" stroke="#47c15c" stroke-width="1.6" stroke-dasharray="4.5,3"/>
<polyline points="410,91.2 412.66,91.23 415.33,91.27 417.99,91.32 420.65,91.39 423.32,91.46 425.98,91.54 428.64,91.62 431.31,91.75 433.97,91.91 436.63,92.07 439.3,92.18 441.96,92.18 444.62,91.88 447.29,91.36 449.95,90.33 452.61,88.27 455.28,86.1 457.94,84.54 460.6,83.18 463.27,81.94 465.93,80.75 468.59,79.57 471.26,78.35 473.92,76.98 476.58,75.32 479.24,73.56 481.91,71.94 484.57,70.67 487.23,69.97 489.9,70.05 492.56,70.85 495.22,72.13 497.89,73.66 500.55,75.71 503.21,78.74 505.88,82.13 508.54,85.25 511.2,88.13 513.87,90.97 516.53,93.6 519.19,95.86 521.86,98.14 524.52,99.19 527.18,96.59 529.85,91.02 532.51,85.08 535.17,78.17 537.84,70.03 540.5,63.68 543.16,62.04 545.83,64.91 548.49,69.88 551.15,74.86 553.82,77.75 556.48,77.67 559.14,76.79 561.81,75.52 564.47,73.35 567.13,69.23 569.8,65.1 572.46,63.11 575.12,64.26 577.79,67.2 580.45,70.71 583.11,73.58 585.78,76.37 588.44,79.26 591.1,81.66 593.77,82.99 596.43,83.07 599.09,82.92 601.76,82.69 604.42,82.43 607.08,82.18 609.74,81.99 612.41,81.9 615.07,81.93 617.73,82.04 620.4,82.19 623.06,82.37 625.72,82.57 628.39,82.76 631.05,82.93 633.71,83.05 636.38,83.1 639.04,83.02 641.7,82.73 644.37,82.29 647.03,81.74 649.69,81.14 652.36,80.53 655.02,79.97 657.68,79.52 660.35,79.21 663.01,79.1 665.67,79.78 668.34,81.31 671,83.1" fill="none" stroke="#ff1f1f" stroke-width="1.1" stroke-linejoin="round"/>
<path d="M410,91.2m-2.2,0a2.2,2.2 0 1,0 4.4,0a2.2,2.2 0 1,0 -4.4,0M412.66,91.23m-2.2,0a2.2,2.2 0 1,0 4.4,0a2.2,2.2 0 1,0 -4.4,0M415.33,91.27m-2.2,0a2.2,2.2 0 1,0 4.4,0a2.2,2.2 0 1,0 -4.4,0M417.99,91.32m-2.2,0a2.2,2.2 0 1,0 4.4,0a2.2,2.2 0 1,0 -4.4,0M420.65,91.39m-2.2,0a2.2,2.2 0 1,0 4.4,0a2.2,2.2 0 1,0 -4.4,0M423.32,91.46m-2.2,0a2.2,2.2 0 1,0 4.4,0a2.2,2.2 0 1,0 -4.4,0M425.98,91.54m-2.2,0a2.2,2.2 0 1,0 4.4,0a2.2,2.2 0 1,0 -4.4,0M428.64,91.62m-2.2,0a2.2,2.2 0 1,0 4.4,0a2.2,2.2 0 1,0 -4.4,0M431.31,91.75m-2.2,0a2.2,2.2 0 1,0 4.4,0a2.2,2.2 0 1,0 -4.4,0M433.97,91.91m-2.2,0a2.2,2.2 0 1,0 4.4,0a2.2,2.2 0 1,0 -4.4,0M436.63,92.07m-2.2,0a2.2,2.2 0 1,0 4.4,0a2.2,2.2 0 1,0 -4.4,0M439.3,92.18m-2.2,0a2.2,2.2 0 1,0 4.4,0a2.2,2.2 0 1,0 -4.4,0M441.96,92.18m-2.2,0a2.2,2.2 0 1,0 4.4,0a2.2,2.2 0 1,0 -4.4,0M444.62,91.88m-2.2,0a2.2,2.2 0 1,0 4.4,0a2.2,2.2 0 1,0 -4.4,0M447.29,91.36m-2.2,0a2.2,2.2 0 1,0 4.4,0a2.2,2.2 0 1,0 -4.4,0M449.95,90.33m-2.2,0a2.2,2.2 0 1,0 4.4,0a2.2,2.2 0 1,0 -4.4,0M452.61,88.27m-2.2,0a2.2,2.2 0 1,0 4.4,0a2.2,2.2 0 1,0 -4.4,0M455.28,86.1m-2.2,0a2.2,2.2 0 1,0 4.4,0a2.2,2.2 0 1,0 -4.4,0M457.94,84.54m-2.2,0a2.2,2.2 0 1,0 4.4,0a2.2,2.2 0 1,0 -4.4,0M460.6,83.18m-2.2,0a2.2,2.2 0 1,0 4.4,0a2.2,2.2 0 1,0 -4.4,0M463.27,81.94m-2.2,0a2.2,2.2 0 1,0 4.4,0a2.2,2.2 0 1,0 -4.4,0M465.93,80.75m-2.2,0a2.2,2.2 0 1,0 4.4,0a2.2,2.2 0 1,0 -4.4,0M468.59,79.57m-2.2,0a2.2,2.2 0 1,0 4.4,0a2.2,2.2 0 1,0 -4.4,0M471.26,78.35m-2.2,0a2.2,2.2 0 1,0 4.4,0a2.2,2.2 0 1,0 -4.4,0M473.92,76.98m-2.2,0a2.2,2.2 0 1,0 4.4,0a2.2,2.2 0 1,0 -4.4,0M476.58,75.32m-2.2,0a2.2,2.2 0 1,0 4.4,0a2.2,2.2 0 1,0 -4.4,0M479.24,73.56m-2.2,0a2.2,2.2 0 1,0 4.4,0a2.2,2.2 0 1,0 -4.4,0M481.91,71.94m-2.2,0a2.2,2.2 0 1,0 4.4,0a2.2,2.2 0 1,0 -4.4,0M484.57,70.67m-2.2,0a2.2,2.2 0 1,0 4.4,0a2.2,2.2 0 1,0 -4.4,0M487.23,69.97m-2.2,0a2.2,2.2 0 1,0 4.4,0a2.2,2.2 0 1,0 -4.4,0M489.9,70.05m-2.2,0a2.2,2.2 0 1,0 4.4,0a2.2,2.2 0 1,0 -4.4,0M492.56,70.85m-2.2,0a2.2,2.2 0 1,0 4.4,0a2.2,2.2 0 1,0 -4.4,0M495.22,72.13m-2.2,0a2.2,2.2 0 1,0 4.4,0a2.2,2.2 0 1,0 -4.4,0M497.89,73.66m-2.2,0a2.2,2.2 0 1,0 4.4,0a2.2,2.2 0 1,0 -4.4,0M500.55,75.71m-2.2,0a2.2,2.2 0 1,0 4.4,0a2.2,2.2 0 1,0 -4.4,0M503.21,78.74m-2.2,0a2.2,2.2 0 1,0 4.4,0a2.2,2.2 0 1,0 -4.4,0M505.88,82.13m-2.2,0a2.2,2.2 0 1,0 4.4,0a2.2,2.2 0 1,0 -4.4,0M508.54,85.25m-2.2,0a2.2,2.2 0 1,0 4.4,0a2.2,2.2 0 1,0 -4.4,0M511.2,88.13m-2.2,0a2.2,2.2 0 1,0 4.4,0a2.2,2.2 0 1,0 -4.4,0M513.87,90.97m-2.2,0a2.2,2.2 0 1,0 4.4,0a2.2,2.2 0 1,0 -4.4,0M516.53,93.6m-2.2,0a2.2,2.2 0 1,0 4.4,0a2.2,2.2 0 1,0 -4.4,0M519.19,95.86m-2.2,0a2.2,2.2 0 1,0 4.4,0a2.2,2.2 0 1,0 -4.4,0M521.86,98.14m-2.2,0a2.2,2.2 0 1,0 4.4,0a2.2,2.2 0 1,0 -4.4,0M524.52,99.19m-2.2,0a2.2,2.2 0 1,0 4.4,0a2.2,2.2 0 1,0 -4.4,0M527.18,96.59m-2.2,0a2.2,2.2 0 1,0 4.4,0a2.2,2.2 0 1,0 -4.4,0M529.85,91.02m-2.2,0a2.2,2.2 0 1,0 4.4,0a2.2,2.2 0 1,0 -4.4,0M532.51,85.08m-2.2,0a2.2,2.2 0 1,0 4.4,0a2.2,2.2 0 1,0 -4.4,0M535.17,78.17m-2.2,0a2.2,2.2 0 1,0 4.4,0a2.2,2.2 0 1,0 -4.4,0M537.84,70.03m-2.2,0a2.2,2.2 0 1,0 4.4,0a2.2,2.2 0 1,0 -4.4,0M540.5,63.68m-2.2,0a2.2,2.2 0 1,0 4.4,0a2.2,2.2 0 1,0 -4.4,0M543.16,62.04m-2.2,0a2.2,2.2 0 1,0 4.4,0a2.2,2.2 0 1,0 -4.4,0M545.83,64.91m-2.2,0a2.2,2.2 0 1,0 4.4,0a2.2,2.2 0 1,0 -4.4,0M548.49,69.88m-2.2,0a2.2,2.2 0 1,0 4.4,0a2.2,2.2 0 1,0 -4.4,0M551.15,74.86m-2.2,0a2.2,2.2 0 1,0 4.4,0a2.2,2.2 0 1,0 -4.4,0M553.82,77.75m-2.2,0a2.2,2.2 0 1,0 4.4,0a2.2,2.2 0 1,0 -4.4,0M556.48,77.67m-2.2,0a2.2,2.2 0 1,0 4.4,0a2.2,2.2 0 1,0 -4.4,0M559.14,76.79m-2.2,0a2.2,2.2 0 1,0 4.4,0a2.2,2.2 0 1,0 -4.4,0M561.81,75.52m-2.2,0a2.2,2.2 0 1,0 4.4,0a2.2,2.2 0 1,0 -4.4,0M564.47,73.35m-2.2,0a2.2,2.2 0 1,0 4.4,0a2.2,2.2 0 1,0 -4.4,0M567.13,69.23m-2.2,0a2.2,2.2 0 1,0 4.4,0a2.2,2.2 0 1,0 -4.4,0M569.8,65.1m-2.2,0a2.2,2.2 0 1,0 4.4,0a2.2,2.2 0 1,0 -4.4,0M572.46,63.11m-2.2,0a2.2,2.2 0 1,0 4.4,0a2.2,2.2 0 1,0 -4.4,0M575.12,64.26m-2.2,0a2.2,2.2 0 1,0 4.4,0a2.2,2.2 0 1,0 -4.4,0M577.79,67.2m-2.2,0a2.2,2.2 0 1,0 4.4,0a2.2,2.2 0 1,0 -4.4,0M580.45,70.71m-2.2,0a2.2,2.2 0 1,0 4.4,0a2.2,2.2 0 1,0 -4.4,0M583.11,73.58m-2.2,0a2.2,2.2 0 1,0 4.4,0a2.2,2.2 0 1,0 -4.4,0M585.78,76.37m-2.2,0a2.2,2.2 0 1,0 4.4,0a2.2,2.2 0 1,0 -4.4,0M588.44,79.26m-2.2,0a2.2,2.2 0 1,0 4.4,0a2.2,2.2 0 1,0 -4.4,0M591.1,81.66m-2.2,0a2.2,2.2 0 1,0 4.4,0a2.2,2.2 0 1,0 -4.4,0M593.77,82.99m-2.2,0a2.2,2.2 0 1,0 4.4,0a2.2,2.2 0 1,0 -4.4,0M596.43,83.07m-2.2,0a2.2,2.2 0 1,0 4.4,0a2.2,2.2 0 1,0 -4.4,0M599.09,82.92m-2.2,0a2.2,2.2 0 1,0 4.4,0a2.2,2.2 0 1,0 -4.4,0M601.76,82.69m-2.2,0a2.2,2.2 0 1,0 4.4,0a2.2,2.2 0 1,0 -4.4,0M604.42,82.43m-2.2,0a2.2,2.2 0 1,0 4.4,0a2.2,2.2 0 1,0 -4.4,0M607.08,82.18m-2.2,0a2.2,2.2 0 1,0 4.4,0a2.2,2.2 0 1,0 -4.4,0M609.74,81.99m-2.2,0a2.2,2.2 0 1,0 4.4,0a2.2,2.2 0 1,0 -4.4,0M612.41,81.9m-2.2,0a2.2,2.2 0 1,0 4.4,0a2.2,2.2 0 1,0 -4.4,0M615.07,81.93m-2.2,0a2.2,2.2 0 1,0 4.4,0a2.2,2.2 0 1,0 -4.4,0M617.73,82.04m-2.2,0a2.2,2.2 0 1,0 4.4,0a2.2,2.2 0 1,0 -4.4,0M620.4,82.19m-2.2,0a2.2,2.2 0 1,0 4.4,0a2.2,2.2 0 1,0 -4.4,0M623.06,82.37m-2.2,0a2.2,2.2 0 1,0 4.4,0a2.2,2.2 0 1,0 -4.4,0M625.72,82.57m-2.2,0a2.2,2.2 0 1,0 4.4,0a2.2,2.2 0 1,0 -4.4,0M628.39,82.76m-2.2,0a2.2,2.2 0 1,0 4.4,0a2.2,2.2 0 1,0 -4.4,0M631.05,82.93m-2.2,0a2.2,2.2 0 1,0 4.4,0a2.2,2.2 0 1,0 -4.4,0M633.71,83.05m-2.2,0a2.2,2.2 0 1,0 4.4,0a2.2,2.2 0 1,0 -4.4,0M636.38,83.1m-2.2,0a2.2,2.2 0 1,0 4.4,0a2.2,2.2 0 1,0 -4.4,0M639.04,83.02m-2.2,0a2.2,2.2 0 1,0 4.4,0a2.2,2.2 0 1,0 -4.4,0M641.7,82.73m-2.2,0a2.2,2.2 0 1,0 4.4,0a2.2,2.2 0 1,0 -4.4,0M644.37,82.29m-2.2,0a2.2,2.2 0 1,0 4.4,0a2.2,2.2 0 1,0 -4.4,0M647.03,81.74m-2.2,0a2.2,2.2 0 1,0 4.4,0a2.2,2.2 0 1,0 -4.4,0M649.69,81.14m-2.2,0a2.2,2.2 0 1,0 4.4,0a2.2,2.2 0 1,0 -4.4,0M652.36,80.53m-2.2,0a2.2,2.2 0 1,0 4.4,0a2.2,2.2 0 1,0 -4.4,0M655.02,79.97m-2.2,0a2.2,2.2 0 1,0 4.4,0a2.2,2.2 0 1,0 -4.4,0M657.68,79.52m-2.2,0a2.2,2.2 0 1,0 4.4,0a2.2,2.2 0 1,0 -4.4,0M660.35,79.21m-2.2,0a2.2,2.2 0 1,0 4.4,0a2.2,2.2 0 1,0 -4.4,0M663.01,79.1m-2.2,0a2.2,2.2 0 1,0 4.4,0a2.2,2.2 0 1,0 -4.4,0M665.67,79.78m-2.2,0a2.2,2.2 0 1,0 4.4,0a2.2,2.2 0 1,0 -4.4,0M668.34,81.31m-2.2,0a2.2,2.2 0 1,0 4.4,0a2.2,2.2 0 1,0 -4.4,0M671,83.1m-2.2,0a2.2,2.2 0 1,0 4.4,0a2.2,2.2 0 1,0 -4.4,0" fill="none" stroke="#ff1f1f" stroke-width="1.15"/>
<polyline points="410,91.2 412.66,91.2 415.33,91.2 417.99,91.2 420.65,91.2 423.32,91.2 425.98,91.2 428.64,91.2 431.31,91.2 433.97,91.2 436.63,91.2 439.3,91.2 441.96,91.2 444.62,91.22 447.29,91.88 449.95,93.14 452.61,94.6 455.28,95.82 457.94,96.39 460.6,96 463.27,94.85 465.93,93.28 468.59,91.66 471.26,90.33 473.92,89.47 476.58,88.65 479.24,87.86 481.91,87.15 484.57,86.57 487.23,86.17 489.9,86 492.56,86.11 495.22,86.48 497.89,87.07 500.55,87.85 503.21,88.76 505.88,89.98 508.54,92.29 511.2,95.3 513.87,98.49 516.53,101.33 519.19,104.34 521.86,107.2 524.52,108.4 527.18,107.05 529.85,103.92 532.51,100.02 535.17,96.22 537.84,91.07 540.5,85.51 543.16,81.68 545.83,81.28 548.49,82.52 551.15,84.44 553.82,86.45 556.48,87.95 559.14,88.39 561.81,87.96 564.47,87.15 567.13,86.22 569.8,85.44 572.46,85.1 575.12,85.42 577.79,86.31 580.45,87.57 583.11,89 585.78,90.4 588.44,91.55 591.1,92.27 593.77,92.4 596.43,92.4 599.09,92.4 601.76,92.4 604.42,92.4 607.08,92.4 609.74,92.4 612.41,92.4 615.07,92.4 617.73,92.4 620.4,92.37 623.06,92.3 625.72,92.22 628.39,92.11 631.05,91.99 633.71,91.86 636.38,91.72 639.04,91.59 641.7,91.47 644.37,91.37 647.03,91.28 649.69,91.23 652.36,91.2 655.02,91.26 657.68,91.48 660.35,91.84 663.01,92.3 665.67,92.84 668.34,93.41 671,94" fill="none" stroke="#1414ff" stroke-width="1.1" stroke-linejoin="round"/>
<path d="M408.25,89.45h3.5v3.5h-3.5zM410.91,89.45h3.5v3.5h-3.5zM413.58,89.45h3.5v3.5h-3.5zM416.24,89.45h3.5v3.5h-3.5zM418.9,89.45h3.5v3.5h-3.5zM421.57,89.45h3.5v3.5h-3.5zM424.23,89.45h3.5v3.5h-3.5zM426.89,89.45h3.5v3.5h-3.5zM429.56,89.45h3.5v3.5h-3.5zM432.22,89.45h3.5v3.5h-3.5zM434.88,89.45h3.5v3.5h-3.5zM437.55,89.45h3.5v3.5h-3.5zM440.21,89.45h3.5v3.5h-3.5zM442.87,89.47h3.5v3.5h-3.5zM445.54,90.13h3.5v3.5h-3.5zM448.2,91.39h3.5v3.5h-3.5zM450.86,92.85h3.5v3.5h-3.5zM453.53,94.07h3.5v3.5h-3.5zM456.19,94.64h3.5v3.5h-3.5zM458.85,94.25h3.5v3.5h-3.5zM461.52,93.1h3.5v3.5h-3.5zM464.18,91.53h3.5v3.5h-3.5zM466.84,89.91h3.5v3.5h-3.5zM469.51,88.58h3.5v3.5h-3.5zM472.17,87.72h3.5v3.5h-3.5zM474.83,86.9h3.5v3.5h-3.5zM477.49,86.11h3.5v3.5h-3.5zM480.16,85.4h3.5v3.5h-3.5zM482.82,84.82h3.5v3.5h-3.5zM485.48,84.42h3.5v3.5h-3.5zM488.15,84.25h3.5v3.5h-3.5zM490.81,84.36h3.5v3.5h-3.5zM493.47,84.73h3.5v3.5h-3.5zM496.14,85.32h3.5v3.5h-3.5zM498.8,86.1h3.5v3.5h-3.5zM501.46,87.01h3.5v3.5h-3.5zM504.13,88.23h3.5v3.5h-3.5zM506.79,90.54h3.5v3.5h-3.5zM509.45,93.55h3.5v3.5h-3.5zM512.12,96.74h3.5v3.5h-3.5zM514.78,99.58h3.5v3.5h-3.5zM517.44,102.59h3.5v3.5h-3.5zM520.11,105.45h3.5v3.5h-3.5zM522.77,106.65h3.5v3.5h-3.5zM525.43,105.3h3.5v3.5h-3.5zM528.1,102.17h3.5v3.5h-3.5zM530.76,98.27h3.5v3.5h-3.5zM533.42,94.47h3.5v3.5h-3.5zM536.09,89.32h3.5v3.5h-3.5zM538.75,83.76h3.5v3.5h-3.5zM541.41,79.93h3.5v3.5h-3.5zM544.08,79.53h3.5v3.5h-3.5zM546.74,80.77h3.5v3.5h-3.5zM549.4,82.69h3.5v3.5h-3.5zM552.07,84.7h3.5v3.5h-3.5zM554.73,86.2h3.5v3.5h-3.5zM557.39,86.64h3.5v3.5h-3.5zM560.06,86.21h3.5v3.5h-3.5zM562.72,85.4h3.5v3.5h-3.5zM565.38,84.47h3.5v3.5h-3.5zM568.05,83.69h3.5v3.5h-3.5zM570.71,83.35h3.5v3.5h-3.5zM573.37,83.67h3.5v3.5h-3.5zM576.04,84.56h3.5v3.5h-3.5zM578.7,85.82h3.5v3.5h-3.5zM581.36,87.25h3.5v3.5h-3.5zM584.03,88.65h3.5v3.5h-3.5zM586.69,89.8h3.5v3.5h-3.5zM589.35,90.52h3.5v3.5h-3.5zM592.02,90.65h3.5v3.5h-3.5zM594.68,90.65h3.5v3.5h-3.5zM597.34,90.65h3.5v3.5h-3.5zM600.01,90.65h3.5v3.5h-3.5zM602.67,90.65h3.5v3.5h-3.5zM605.33,90.65h3.5v3.5h-3.5zM607.99,90.65h3.5v3.5h-3.5zM610.66,90.65h3.5v3.5h-3.5zM613.32,90.65h3.5v3.5h-3.5zM615.98,90.65h3.5v3.5h-3.5zM618.65,90.62h3.5v3.5h-3.5zM621.31,90.55h3.5v3.5h-3.5zM623.97,90.47h3.5v3.5h-3.5zM626.64,90.36h3.5v3.5h-3.5zM629.3,90.24h3.5v3.5h-3.5zM631.96,90.11h3.5v3.5h-3.5zM634.63,89.97h3.5v3.5h-3.5zM637.29,89.84h3.5v3.5h-3.5zM639.95,89.72h3.5v3.5h-3.5zM642.62,89.62h3.5v3.5h-3.5zM645.28,89.53h3.5v3.5h-3.5zM647.94,89.48h3.5v3.5h-3.5zM650.61,89.45h3.5v3.5h-3.5zM653.27,89.51h3.5v3.5h-3.5zM655.93,89.73h3.5v3.5h-3.5zM658.6,90.09h3.5v3.5h-3.5zM661.26,90.55h3.5v3.5h-3.5zM663.92,91.09h3.5v3.5h-3.5zM666.59,91.66h3.5v3.5h-3.5zM669.25,92.25h3.5v3.5h-3.5z" fill="none" stroke="#1414ff" stroke-width="1.15"/>
<polygon points="407.3,78.9 409.93,86.98 418.43,86.98 411.55,91.98 414.18,100.07 407.3,95.07 400.42,100.07 403.05,91.98 396.17,86.98 404.67,86.98" fill="#47c15c" stroke="none" stroke-width="1"/>
<text x="669.9" y="105.7" font-size="15.4" text-anchor="end" fill="#111">Driver 7</text>
<rect x="406.6" y="139.6" width="270.1" height="56.9" fill="#fff" stroke="none" stroke-width="1"/>
<line x1="470.16" y1="139.6" x2="470.16" y2="196.5" stroke="#e9e9e9" stroke-width="0.8"/>
<line x1="533.72" y1="139.6" x2="533.72" y2="196.5" stroke="#e9e9e9" stroke-width="0.8"/>
<line x1="597.28" y1="139.6" x2="597.28" y2="196.5" stroke="#e9e9e9" stroke-width="0.8"/>
<line x1="660.84" y1="139.6" x2="660.84" y2="196.5" stroke="#e9e9e9" stroke-width="0.8"/>
<line x1="406.6" y1="142.4" x2="676.7" y2="142.4" stroke="#e9e9e9" stroke-width="0.8"/>
<line x1="406.6" y1="160.3" x2="676.7" y2="160.3" stroke="#e9e9e9" stroke-width="0.8"/>
<line x1="406.6" y1="178.2" x2="676.7" y2="178.2" stroke="#e9e9e9" stroke-width="0.8"/>
<rect x="406.6" y="139.6" width="270.1" height="56.9" fill="none" stroke="#9a9a9a" stroke-width="1"/>
<line x1="406.6" y1="196.5" x2="406.6" y2="193.5" stroke="#9a9a9a" stroke-width="1"/>
<line x1="406.6" y1="139.6" x2="406.6" y2="142.6" stroke="#9a9a9a" stroke-width="1"/>
<text x="406.6" y="216.3" font-size="14" text-anchor="middle" fill="#111">0</text>
<line x1="470.16" y1="196.5" x2="470.16" y2="193.5" stroke="#9a9a9a" stroke-width="1"/>
<line x1="470.16" y1="139.6" x2="470.16" y2="142.6" stroke="#9a9a9a" stroke-width="1"/>
<text x="470.16" y="216.3" font-size="14" text-anchor="middle" fill="#111">2</text>
<line x1="533.72" y1="196.5" x2="533.72" y2="193.5" stroke="#9a9a9a" stroke-width="1"/>
<line x1="533.72" y1="139.6" x2="533.72" y2="142.6" stroke="#9a9a9a" stroke-width="1"/>
<text x="533.72" y="216.3" font-size="14" text-anchor="middle" fill="#111">4</text>
<line x1="597.28" y1="196.5" x2="597.28" y2="193.5" stroke="#9a9a9a" stroke-width="1"/>
<line x1="597.28" y1="139.6" x2="597.28" y2="142.6" stroke="#9a9a9a" stroke-width="1"/>
<text x="597.28" y="216.3" font-size="14" text-anchor="middle" fill="#111">6</text>
<line x1="660.84" y1="196.5" x2="660.84" y2="193.5" stroke="#9a9a9a" stroke-width="1"/>
<line x1="660.84" y1="139.6" x2="660.84" y2="142.6" stroke="#9a9a9a" stroke-width="1"/>
<text x="660.84" y="216.3" font-size="14" text-anchor="middle" fill="#111">8</text>
<line x1="406.6" y1="142.4" x2="409.6" y2="142.4" stroke="#9a9a9a" stroke-width="1"/>
<line x1="676.7" y1="142.4" x2="673.7" y2="142.4" stroke="#9a9a9a" stroke-width="1"/>
<text x="400.8" y="148.4" font-size="14" text-anchor="end" fill="#111">10</text>
<line x1="406.6" y1="160.3" x2="409.6" y2="160.3" stroke="#9a9a9a" stroke-width="1"/>
<line x1="676.7" y1="160.3" x2="673.7" y2="160.3" stroke="#9a9a9a" stroke-width="1"/>
<text x="400.8" y="166.3" font-size="14" text-anchor="end" fill="#111">0</text>
<line x1="406.6" y1="178.2" x2="409.6" y2="178.2" stroke="#9a9a9a" stroke-width="1"/>
<line x1="676.7" y1="178.2" x2="673.7" y2="178.2" stroke="#9a9a9a" stroke-width="1"/>
<text x="400.8" y="184.2" font-size="14" text-anchor="end" fill="#111">-10</text>
<line x1="406.6" y1="196.1" x2="409.6" y2="196.1" stroke="#9a9a9a" stroke-width="1"/>
<line x1="676.7" y1="196.1" x2="673.7" y2="196.1" stroke="#9a9a9a" stroke-width="1"/>
<text x="400.8" y="202.1" font-size="14" text-anchor="end" fill="#111">-20</text>
<line x1="604.7" y1="139.6" x2="604.7" y2="196.5" stroke="#47c15c" stroke-width="1.6" stroke-dasharray="4.5,3"/>
<polyline points="410,160.1 412.66,156.79 415.31,153.84 417.97,151.46 420.63,149.84 423.28,148.68 425.94,147.74 428.6,146.96 431.25,146.3 433.91,145.67 436.57,145.04 439.22,144.49 441.88,144.11 444.54,144.03 447.19,145.16 449.85,147.37 452.51,149.82 455.16,151.7 457.82,152.52 460.47,153.15 463.13,153.66 465.79,153.99 468.44,154.1 471.1,153.65 473.76,152.6 476.41,151.18 479.07,149.61 481.73,148.11 484.38,146.89 487.04,146.19 489.7,146.27 492.35,147.37 495.01,149.11 497.67,151.07 500.32,152.82 502.98,153.92 505.64,154 508.29,153.21 510.95,151.91 513.61,150.43 516.26,149.1 518.92,148.24 521.58,148.55 524.23,152.05 526.89,157.15 529.55,165.9 532.2,175.36 534.86,183.13 537.52,190.44 540.17,194.15 542.83,192.42 545.48,187.32 548.14,181.02 550.8,173.13 553.45,162.95 556.11,154.97 558.77,150.9 561.42,147.72 564.08,146.15 566.74,147.14 569.39,150.59 572.05,155.14 574.71,161.34 577.36,170.16 580.02,177.3 582.68,180.75 585.33,183.04 587.99,182.7 590.65,178.3 593.3,173.04 595.96,166.83 598.62,160.25 601.27,155.17 603.93,150.95 606.59,147.56 609.24,145.92 611.9,145.2 614.56,144.7 617.21,144.32 619.87,143.99 622.53,143.61 625.18,143.12 627.84,142.41 630.49,141.56 633.15,140.68 635.81,139.92 638.46,139.38 641.12,139.2 643.78,139.34 646.43,139.69 649.09,140.18 651.75,140.77 654.4,141.41 657.06,142.04 659.72,142.7 662.37,143.47 665.03,144.32 667.69,145.25 670.34,146.25 673,147.3" fill="none" stroke="#ff1f1f" stroke-width="1.1" stroke-linejoin="round"/>
<path d="M410,160.1m-2.2,0a2.2,2.2 0 1,0 4.4,0a2.2,2.2 0 1,0 -4.4,0M412.66,156.79m-2.2,0a2.2,2.2 0 1,0 4.4,0a2.2,2.2 0 1,0 -4.4,0M415.31,153.84m-2.2,0a2.2,2.2 0 1,0 4.4,0a2.2,2.2 0 1,0 -4.4,0M417.97,151.46m-2.2,0a2.2,2.2 0 1,0 4.4,0a2.2,2.2 0 1,0 -4.4,0M420.63,149.84m-2.2,0a2.2,2.2 0 1,0 4.4,0a2.2,2.2 0 1,0 -4.4,0M423.28,148.68m-2.2,0a2.2,2.2 0 1,0 4.4,0a2.2,2.2 0 1,0 -4.4,0M425.94,147.74m-2.2,0a2.2,2.2 0 1,0 4.4,0a2.2,2.2 0 1,0 -4.4,0M428.6,146.96m-2.2,0a2.2,2.2 0 1,0 4.4,0a2.2,2.2 0 1,0 -4.4,0M431.25,146.3m-2.2,0a2.2,2.2 0 1,0 4.4,0a2.2,2.2 0 1,0 -4.4,0M433.91,145.67m-2.2,0a2.2,2.2 0 1,0 4.4,0a2.2,2.2 0 1,0 -4.4,0M436.57,145.04m-2.2,0a2.2,2.2 0 1,0 4.4,0a2.2,2.2 0 1,0 -4.4,0M439.22,144.49m-2.2,0a2.2,2.2 0 1,0 4.4,0a2.2,2.2 0 1,0 -4.4,0M441.88,144.11m-2.2,0a2.2,2.2 0 1,0 4.4,0a2.2,2.2 0 1,0 -4.4,0M444.54,144.03m-2.2,0a2.2,2.2 0 1,0 4.4,0a2.2,2.2 0 1,0 -4.4,0M447.19,145.16m-2.2,0a2.2,2.2 0 1,0 4.4,0a2.2,2.2 0 1,0 -4.4,0M449.85,147.37m-2.2,0a2.2,2.2 0 1,0 4.4,0a2.2,2.2 0 1,0 -4.4,0M452.51,149.82m-2.2,0a2.2,2.2 0 1,0 4.4,0a2.2,2.2 0 1,0 -4.4,0M455.16,151.7m-2.2,0a2.2,2.2 0 1,0 4.4,0a2.2,2.2 0 1,0 -4.4,0M457.82,152.52m-2.2,0a2.2,2.2 0 1,0 4.4,0a2.2,2.2 0 1,0 -4.4,0M460.47,153.15m-2.2,0a2.2,2.2 0 1,0 4.4,0a2.2,2.2 0 1,0 -4.4,0M463.13,153.66m-2.2,0a2.2,2.2 0 1,0 4.4,0a2.2,2.2 0 1,0 -4.4,0M465.79,153.99m-2.2,0a2.2,2.2 0 1,0 4.4,0a2.2,2.2 0 1,0 -4.4,0M468.44,154.1m-2.2,0a2.2,2.2 0 1,0 4.4,0a2.2,2.2 0 1,0 -4.4,0M471.1,153.65m-2.2,0a2.2,2.2 0 1,0 4.4,0a2.2,2.2 0 1,0 -4.4,0M473.76,152.6m-2.2,0a2.2,2.2 0 1,0 4.4,0a2.2,2.2 0 1,0 -4.4,0M476.41,151.18m-2.2,0a2.2,2.2 0 1,0 4.4,0a2.2,2.2 0 1,0 -4.4,0M479.07,149.61m-2.2,0a2.2,2.2 0 1,0 4.4,0a2.2,2.2 0 1,0 -4.4,0M481.73,148.11m-2.2,0a2.2,2.2 0 1,0 4.4,0a2.2,2.2 0 1,0 -4.4,0M484.38,146.89m-2.2,0a2.2,2.2 0 1,0 4.4,0a2.2,2.2 0 1,0 -4.4,0M487.04,146.19m-2.2,0a2.2,2.2 0 1,0 4.4,0a2.2,2.2 0 1,0 -4.4,0M489.7,146.27m-2.2,0a2.2,2.2 0 1,0 4.4,0a2.2,2.2 0 1,0 -4.4,0M492.35,147.37m-2.2,0a2.2,2.2 0 1,0 4.4,0a2.2,2.2 0 1,0 -4.4,0M495.01,149.11m-2.2,0a2.2,2.2 0 1,0 4.4,0a2.2,2.2 0 1,0 -4.4,0M497.67,151.07m-2.2,0a2.2,2.2 0 1,0 4.4,0a2.2,2.2 0 1,0 -4.4,0M500.32,152.82m-2.2,0a2.2,2.2 0 1,0 4.4,0a2.2,2.2 0 1,0 -4.4,0M502.98,153.92m-2.2,0a2.2,2.2 0 1,0 4.4,0a2.2,2.2 0 1,0 -4.4,0M505.64,154m-2.2,0a2.2,2.2 0 1,0 4.4,0a2.2,2.2 0 1,0 -4.4,0M508.29,153.21m-2.2,0a2.2,2.2 0 1,0 4.4,0a2.2,2.2 0 1,0 -4.4,0M510.95,151.91m-2.2,0a2.2,2.2 0 1,0 4.4,0a2.2,2.2 0 1,0 -4.4,0M513.61,150.43m-2.2,0a2.2,2.2 0 1,0 4.4,0a2.2,2.2 0 1,0 -4.4,0M516.26,149.1m-2.2,0a2.2,2.2 0 1,0 4.4,0a2.2,2.2 0 1,0 -4.4,0M518.92,148.24m-2.2,0a2.2,2.2 0 1,0 4.4,0a2.2,2.2 0 1,0 -4.4,0M521.58,148.55m-2.2,0a2.2,2.2 0 1,0 4.4,0a2.2,2.2 0 1,0 -4.4,0M524.23,152.05m-2.2,0a2.2,2.2 0 1,0 4.4,0a2.2,2.2 0 1,0 -4.4,0M526.89,157.15m-2.2,0a2.2,2.2 0 1,0 4.4,0a2.2,2.2 0 1,0 -4.4,0M529.55,165.9m-2.2,0a2.2,2.2 0 1,0 4.4,0a2.2,2.2 0 1,0 -4.4,0M532.2,175.36m-2.2,0a2.2,2.2 0 1,0 4.4,0a2.2,2.2 0 1,0 -4.4,0M534.86,183.13m-2.2,0a2.2,2.2 0 1,0 4.4,0a2.2,2.2 0 1,0 -4.4,0M537.52,190.44m-2.2,0a2.2,2.2 0 1,0 4.4,0a2.2,2.2 0 1,0 -4.4,0M540.17,194.15m-2.2,0a2.2,2.2 0 1,0 4.4,0a2.2,2.2 0 1,0 -4.4,0M542.83,192.42m-2.2,0a2.2,2.2 0 1,0 4.4,0a2.2,2.2 0 1,0 -4.4,0M545.48,187.32m-2.2,0a2.2,2.2 0 1,0 4.4,0a2.2,2.2 0 1,0 -4.4,0M548.14,181.02m-2.2,0a2.2,2.2 0 1,0 4.4,0a2.2,2.2 0 1,0 -4.4,0M550.8,173.13m-2.2,0a2.2,2.2 0 1,0 4.4,0a2.2,2.2 0 1,0 -4.4,0M553.45,162.95m-2.2,0a2.2,2.2 0 1,0 4.4,0a2.2,2.2 0 1,0 -4.4,0M556.11,154.97m-2.2,0a2.2,2.2 0 1,0 4.4,0a2.2,2.2 0 1,0 -4.4,0M558.77,150.9m-2.2,0a2.2,2.2 0 1,0 4.4,0a2.2,2.2 0 1,0 -4.4,0M561.42,147.72m-2.2,0a2.2,2.2 0 1,0 4.4,0a2.2,2.2 0 1,0 -4.4,0M564.08,146.15m-2.2,0a2.2,2.2 0 1,0 4.4,0a2.2,2.2 0 1,0 -4.4,0M566.74,147.14m-2.2,0a2.2,2.2 0 1,0 4.4,0a2.2,2.2 0 1,0 -4.4,0M569.39,150.59m-2.2,0a2.2,2.2 0 1,0 4.4,0a2.2,2.2 0 1,0 -4.4,0M572.05,155.14m-2.2,0a2.2,2.2 0 1,0 4.4,0a2.2,2.2 0 1,0 -4.4,0M574.71,161.34m-2.2,0a2.2,2.2 0 1,0 4.4,0a2.2,2.2 0 1,0 -4.4,0M577.36,170.16m-2.2,0a2.2,2.2 0 1,0 4.4,0a2.2,2.2 0 1,0 -4.4,0M580.02,177.3m-2.2,0a2.2,2.2 0 1,0 4.4,0a2.2,2.2 0 1,0 -4.4,0M582.68,180.75m-2.2,0a2.2,2.2 0 1,0 4.4,0a2.2,2.2 0 1,0 -4.4,0M585.33,183.04m-2.2,0a2.2,2.2 0 1,0 4.4,0a2.2,2.2 0 1,0 -4.4,0M587.99,182.7m-2.2,0a2.2,2.2 0 1,0 4.4,0a2.2,2.2 0 1,0 -4.4,0M590.65,178.3m-2.2,0a2.2,2.2 0 1,0 4.4,0a2.2,2.2 0 1,0 -4.4,0M593.3,173.04m-2.2,0a2.2,2.2 0 1,0 4.4,0a2.2,2.2 0 1,0 -4.4,0M595.96,166.83m-2.2,0a2.2,2.2 0 1,0 4.4,0a2.2,2.2 0 1,0 -4.4,0M598.62,160.25m-2.2,0a2.2,2.2 0 1,0 4.4,0a2.2,2.2 0 1,0 -4.4,0M601.27,155.17m-2.2,0a2.2,2.2 0 1,0 4.4,0a2.2,2.2 0 1,0 -4.4,0M603.93,150.95m-2.2,0a2.2,2.2 0 1,0 4.4,0a2.2,2.2 0 1,0 -4.4,0M606.59,147.56m-2.2,0a2.2,2.2 0 1,0 4.4,0a2.2,2.2 0 1,0 -4.4,0M609.24,145.92m-2.2,0a2.2,2.2 0 1,0 4.4,0a2.2,2.2 0 1,0 -4.4,0M611.9,145.2m-2.2,0a2.2,2.2 0 1,0 4.4,0a2.2,2.2 0 1,0 -4.4,0M614.56,144.7m-2.2,0a2.2,2.2 0 1,0 4.4,0a2.2,2.2 0 1,0 -4.4,0M617.21,144.32m-2.2,0a2.2,2.2 0 1,0 4.4,0a2.2,2.2 0 1,0 -4.4,0M619.87,143.99m-2.2,0a2.2,2.2 0 1,0 4.4,0a2.2,2.2 0 1,0 -4.4,0M622.53,143.61m-2.2,0a2.2,2.2 0 1,0 4.4,0a2.2,2.2 0 1,0 -4.4,0M625.18,143.12m-2.2,0a2.2,2.2 0 1,0 4.4,0a2.2,2.2 0 1,0 -4.4,0M627.84,142.41m-2.2,0a2.2,2.2 0 1,0 4.4,0a2.2,2.2 0 1,0 -4.4,0M630.49,141.56m-2.2,0a2.2,2.2 0 1,0 4.4,0a2.2,2.2 0 1,0 -4.4,0M633.15,140.68m-2.2,0a2.2,2.2 0 1,0 4.4,0a2.2,2.2 0 1,0 -4.4,0M635.81,139.92m-2.2,0a2.2,2.2 0 1,0 4.4,0a2.2,2.2 0 1,0 -4.4,0M638.46,139.38m-2.2,0a2.2,2.2 0 1,0 4.4,0a2.2,2.2 0 1,0 -4.4,0M641.12,139.2m-2.2,0a2.2,2.2 0 1,0 4.4,0a2.2,2.2 0 1,0 -4.4,0M643.78,139.34m-2.2,0a2.2,2.2 0 1,0 4.4,0a2.2,2.2 0 1,0 -4.4,0M646.43,139.69m-2.2,0a2.2,2.2 0 1,0 4.4,0a2.2,2.2 0 1,0 -4.4,0M649.09,140.18m-2.2,0a2.2,2.2 0 1,0 4.4,0a2.2,2.2 0 1,0 -4.4,0M651.75,140.77m-2.2,0a2.2,2.2 0 1,0 4.4,0a2.2,2.2 0 1,0 -4.4,0M654.4,141.41m-2.2,0a2.2,2.2 0 1,0 4.4,0a2.2,2.2 0 1,0 -4.4,0M657.06,142.04m-2.2,0a2.2,2.2 0 1,0 4.4,0a2.2,2.2 0 1,0 -4.4,0M659.72,142.7m-2.2,0a2.2,2.2 0 1,0 4.4,0a2.2,2.2 0 1,0 -4.4,0M662.37,143.47m-2.2,0a2.2,2.2 0 1,0 4.4,0a2.2,2.2 0 1,0 -4.4,0M665.03,144.32m-2.2,0a2.2,2.2 0 1,0 4.4,0a2.2,2.2 0 1,0 -4.4,0M667.69,145.25m-2.2,0a2.2,2.2 0 1,0 4.4,0a2.2,2.2 0 1,0 -4.4,0M670.34,146.25m-2.2,0a2.2,2.2 0 1,0 4.4,0a2.2,2.2 0 1,0 -4.4,0M673,147.3m-2.2,0a2.2,2.2 0 1,0 4.4,0a2.2,2.2 0 1,0 -4.4,0" fill="none" stroke="#ff1f1f" stroke-width="1.15"/>
<polyline points="410,160.1 412.66,159.27 415.31,158.71 417.97,158.35 420.63,158.17 423.28,158.1 425.94,158.24 428.6,158.86 431.25,159.88 433.91,161.15 436.57,162.55 439.22,163.96 441.88,165.23 444.54,166.25 447.19,167.25 449.85,168.31 452.51,169.31 455.16,170.15 457.82,170.72 460.47,170.9 463.13,170.44 465.79,169.4 468.44,168.01 471.1,166.51 473.76,165.11 476.41,164.06 479.07,163.28 481.73,162.56 484.38,161.9 487.04,161.28 489.7,160.69 492.35,160.12 495.01,159.57 497.67,159.01 500.32,158.39 502.98,157.75 505.64,157.1 508.29,156.49 510.95,155.93 513.61,155.47 516.26,155.12 518.92,154.93 521.58,155.17 524.23,157.37 526.89,160.9 529.55,168.69 532.2,177.45 534.86,184.26 537.52,190.81 540.17,194.93 542.83,194.87 545.48,191.99 548.14,187.83 550.8,183.78 553.45,179.45 556.11,174.68 558.77,170.36 561.42,167.25 564.08,164.56 566.74,162.59 569.39,162.17 572.05,163.21 574.71,164.91 577.36,166.57 580.02,168.67 582.68,171.03 585.33,173.05 587.99,174.14 590.65,173.77 593.3,172.11 595.96,169.77 598.62,167.37 601.27,164.41 603.93,160.76 606.59,157.81 609.24,156.9 611.9,156.9 614.56,156.9 617.21,156.9 619.87,156.9 622.53,156.9 625.18,156.9 627.84,156.9 630.49,156.9 633.15,156.9 635.81,156.92 638.46,156.96 641.12,157.03 643.78,157.13 646.43,157.24 649.09,157.38 651.75,157.54 654.4,157.71 657.06,157.9 659.72,158.11 662.37,158.33 665.03,158.56 667.69,158.8 670.34,159.05 673,159.3" fill="none" stroke="#1414ff" stroke-width="1.1" stroke-linejoin="round"/>
<path d="M408.25,158.35h3.5v3.5h-3.5zM410.91,157.52h3.5v3.5h-3.5zM413.56,156.96h3.5v3.5h-3.5zM416.22,156.6h3.5v3.5h-3.5zM418.88,156.42h3.5v3.5h-3.5zM421.53,156.35h3.5v3.5h-3.5zM424.19,156.49h3.5v3.5h-3.5zM426.85,157.11h3.5v3.5h-3.5zM429.5,158.13h3.5v3.5h-3.5zM432.16,159.4h3.5v3.5h-3.5zM434.82,160.8h3.5v3.5h-3.5zM437.47,162.21h3.5v3.5h-3.5zM440.13,163.48h3.5v3.5h-3.5zM442.79,164.5h3.5v3.5h-3.5zM445.44,165.5h3.5v3.5h-3.5zM448.1,166.56h3.5v3.5h-3.5zM450.76,167.56h3.5v3.5h-3.5zM453.41,168.4h3.5v3.5h-3.5zM456.07,168.97h3.5v3.5h-3.5zM458.72,169.15h3.5v3.5h-3.5zM461.38,168.69h3.5v3.5h-3.5zM464.04,167.65h3.5v3.5h-3.5zM466.69,166.26h3.5v3.5h-3.5zM469.35,164.76h3.5v3.5h-3.5zM472.01,163.36h3.5v3.5h-3.5zM474.66,162.31h3.5v3.5h-3.5zM477.32,161.53h3.5v3.5h-3.5zM479.98,160.81h3.5v3.5h-3.5zM482.63,160.15h3.5v3.5h-3.5zM485.29,159.53h3.5v3.5h-3.5zM487.95,158.94h3.5v3.5h-3.5zM490.6,158.37h3.5v3.5h-3.5zM493.26,157.82h3.5v3.5h-3.5zM495.92,157.26h3.5v3.5h-3.5zM498.57,156.64h3.5v3.5h-3.5zM501.23,156h3.5v3.5h-3.5zM503.89,155.35h3.5v3.5h-3.5zM506.54,154.74h3.5v3.5h-3.5zM509.2,154.18h3.5v3.5h-3.5zM511.86,153.72h3.5v3.5h-3.5zM514.51,153.37h3.5v3.5h-3.5zM517.17,153.18h3.5v3.5h-3.5zM519.83,153.42h3.5v3.5h-3.5zM522.48,155.62h3.5v3.5h-3.5zM525.14,159.15h3.5v3.5h-3.5zM527.8,166.94h3.5v3.5h-3.5zM530.45,175.7h3.5v3.5h-3.5zM533.11,182.51h3.5v3.5h-3.5zM535.77,189.06h3.5v3.5h-3.5zM538.42,193.18h3.5v3.5h-3.5zM541.08,193.12h3.5v3.5h-3.5zM543.73,190.24h3.5v3.5h-3.5zM546.39,186.08h3.5v3.5h-3.5zM549.05,182.03h3.5v3.5h-3.5zM551.7,177.7h3.5v3.5h-3.5zM554.36,172.93h3.5v3.5h-3.5zM557.02,168.61h3.5v3.5h-3.5zM559.67,165.5h3.5v3.5h-3.5zM562.33,162.81h3.5v3.5h-3.5zM564.99,160.84h3.5v3.5h-3.5zM567.64,160.42h3.5v3.5h-3.5zM570.3,161.46h3.5v3.5h-3.5zM572.96,163.16h3.5v3.5h-3.5zM575.61,164.82h3.5v3.5h-3.5zM578.27,166.92h3.5v3.5h-3.5zM580.93,169.28h3.5v3.5h-3.5zM583.58,171.3h3.5v3.5h-3.5zM586.24,172.39h3.5v3.5h-3.5zM588.9,172.02h3.5v3.5h-3.5zM591.55,170.36h3.5v3.5h-3.5zM594.21,168.02h3.5v3.5h-3.5zM596.87,165.62h3.5v3.5h-3.5zM599.52,162.66h3.5v3.5h-3.5zM602.18,159.01h3.5v3.5h-3.5zM604.84,156.06h3.5v3.5h-3.5zM607.49,155.15h3.5v3.5h-3.5zM610.15,155.15h3.5v3.5h-3.5zM612.81,155.15h3.5v3.5h-3.5zM615.46,155.15h3.5v3.5h-3.5zM618.12,155.15h3.5v3.5h-3.5zM620.78,155.15h3.5v3.5h-3.5zM623.43,155.15h3.5v3.5h-3.5zM626.09,155.15h3.5v3.5h-3.5zM628.74,155.15h3.5v3.5h-3.5zM631.4,155.15h3.5v3.5h-3.5zM634.06,155.17h3.5v3.5h-3.5zM636.71,155.21h3.5v3.5h-3.5zM639.37,155.28h3.5v3.5h-3.5zM642.03,155.38h3.5v3.5h-3.5zM644.68,155.49h3.5v3.5h-3.5zM647.34,155.63h3.5v3.5h-3.5zM650,155.79h3.5v3.5h-3.5zM652.65,155.96h3.5v3.5h-3.5zM655.31,156.15h3.5v3.5h-3.5zM657.97,156.36h3.5v3.5h-3.5zM660.62,156.58h3.5v3.5h-3.5zM663.28,156.81h3.5v3.5h-3.5zM665.94,157.05h3.5v3.5h-3.5zM668.59,157.3h3.5v3.5h-3.5zM671.25,157.55h3.5v3.5h-3.5z" fill="none" stroke="#1414ff" stroke-width="1.15"/>
<polygon points="407.3,149.5 409.93,157.58 418.43,157.58 411.55,162.58 414.18,170.67 407.3,165.67 400.42,170.67 403.05,162.58 396.17,157.58 404.67,157.58" fill="#47c15c" stroke="none" stroke-width="1"/>
<text x="669.9" y="194" font-size="15.4" text-anchor="end" fill="#111">Driver 10</text>
<rect x="406.6" y="227.4" width="270.1" height="56.9" fill="#fff" stroke="none" stroke-width="1"/>
<line x1="470.16" y1="227.4" x2="470.16" y2="284.3" stroke="#e9e9e9" stroke-width="0.8"/>
<line x1="533.72" y1="227.4" x2="533.72" y2="284.3" stroke="#e9e9e9" stroke-width="0.8"/>
<line x1="597.28" y1="227.4" x2="597.28" y2="284.3" stroke="#e9e9e9" stroke-width="0.8"/>
<line x1="660.84" y1="227.4" x2="660.84" y2="284.3" stroke="#e9e9e9" stroke-width="0.8"/>
<line x1="406.6" y1="230.5" x2="676.7" y2="230.5" stroke="#e9e9e9" stroke-width="0.8"/>
<line x1="406.6" y1="250.5" x2="676.7" y2="250.5" stroke="#e9e9e9" stroke-width="0.8"/>
<line x1="406.6" y1="270.5" x2="676.7" y2="270.5" stroke="#e9e9e9" stroke-width="0.8"/>
<rect x="406.6" y="227.4" width="270.1" height="56.9" fill="none" stroke="#9a9a9a" stroke-width="1"/>
<line x1="406.6" y1="284.3" x2="406.6" y2="281.3" stroke="#9a9a9a" stroke-width="1"/>
<line x1="406.6" y1="227.4" x2="406.6" y2="230.4" stroke="#9a9a9a" stroke-width="1"/>
<text x="406.6" y="304.1" font-size="14" text-anchor="middle" fill="#111">0</text>
<line x1="470.16" y1="284.3" x2="470.16" y2="281.3" stroke="#9a9a9a" stroke-width="1"/>
<line x1="470.16" y1="227.4" x2="470.16" y2="230.4" stroke="#9a9a9a" stroke-width="1"/>
<text x="470.16" y="304.1" font-size="14" text-anchor="middle" fill="#111">2</text>
<line x1="533.72" y1="284.3" x2="533.72" y2="281.3" stroke="#9a9a9a" stroke-width="1"/>
<line x1="533.72" y1="227.4" x2="533.72" y2="230.4" stroke="#9a9a9a" stroke-width="1"/>
<text x="533.72" y="304.1" font-size="14" text-anchor="middle" fill="#111">4</text>
<line x1="597.28" y1="284.3" x2="597.28" y2="281.3" stroke="#9a9a9a" stroke-width="1"/>
<line x1="597.28" y1="227.4" x2="597.28" y2="230.4" stroke="#9a9a9a" stroke-width="1"/>
<text x="597.28" y="304.1" font-size="14" text-anchor="middle" fill="#111">6</text>
<line x1="660.84" y1="284.3" x2="660.84" y2="281.3" stroke="#9a9a9a" stroke-width="1"/>
<line x1="660.84" y1="227.4" x2="660.84" y2="230.4" stroke="#9a9a9a" stroke-width="1"/>
<text x="660.84" y="304.1" font-size="14" text-anchor="middle" fill="#111">8</text>
<line x1="406.6" y1="230.5" x2="409.6" y2="230.5" stroke="#9a9a9a" stroke-width="1"/>
<line x1="676.7" y1="230.5" x2="673.7" y2="230.5" stroke="#9a9a9a" stroke-width="1"/>
<text x="400.8" y="236.5" font-size="14" text-anchor="end" fill="#111">40</text>
<line x1="406.6" y1="250.5" x2="409.6" y2="250.5" stroke="#9a9a9a" stroke-width="1"/>
<line x1="676.7" y1="250.5" x2="673.7" y2="250.5" stroke="#9a9a9a" stroke-width="1"/>
<text x="400.8" y="256.5" font-size="14" text-anchor="end" fill="#111">20</text>
<line x1="406.6" y1="270.5" x2="409.6" y2="270.5" stroke="#9a9a9a" stroke-width="1"/>
<line x1="676.7" y1="270.5" x2="673.7" y2="270.5" stroke="#9a9a9a" stroke-width="1"/>
<text x="400.8" y="276.5" font-size="14" text-anchor="end" fill="#111">0</text>
<line x1="563.4" y1="227.4" x2="563.4" y2="284.3" stroke="#47c15c" stroke-width="1.6" stroke-dasharray="4.5,3"/>
<polyline points="408,272.2 410.65,270.28 413.3,268.8 415.95,268.2 418.6,268.54 421.25,269.42 423.9,270.63 426.55,271.94 429.2,273.12 431.85,273.94 434.5,274.14 437.15,271.34 439.8,265.73 442.45,259.18 445.1,249.12 447.75,239.2 450.4,233.38 453.05,228.81 455.7,227.24 458.35,230.24 461,235.71 463.65,241.02 466.3,247.24 468.95,253.65 471.6,259.11 474.25,263.14 476.9,266.63 479.55,269.62 482.2,272.12 484.85,274.46 487.5,276.08 490.15,274.5 492.8,268.26 495.45,260.56 498.1,249.64 500.75,241 503.4,234.71 506.05,231.26 508.7,232.94 511.35,237.83 514,245.39 516.65,257.79 519.3,266.54 521.95,272.83 524.6,275.38 527.25,271.68 529.9,265.42 532.55,259.58 535.2,253.07 537.85,249.1 540.5,249.19 543.15,250.24 545.8,251.7 548.45,253.93 551.1,257.47 553.75,259.94 556.4,260.1 559.05,260.1 561.7,260.1 564.35,260.1 567,260.1 569.65,260.1 572.3,260.1 574.95,260.1 577.6,260.1 580.25,260.1 582.9,260.1 585.55,260.1 588.2,260.1 590.85,260.15 593.5,260.32 596.15,260.58 598.8,260.9 601.45,261.25 604.1,261.58 606.75,261.88 609.4,262.09 612.05,262.2 614.7,262.13 617.35,261.86 620,261.4 622.65,260.81 625.3,260.13 627.95,259.39 630.6,258.64 633.25,257.92 635.9,257.26 638.55,256.72 641.2,256.32 643.85,256.12 646.5,256.1 649.15,256.1 651.8,256.1 654.45,256.1 657.1,256.1 659.75,256.1 662.4,256.1 665.05,256.1 667.7,256.1 670.35,256.1 673,256.1" fill="none" stroke="#ff1f1f" stroke-width="1.1" stroke-linejoin="round"/>
<path d="M408,272.2m-2.2,0a2.2,2.2 0 1,0 4.4,0a2.2,2.2 0 1,0 -4.4,0M410.65,270.28m-2.2,0a2.2,2.2 0 1,0 4.4,0a2.2,2.2 0 1,0 -4.4,0M413.3,268.8m-2.2,0a2.2,2.2 0 1,0 4.4,0a2.2,2.2 0 1,0 -4.4,0M415.95,268.2m-2.2,0a2.2,2.2 0 1,0 4.4,0a2.2,2.2 0 1,0 -4.4,0M418.6,268.54m-2.2,0a2.2,2.2 0 1,0 4.4,0a2.2,2.2 0 1,0 -4.4,0M421.25,269.42m-2.2,0a2.2,2.2 0 1,0 4.4,0a2.2,2.2 0 1,0 -4.4,0M423.9,270.63m-2.2,0a2.2,2.2 0 1,0 4.4,0a2.2,2.2 0 1,0 -4.4,0M426.55,271.94m-2.2,0a2.2,2.2 0 1,0 4.4,0a2.2,2.2 0 1,0 -4.4,0M429.2,273.12m-2.2,0a2.2,2.2 0 1,0 4.4,0a2.2,2.2 0 1,0 -4.4,0M431.85,273.94m-2.2,0a2.2,2.2 0 1,0 4.4,0a2.2,2.2 0 1,0 -4.4,0M434.5,274.14m-2.2,0a2.2,2.2 0 1,0 4.4,0a2.2,2.2 0 1,0 -4.4,0M437.15,271.34m-2.2,0a2.2,2.2 0 1,0 4.4,0a2.2,2.2 0 1,0 -4.4,0M439.8,265.73m-2.2,0a2.2,2.2 0 1,0 4.4,0a2.2,2.2 0 1,0 -4.4,0M442.45,259.18m-2.2,0a2.2,2.2 0 1,0 4.4,0a2.2,2.2 0 1,0 -4.4,0M445.1,249.12m-2.2,0a2.2,2.2 0 1,0 4.4,0a2.2,2.2 0 1,0 -4.4,0M447.75,239.2m-2.2,0a2.2,2.2 0 1,0 4.4,0a2.2,2.2 0 1,0 -4.4,0M450.4,233.38m-2.2,0a2.2,2.2 0 1,0 4.4,0a2.2,2.2 0 1,0 -4.4,0M453.05,228.81m-2.2,0a2.2,2.2 0 1,0 4.4,0a2.2,2.2 0 1,0 -4.4,0M455.7,227.24m-2.2,0a2.2,2.2 0 1,0 4.4,0a2.2,2.2 0 1,0 -4.4,0M458.35,230.24m-2.2,0a2.2,2.2 0 1,0 4.4,0a2.2,2.2 0 1,0 -4.4,0M461,235.71m-2.2,0a2.2,2.2 0 1,0 4.4,0a2.2,2.2 0 1,0 -4.4,0M463.65,241.02m-2.2,0a2.2,2.2 0 1,0 4.4,0a2.2,2.2 0 1,0 -4.4,0M466.3,247.24m-2.2,0a2.2,2.2 0 1,0 4.4,0a2.2,2.2 0 1,0 -4.4,0M468.95,253.65m-2.2,0a2.2,2.2 0 1,0 4.4,0a2.2,2.2 0 1,0 -4.4,0M471.6,259.11m-2.2,0a2.2,2.2 0 1,0 4.4,0a2.2,2.2 0 1,0 -4.4,0M474.25,263.14m-2.2,0a2.2,2.2 0 1,0 4.4,0a2.2,2.2 0 1,0 -4.4,0M476.9,266.63m-2.2,0a2.2,2.2 0 1,0 4.4,0a2.2,2.2 0 1,0 -4.4,0M479.55,269.62m-2.2,0a2.2,2.2 0 1,0 4.4,0a2.2,2.2 0 1,0 -4.4,0M482.2,272.12m-2.2,0a2.2,2.2 0 1,0 4.4,0a2.2,2.2 0 1,0 -4.4,0M484.85,274.46m-2.2,0a2.2,2.2 0 1,0 4.4,0a2.2,2.2 0 1,0 -4.4,0M487.5,276.08m-2.2,0a2.2,2.2 0 1,0 4.4,0a2.2,2.2 0 1,0 -4.4,0M490.15,274.5m-2.2,0a2.2,2.2 0 1,0 4.4,0a2.2,2.2 0 1,0 -4.4,0M492.8,268.26m-2.2,0a2.2,2.2 0 1,0 4.4,0a2.2,2.2 0 1,0 -4.4,0M495.45,260.56m-2.2,0a2.2,2.2 0 1,0 4.4,0a2.2,2.2 0 1,0 -4.4,0M498.1,249.64m-2.2,0a2.2,2.2 0 1,0 4.4,0a2.2,2.2 0 1,0 -4.4,0M500.75,241m-2.2,0a2.2,2.2 0 1,0 4.4,0a2.2,2.2 0 1,0 -4.4,0M503.4,234.71m-2.2,0a2.2,2.2 0 1,0 4.4,0a2.2,2.2 0 1,0 -4.4,0M506.05,231.26m-2.2,0a2.2,2.2 0 1,0 4.4,0a2.2,2.2 0 1,0 -4.4,0M508.7,232.94m-2.2,0a2.2,2.2 0 1,0 4.4,0a2.2,2.2 0 1,0 -4.4,0M511.35,237.83m-2.2,0a2.2,2.2 0 1,0 4.4,0a2.2,2.2 0 1,0 -4.4,0M514,245.39m-2.2,0a2.2,2.2 0 1,0 4.4,0a2.2,2.2 0 1,0 -4.4,0M516.65,257.79m-2.2,0a2.2,2.2 0 1,0 4.4,0a2.2,2.2 0 1,0 -4.4,0M519.3,266.54m-2.2,0a2.2,2.2 0 1,0 4.4,0a2.2,2.2 0 1,0 -4.4,0M521.95,272.83m-2.2,0a2.2,2.2 0 1,0 4.4,0a2.2,2.2 0 1,0 -4.4,0M524.6,275.38m-2.2,0a2.2,2.2 0 1,0 4.4,0a2.2,2.2 0 1,0 -4.4,0M527.25,271.68m-2.2,0a2.2,2.2 0 1,0 4.4,0a2.2,2.2 0 1,0 -4.4,0M529.9,265.42m-2.2,0a2.2,2.2 0 1,0 4.4,0a2.2,2.2 0 1,0 -4.4,0M532.55,259.58m-2.2,0a2.2,2.2 0 1,0 4.4,0a2.2,2.2 0 1,0 -4.4,0M535.2,253.07m-2.2,0a2.2,2.2 0 1,0 4.4,0a2.2,2.2 0 1,0 -4.4,0M537.85,249.1m-2.2,0a2.2,2.2 0 1,0 4.4,0a2.2,2.2 0 1,0 -4.4,0M540.5,249.19m-2.2,0a2.2,2.2 0 1,0 4.4,0a2.2,2.2 0 1,0 -4.4,0M543.15,250.24m-2.2,0a2.2,2.2 0 1,0 4.4,0a2.2,2.2 0 1,0 -4.4,0M545.8,251.7m-2.2,0a2.2,2.2 0 1,0 4.4,0a2.2,2.2 0 1,0 -4.4,0M548.45,253.93m-2.2,0a2.2,2.2 0 1,0 4.4,0a2.2,2.2 0 1,0 -4.4,0M551.1,257.47m-2.2,0a2.2,2.2 0 1,0 4.4,0a2.2,2.2 0 1,0 -4.4,0M553.75,259.94m-2.2,0a2.2,2.2 0 1,0 4.4,0a2.2,2.2 0 1,0 -4.4,0M556.4,260.1m-2.2,0a2.2,2.2 0 1,0 4.4,0a2.2,2.2 0 1,0 -4.4,0M559.05,260.1m-2.2,0a2.2,2.2 0 1,0 4.4,0a2.2,2.2 0 1,0 -4.4,0M561.7,260.1m-2.2,0a2.2,2.2 0 1,0 4.4,0a2.2,2.2 0 1,0 -4.4,0M564.35,260.1m-2.2,0a2.2,2.2 0 1,0 4.4,0a2.2,2.2 0 1,0 -4.4,0M567,260.1m-2.2,0a2.2,2.2 0 1,0 4.4,0a2.2,2.2 0 1,0 -4.4,0M569.65,260.1m-2.2,0a2.2,2.2 0 1,0 4.4,0a2.2,2.2 0 1,0 -4.4,0M572.3,260.1m-2.2,0a2.2,2.2 0 1,0 4.4,0a2.2,2.2 0 1,0 -4.4,0M574.95,260.1m-2.2,0a2.2,2.2 0 1,0 4.4,0a2.2,2.2 0 1,0 -4.4,0M577.6,260.1m-2.2,0a2.2,2.2 0 1,0 4.4,0a2.2,2.2 0 1,0 -4.4,0M580.25,260.1m-2.2,0a2.2,2.2 0 1,0 4.4,0a2.2,2.2 0 1,0 -4.4,0M582.9,260.1m-2.2,0a2.2,2.2 0 1,0 4.4,0a2.2,2.2 0 1,0 -4.4,0M585.55,260.1m-2.2,0a2.2,2.2 0 1,0 4.4,0a2.2,2.2 0 1,0 -4.4,0M588.2,260.1m-2.2,0a2.2,2.2 0 1,0 4.4,0a2.2,2.2 0 1,0 -4.4,0M590.85,260.15m-2.2,0a2.2,2.2 0 1,0 4.4,0a2.2,2.2 0 1,0 -4.4,0M593.5,260.32m-2.2,0a2.2,2.2 0 1,0 4.4,0a2.2,2.2 0 1,0 -4.4,0M596.15,260.58m-2.2,0a2.2,2.2 0 1,0 4.4,0a2.2,2.2 0 1,0 -4.4,0M598.8,260.9m-2.2,0a2.2,2.2 0 1,0 4.4,0a2.2,2.2 0 1,0 -4.4,0M601.45,261.25m-2.2,0a2.2,2.2 0 1,0 4.4,0a2.2,2.2 0 1,0 -4.4,0M604.1,261.58m-2.2,0a2.2,2.2 0 1,0 4.4,0a2.2,2.2 0 1,0 -4.4,0M606.75,261.88m-2.2,0a2.2,2.2 0 1,0 4.4,0a2.2,2.2 0 1,0 -4.4,0M609.4,262.09m-2.2,0a2.2,2.2 0 1,0 4.4,0a2.2,2.2 0 1,0 -4.4,0M612.05,262.2m-2.2,0a2.2,2.2 0 1,0 4.4,0a2.2,2.2 0 1,0 -4.4,0M614.7,262.13m-2.2,0a2.2,2.2 0 1,0 4.4,0a2.2,2.2 0 1,0 -4.4,0M617.35,261.86m-2.2,0a2.2,2.2 0 1,0 4.4,0a2.2,2.2 0 1,0 -4.4,0M620,261.4m-2.2,0a2.2,2.2 0 1,0 4.4,0a2.2,2.2 0 1,0 -4.4,0M622.65,260.81m-2.2,0a2.2,2.2 0 1,0 4.4,0a2.2,2.2 0 1,0 -4.4,0M625.3,260.13m-2.2,0a2.2,2.2 0 1,0 4.4,0a2.2,2.2 0 1,0 -4.4,0M627.95,259.39m-2.2,0a2.2,2.2 0 1,0 4.4,0a2.2,2.2 0 1,0 -4.4,0M630.6,258.64m-2.2,0a2.2,2.2 0 1,0 4.4,0a2.2,2.2 0 1,0 -4.4,0M633.25,257.92m-2.2,0a2.2,2.2 0 1,0 4.4,0a2.2,2.2 0 1,0 -4.4,0M635.9,257.26m-2.2,0a2.2,2.2 0 1,0 4.4,0a2.2,2.2 0 1,0 -4.4,0M638.55,256.72m-2.2,0a2.2,2.2 0 1,0 4.4,0a2.2,2.2 0 1,0 -4.4,0M641.2,256.32m-2.2,0a2.2,2.2 0 1,0 4.4,0a2.2,2.2 0 1,0 -4.4,0M643.85,256.12m-2.2,0a2.2,2.2 0 1,0 4.4,0a2.2,2.2 0 1,0 -4.4,0M646.5,256.1m-2.2,0a2.2,2.2 0 1,0 4.4,0a2.2,2.2 0 1,0 -4.4,0M649.15,256.1m-2.2,0a2.2,2.2 0 1,0 4.4,0a2.2,2.2 0 1,0 -4.4,0M651.8,256.1m-2.2,0a2.2,2.2 0 1,0 4.4,0a2.2,2.2 0 1,0 -4.4,0M654.45,256.1m-2.2,0a2.2,2.2 0 1,0 4.4,0a2.2,2.2 0 1,0 -4.4,0M657.1,256.1m-2.2,0a2.2,2.2 0 1,0 4.4,0a2.2,2.2 0 1,0 -4.4,0M659.75,256.1m-2.2,0a2.2,2.2 0 1,0 4.4,0a2.2,2.2 0 1,0 -4.4,0M662.4,256.1m-2.2,0a2.2,2.2 0 1,0 4.4,0a2.2,2.2 0 1,0 -4.4,0M665.05,256.1m-2.2,0a2.2,2.2 0 1,0 4.4,0a2.2,2.2 0 1,0 -4.4,0M667.7,256.1m-2.2,0a2.2,2.2 0 1,0 4.4,0a2.2,2.2 0 1,0 -4.4,0M670.35,256.1m-2.2,0a2.2,2.2 0 1,0 4.4,0a2.2,2.2 0 1,0 -4.4,0M673,256.1m-2.2,0a2.2,2.2 0 1,0 4.4,0a2.2,2.2 0 1,0 -4.4,0" fill="none" stroke="#ff1f1f" stroke-width="1.15"/>
<polyline points="407.2,282.2 409.86,275.98 412.52,271.11 415.17,270.2 417.83,270.2 420.49,270.2 423.15,270.2 425.81,270.2 428.46,270.2 431.12,270.2 433.78,270.2 436.44,270.19 439.1,269.72 441.75,268.66 444.41,267.23 447.07,265.65 449.73,264.15 452.39,262.95 455.04,262.28 457.7,262.23 460.36,262.4 463.02,262.73 465.68,263.18 468.33,263.75 470.99,264.47 473.65,266.3 476.31,269.1 478.97,272.34 481.62,275.48 484.28,278.7 486.94,282.16 489.6,283.32 492.26,280.76 494.91,276.39 497.57,272.1 500.23,266.53 502.89,260.77 505.55,256.51 508.2,255.44 510.86,258.77 513.52,264.47 516.18,269.85 518.84,274.48 521.49,278.8 524.15,280.09 526.81,277.22 529.47,272.83 532.13,269.23 534.78,265.27 537.44,261.84 540.1,260.13 542.76,260.56 545.42,261.95 548.07,263.76 550.73,265.43 553.39,266.49 556.05,267.35 558.71,268.12 561.36,268.71 564.02,268.99 566.68,269 569.34,269 572,269 574.65,269 577.31,269 579.97,269 582.63,269 585.29,269 587.94,269 590.6,269 593.26,269 595.92,269 598.58,269 601.23,269 603.89,269 606.55,268.98 609.21,268.9 611.87,268.76 614.52,268.58 617.18,268.36 619.84,268.11 622.5,267.84 625.16,267.56 627.81,267.29 630.47,267.02 633.13,266.78 635.79,266.57 638.45,266.39 641.1,266.27 643.76,266.21 646.42,266.21 649.08,266.25 651.74,266.34 654.39,266.46 657.05,266.61 659.71,266.8 662.37,267.03 665.03,267.28 667.68,267.56 670.34,267.87 673,268.2" fill="none" stroke="#1414ff" stroke-width="1.1" stroke-linejoin="round"/>
<path d="M405.45,280.45h3.5v3.5h-3.5zM408.11,274.23h3.5v3.5h-3.5zM410.77,269.36h3.5v3.5h-3.5zM413.42,268.45h3.5v3.5h-3.5zM416.08,268.45h3.5v3.5h-3.5zM418.74,268.45h3.5v3.5h-3.5zM421.4,268.45h3.5v3.5h-3.5zM424.06,268.45h3.5v3.5h-3.5zM426.71,268.45h3.5v3.5h-3.5zM429.37,268.45h3.5v3.5h-3.5zM432.03,268.45h3.5v3.5h-3.5zM434.69,268.44h3.5v3.5h-3.5zM437.35,267.97h3.5v3.5h-3.5zM440,266.91h3.5v3.5h-3.5zM442.66,265.48h3.5v3.5h-3.5zM445.32,263.9h3.5v3.5h-3.5zM447.98,262.4h3.5v3.5h-3.5zM450.64,261.2h3.5v3.5h-3.5zM453.29,260.53h3.5v3.5h-3.5zM455.95,260.48h3.5v3.5h-3.5zM458.61,260.65h3.5v3.5h-3.5zM461.27,260.98h3.5v3.5h-3.5zM463.93,261.43h3.5v3.5h-3.5zM466.58,262h3.5v3.5h-3.5zM469.24,262.72h3.5v3.5h-3.5zM471.9,264.55h3.5v3.5h-3.5zM474.56,267.35h3.5v3.5h-3.5zM477.22,270.59h3.5v3.5h-3.5zM479.87,273.73h3.5v3.5h-3.5zM482.53,276.95h3.5v3.5h-3.5zM485.19,280.41h3.5v3.5h-3.5zM487.85,281.57h3.5v3.5h-3.5zM490.51,279.01h3.5v3.5h-3.5zM493.16,274.64h3.5v3.5h-3.5zM495.82,270.35h3.5v3.5h-3.5zM498.48,264.78h3.5v3.5h-3.5zM501.14,259.02h3.5v3.5h-3.5zM503.8,254.76h3.5v3.5h-3.5zM506.45,253.69h3.5v3.5h-3.5zM509.11,257.02h3.5v3.5h-3.5zM511.77,262.72h3.5v3.5h-3.5zM514.43,268.1h3.5v3.5h-3.5zM517.09,272.73h3.5v3.5h-3.5zM519.74,277.05h3.5v3.5h-3.5zM522.4,278.34h3.5v3.5h-3.5zM525.06,275.47h3.5v3.5h-3.5zM527.72,271.08h3.5v3.5h-3.5zM530.38,267.48h3.5v3.5h-3.5zM533.03,263.52h3.5v3.5h-3.5zM535.69,260.09h3.5v3.5h-3.5zM538.35,258.38h3.5v3.5h-3.5zM541.01,258.81h3.5v3.5h-3.5zM543.67,260.2h3.5v3.5h-3.5zM546.32,262.01h3.5v3.5h-3.5zM548.98,263.68h3.5v3.5h-3.5zM551.64,264.74h3.5v3.5h-3.5zM554.3,265.6h3.5v3.5h-3.5zM556.96,266.37h3.5v3.5h-3.5zM559.61,266.96h3.5v3.5h-3.5zM562.27,267.24h3.5v3.5h-3.5zM564.93,267.25h3.5v3.5h-3.5zM567.59,267.25h3.5v3.5h-3.5zM570.25,267.25h3.5v3.5h-3.5zM572.9,267.25h3.5v3.5h-3.5zM575.56,267.25h3.5v3.5h-3.5zM578.22,267.25h3.5v3.5h-3.5zM580.88,267.25h3.5v3.5h-3.5zM583.54,267.25h3.5v3.5h-3.5zM586.19,267.25h3.5v3.5h-3.5zM588.85,267.25h3.5v3.5h-3.5zM591.51,267.25h3.5v3.5h-3.5zM594.17,267.25h3.5v3.5h-3.5zM596.83,267.25h3.5v3.5h-3.5zM599.48,267.25h3.5v3.5h-3.5zM602.14,267.25h3.5v3.5h-3.5zM604.8,267.23h3.5v3.5h-3.5zM607.46,267.15h3.5v3.5h-3.5zM610.12,267.01h3.5v3.5h-3.5zM612.77,266.83h3.5v3.5h-3.5zM615.43,266.61h3.5v3.5h-3.5zM618.09,266.36h3.5v3.5h-3.5zM620.75,266.09h3.5v3.5h-3.5zM623.41,265.81h3.5v3.5h-3.5zM626.06,265.54h3.5v3.5h-3.5zM628.72,265.27h3.5v3.5h-3.5zM631.38,265.03h3.5v3.5h-3.5zM634.04,264.82h3.5v3.5h-3.5zM636.7,264.64h3.5v3.5h-3.5zM639.35,264.52h3.5v3.5h-3.5zM642.01,264.46h3.5v3.5h-3.5zM644.67,264.46h3.5v3.5h-3.5zM647.33,264.5h3.5v3.5h-3.5zM649.99,264.59h3.5v3.5h-3.5zM652.64,264.71h3.5v3.5h-3.5zM655.3,264.86h3.5v3.5h-3.5zM657.96,265.05h3.5v3.5h-3.5zM660.62,265.28h3.5v3.5h-3.5zM663.28,265.53h3.5v3.5h-3.5zM665.93,265.81h3.5v3.5h-3.5zM668.59,266.12h3.5v3.5h-3.5zM671.25,266.45h3.5v3.5h-3.5z" fill="none" stroke="#1414ff" stroke-width="1.15"/>
<polygon points="407.3,261.9 409.93,269.98 418.43,269.98 411.55,274.98 414.18,283.07 407.3,278.07 400.42,283.07 403.05,274.98 396.17,269.98 404.67,269.98" fill="#47c15c" stroke="none" stroke-width="1"/>
<text x="669.9" y="281.8" font-size="15.4" text-anchor="end" fill="#111">Driver 9</text>
<text x="18.4" y="169.9" font-size="15.8" text-anchor="middle" fill="#111" transform="rotate(-90 18.4 169.9)">Horizontal displacement of eyes (cm)</text>
<text x="371.7" y="169.9" font-size="15.8" text-anchor="middle" fill="#111" transform="rotate(-90 371.7 169.9)">Horizontal displacement of eyes (cm)</text>
<text x="194.6" y="319" font-size="18.8" text-anchor="middle" fill="#111">Time (s)</text>
<text x="542.6" y="319" font-size="18.8" text-anchor="middle" fill="#111">Time (s)</text>
<text x="6.5" y="341.6" font-size="21" text-anchor="start" font-weight="bold" fill="#111">b</text>
<polygon points="52.61,489.16 52.61,391.86 86.25,338.21 86.25,435.51" fill="#ffffff" stroke="none" stroke-width="1"/>
<line x1="52.61" y1="489.16" x2="86.25" y2="435.51" stroke="#d9dcdc" stroke-width="0.6"/>
<line x1="52.61" y1="468.31" x2="86.25" y2="414.66" stroke="#d9dcdc" stroke-width="0.6"/>
<line x1="52.61" y1="447.46" x2="86.25" y2="393.81" stroke="#d9dcdc" stroke-width="0.6"/>
<line x1="52.61" y1="426.61" x2="86.25" y2="372.96" stroke="#d9dcdc" stroke-width="0.6"/>
<line x1="52.61" y1="405.76" x2="86.25" y2="352.11" stroke="#d9dcdc" stroke-width="0.6"/>
<line x1="52.61" y1="391.86" x2="86.25" y2="338.21" stroke="#d9dcdc" stroke-width="0.6"/>
<line x1="54.93" y1="485.46" x2="54.93" y2="388.16" stroke="#d9dcdc" stroke-width="0.6"/>
<line x1="60.73" y1="476.21" x2="60.73" y2="378.91" stroke="#d9dcdc" stroke-width="0.6"/>
<line x1="66.53" y1="466.96" x2="66.53" y2="369.66" stroke="#d9dcdc" stroke-width="0.6"/>
<line x1="72.33" y1="457.71" x2="72.33" y2="360.41" stroke="#d9dcdc" stroke-width="0.6"/>
<line x1="78.13" y1="448.46" x2="78.13" y2="351.16" stroke="#d9dcdc" stroke-width="0.6"/>
<line x1="83.93" y1="439.21" x2="83.93" y2="341.91" stroke="#d9dcdc" stroke-width="0.6"/>
<polygon points="56.2,491.4 56.2,393.1 106.9,346.9 285.4,410.6 250.3,453.6 250.3,559.6" fill="#e5f8ee" stroke="none" stroke-width="1"/>
<line x1="86.25" y1="435.51" x2="284.99" y2="505.28" stroke="#d9dcdc" stroke-width="0.6"/>
<line x1="86.25" y1="414.66" x2="284.99" y2="484.43" stroke="#d9dcdc" stroke-width="0.6"/>
<line x1="86.25" y1="393.81" x2="284.99" y2="463.58" stroke="#d9dcdc" stroke-width="0.6"/>
<line x1="86.25" y1="372.96" x2="284.99" y2="442.73" stroke="#d9dcdc" stroke-width="0.6"/>
<line x1="86.25" y1="352.11" x2="284.99" y2="421.88" stroke="#d9dcdc" stroke-width="0.6"/>
<line x1="86.25" y1="338.21" x2="284.99" y2="407.98" stroke="#d9dcdc" stroke-width="0.6"/>
<line x1="99.24" y1="440.07" x2="99.24" y2="342.77" stroke="#d9dcdc" stroke-width="0.6"/>
<line x1="112.23" y1="444.63" x2="112.23" y2="347.33" stroke="#d9dcdc" stroke-width="0.6"/>
<line x1="125.22" y1="449.19" x2="125.22" y2="351.89" stroke="#d9dcdc" stroke-width="0.6"/>
<line x1="138.21" y1="453.75" x2="138.21" y2="356.45" stroke="#d9dcdc" stroke-width="0.6"/>
<line x1="151.2" y1="458.31" x2="151.2" y2="361.01" stroke="#d9dcdc" stroke-width="0.6"/>
<line x1="164.19" y1="462.87" x2="164.19" y2="365.57" stroke="#d9dcdc" stroke-width="0.6"/>
<line x1="177.18" y1="467.43" x2="177.18" y2="370.13" stroke="#d9dcdc" stroke-width="0.6"/>
<line x1="190.17" y1="471.99" x2="190.17" y2="374.69" stroke="#d9dcdc" stroke-width="0.6"/>
<line x1="203.16" y1="476.55" x2="203.16" y2="379.25" stroke="#d9dcdc" stroke-width="0.6"/>
<line x1="216.15" y1="481.11" x2="216.15" y2="383.81" stroke="#d9dcdc" stroke-width="0.6"/>
<line x1="229.14" y1="485.67" x2="229.14" y2="388.37" stroke="#d9dcdc" stroke-width="0.6"/>
<line x1="242.13" y1="490.23" x2="242.13" y2="392.93" stroke="#d9dcdc" stroke-width="0.6"/>
<line x1="255.12" y1="494.79" x2="255.12" y2="397.49" stroke="#d9dcdc" stroke-width="0.6"/>
<line x1="268.11" y1="499.35" x2="268.11" y2="402.05" stroke="#d9dcdc" stroke-width="0.6"/>
<line x1="281.1" y1="503.91" x2="281.1" y2="406.61" stroke="#d9dcdc" stroke-width="0.6"/>
<line x1="52.61" y1="489.16" x2="52.61" y2="391.86" stroke="#c8c8c8" stroke-width="0.7"/>
<line x1="52.61" y1="391.86" x2="86.25" y2="338.21" stroke="#c8c8c8" stroke-width="0.7"/>
<line x1="86.25" y1="338.21" x2="125.22" y2="351.89" stroke="#c8c8c8" stroke-width="0.7"/>
<line x1="86.25" y1="435.51" x2="86.25" y2="338.21" stroke="#c8c8c8" stroke-width="0.7"/>
<polygon points="99.79,449.3 104.43,441.9 104.43,350.99 99.79,358.39" fill="#c2cc35" stroke="none" stroke-width="1" stroke="#3a2c2c" stroke-opacity="0.8" stroke-width="0.7" stroke-linejoin="round"/>
<polygon points="89.4,445.65 99.79,449.3 99.79,358.39 89.4,354.74" fill="#e2ec3e" stroke="none" stroke-width="1" stroke="#3a2c2c" stroke-opacity="0.8" stroke-width="0.7" stroke-linejoin="round"/>
<polygon points="89.4,354.74 99.79,358.39 104.43,350.99 94.04,347.34" fill="#d8f63c" stroke="none" stroke-width="1" stroke="#3a2c2c" stroke-opacity="0.8" stroke-width="0.7" stroke-linejoin="round"/>
<polygon points="112.78,453.86 117.42,446.46 117.42,356.11 112.78,363.51" fill="#c2cc35" stroke="none" stroke-width="1" stroke="#3a2c2c" stroke-opacity="0.8" stroke-width="0.7" stroke-linejoin="round"/>
<polygon points="102.39,450.21 112.78,453.86 112.78,363.51 102.39,359.86" fill="#e2ec3e" stroke="none" stroke-width="1" stroke="#3a2c2c" stroke-opacity="0.8" stroke-width="0.7" stroke-linejoin="round"/>
<polygon points="102.39,359.86 112.78,363.51 117.42,356.11 107.03,352.46" fill="#d8f63c" stroke="none" stroke-width="1" stroke="#3a2c2c" stroke-opacity="0.8" stroke-width="0.7" stroke-linejoin="round"/>
<polygon points="125.77,458.42 130.41,451.02 130.41,363.31 125.77,370.71" fill="#c2cc35" stroke="none" stroke-width="1" stroke="#3a2c2c" stroke-opacity="0.8" stroke-width="0.7" stroke-linejoin="round"/>
<polygon points="115.38,454.77 125.77,458.42 125.77,370.71 115.38,367.06" fill="#e2ec3e" stroke="none" stroke-width="1" stroke="#3a2c2c" stroke-opacity="0.8" stroke-width="0.7" stroke-linejoin="round"/>
<polygon points="115.38,367.06 125.77,370.71 130.41,363.31 120.02,359.66" fill="#d8f63c" stroke="none" stroke-width="1" stroke="#3a2c2c" stroke-opacity="0.8" stroke-width="0.7" stroke-linejoin="round"/>
<polygon points="138.76,462.98 143.4,455.58 143.4,363.28 138.76,370.68" fill="#c2cc35" stroke="none" stroke-width="1" stroke="#3a2c2c" stroke-opacity="0.8" stroke-width="0.7" stroke-linejoin="round"/>
<polygon points="128.37,459.33 138.76,462.98 138.76,370.68 128.37,367.03" fill="#e2ec3e" stroke="none" stroke-width="1" stroke="#3a2c2c" stroke-opacity="0.8" stroke-width="0.7" stroke-linejoin="round"/>
<polygon points="128.37,367.03 138.76,370.68 143.4,363.28 133.01,359.63" fill="#d8f63c" stroke="none" stroke-width="1" stroke="#3a2c2c" stroke-opacity="0.8" stroke-width="0.7" stroke-linejoin="round"/>
<polygon points="151.75,467.54 156.39,460.14 156.39,373.54 151.75,380.94" fill="#c2cc35" stroke="none" stroke-width="1" stroke="#3a2c2c" stroke-opacity="0.8" stroke-width="0.7" stroke-linejoin="round"/>
<polygon points="141.36,463.89 151.75,467.54 151.75,380.94 141.36,377.29" fill="#e2ec3e" stroke="none" stroke-width="1" stroke="#3a2c2c" stroke-opacity="0.8" stroke-width="0.7" stroke-linejoin="round"/>
<polygon points="141.36,377.29 151.75,380.94 156.39,373.54 146,369.89" fill="#d8f63c" stroke="none" stroke-width="1" stroke="#3a2c2c" stroke-opacity="0.8" stroke-width="0.7" stroke-linejoin="round"/>
<polygon points="164.74,472.1 169.38,464.7 169.38,377.41 164.74,384.81" fill="#c2cc35" stroke="none" stroke-width="1" stroke="#3a2c2c" stroke-opacity="0.8" stroke-width="0.7" stroke-linejoin="round"/>
<polygon points="154.35,468.45 164.74,472.1 164.74,384.81 154.35,381.16" fill="#e2ec3e" stroke="none" stroke-width="1" stroke="#3a2c2c" stroke-opacity="0.8" stroke-width="0.7" stroke-linejoin="round"/>
<polygon points="154.35,381.16 164.74,384.81 169.38,377.41 158.99,373.76" fill="#d8f63c" stroke="none" stroke-width="1" stroke="#3a2c2c" stroke-opacity="0.8" stroke-width="0.7" stroke-linejoin="round"/>
<polygon points="177.73,476.66 182.37,469.26 182.37,380.44 177.73,387.84" fill="#c2cc35" stroke="none" stroke-width="1" stroke="#3a2c2c" stroke-opacity="0.8" stroke-width="0.7" stroke-linejoin="round"/>
<polygon points="167.34,473.01 177.73,476.66 177.73,387.84 167.34,384.19" fill="#e2ec3e" stroke="none" stroke-width="1" stroke="#3a2c2c" stroke-opacity="0.8" stroke-width="0.7" stroke-linejoin="round"/>
<polygon points="167.34,384.19 177.73,387.84 182.37,380.44 171.98,376.79" fill="#d8f63c" stroke="none" stroke-width="1" stroke="#3a2c2c" stroke-opacity="0.8" stroke-width="0.7" stroke-linejoin="round"/>
<polygon points="190.72,481.22 195.36,473.82 195.36,385.55 190.72,392.95" fill="#c2cc35" stroke="none" stroke-width="1" stroke="#3a2c2c" stroke-opacity="0.8" stroke-width="0.7" stroke-linejoin="round"/>
<polygon points="180.33,477.57 190.72,481.22 190.72,392.95 180.33,389.3" fill="#e2ec3e" stroke="none" stroke-width="1" stroke="#3a2c2c" stroke-opacity="0.8" stroke-width="0.7" stroke-linejoin="round"/>
<polygon points="180.33,389.3 190.72,392.95 195.36,385.55 184.97,381.9" fill="#d8f63c" stroke="none" stroke-width="1" stroke="#3a2c2c" stroke-opacity="0.8" stroke-width="0.7" stroke-linejoin="round"/>
<polygon points="203.71,485.78 208.35,478.38 208.35,392.89 203.71,400.29" fill="#c2cc35" stroke="none" stroke-width="1" stroke="#3a2c2c" stroke-opacity="0.8" stroke-width="0.7" stroke-linejoin="round"/>
<polygon points="193.32,482.13 203.71,485.78 203.71,400.29 193.32,396.64" fill="#e2ec3e" stroke="none" stroke-width="1" stroke="#3a2c2c" stroke-opacity="0.8" stroke-width="0.7" stroke-linejoin="round"/>
<polygon points="193.32,396.64 203.71,400.29 208.35,392.89 197.96,389.25" fill="#d8f63c" stroke="none" stroke-width="1" stroke="#3a2c2c" stroke-opacity="0.8" stroke-width="0.7" stroke-linejoin="round"/>
<polygon points="216.7,490.34 221.34,482.94 221.34,399.4 216.7,406.8" fill="#c2cc35" stroke="none" stroke-width="1" stroke="#3a2c2c" stroke-opacity="0.8" stroke-width="0.7" stroke-linejoin="round"/>
<polygon points="206.31,486.69 216.7,490.34 216.7,406.8 206.31,403.15" fill="#e2ec3e" stroke="none" stroke-width="1" stroke="#3a2c2c" stroke-opacity="0.8" stroke-width="0.7" stroke-linejoin="round"/>
<polygon points="206.31,403.15 216.7,406.8 221.34,399.4 210.95,395.75" fill="#d8f63c" stroke="none" stroke-width="1" stroke="#3a2c2c" stroke-opacity="0.8" stroke-width="0.7" stroke-linejoin="round"/>
<polygon points="229.69,494.9 234.33,487.5 234.33,404.52 229.69,411.92" fill="#c2cc35" stroke="none" stroke-width="1" stroke="#3a2c2c" stroke-opacity="0.8" stroke-width="0.7" stroke-linejoin="round"/>
<polygon points="219.3,491.25 229.69,494.9 229.69,411.92 219.3,408.27" fill="#e2ec3e" stroke="none" stroke-width="1" stroke="#3a2c2c" stroke-opacity="0.8" stroke-width="0.7" stroke-linejoin="round"/>
<polygon points="219.3,408.27 229.69,411.92 234.33,404.52 223.94,400.87" fill="#d8f63c" stroke="none" stroke-width="1" stroke="#3a2c2c" stroke-opacity="0.8" stroke-width="0.7" stroke-linejoin="round"/>
<polygon points="242.68,499.46 247.32,492.06 247.32,413.25 242.68,420.64" fill="#c2cc35" stroke="none" stroke-width="1" stroke="#3a2c2c" stroke-opacity="0.8" stroke-width="0.7" stroke-linejoin="round"/>
<polygon points="232.29,495.81 242.68,499.46 242.68,420.64 232.29,417" fill="#e2ec3e" stroke="none" stroke-width="1" stroke="#3a2c2c" stroke-opacity="0.8" stroke-width="0.7" stroke-linejoin="round"/>
<polygon points="232.29,417 242.68,420.64 247.32,413.25 236.93,409.6" fill="#d8f63c" stroke="none" stroke-width="1" stroke="#3a2c2c" stroke-opacity="0.8" stroke-width="0.7" stroke-linejoin="round"/>
<polygon points="255.67,504.02 260.31,496.62 260.31,419.33 255.67,426.73" fill="#c2cc35" stroke="none" stroke-width="1" stroke="#3a2c2c" stroke-opacity="0.8" stroke-width="0.7" stroke-linejoin="round"/>
<polygon points="245.28,500.37 255.67,504.02 255.67,426.73 245.28,423.09" fill="#e2ec3e" stroke="none" stroke-width="1" stroke="#3a2c2c" stroke-opacity="0.8" stroke-width="0.7" stroke-linejoin="round"/>
<polygon points="245.28,423.09 255.67,426.73 260.31,419.33 249.92,415.69" fill="#d8f63c" stroke="none" stroke-width="1" stroke="#3a2c2c" stroke-opacity="0.8" stroke-width="0.7" stroke-linejoin="round"/>
<polygon points="268.66,508.58 273.3,501.18 273.3,416.39 268.66,423.79" fill="#c2cc35" stroke="none" stroke-width="1" stroke="#3a2c2c" stroke-opacity="0.8" stroke-width="0.7" stroke-linejoin="round"/>
<polygon points="258.27,504.93 268.66,508.58 268.66,423.79 258.27,420.14" fill="#e2ec3e" stroke="none" stroke-width="1" stroke="#3a2c2c" stroke-opacity="0.8" stroke-width="0.7" stroke-linejoin="round"/>
<polygon points="258.27,420.14 268.66,423.79 273.3,416.39 262.91,412.74" fill="#d8f63c" stroke="none" stroke-width="1" stroke="#3a2c2c" stroke-opacity="0.8" stroke-width="0.7" stroke-linejoin="round"/>
<polygon points="281.65,513.14 286.29,505.74 286.29,420.25 281.65,427.65" fill="#f2f236" stroke="none" stroke-width="1" stroke="#3a2c2c" stroke-opacity="0.8" stroke-width="0.7" stroke-linejoin="round"/>
<polygon points="271.26,509.49 281.65,513.14 281.65,427.65 271.26,424" fill="#b9b93a" stroke="none" stroke-width="1" stroke="#3a2c2c" stroke-opacity="0.8" stroke-width="0.7" stroke-linejoin="round"/>
<polygon points="271.26,424 281.65,427.65 286.29,420.25 275.9,416.61" fill="#e6f53a" stroke="none" stroke-width="1" stroke="#3a2c2c" stroke-opacity="0.8" stroke-width="0.7" stroke-linejoin="round"/>
<polygon points="93.99,458.55 98.63,451.15 98.63,358.99 93.99,366.39" fill="#b9a23c" stroke="none" stroke-width="1" stroke="#3a2c2c" stroke-opacity="0.8" stroke-width="0.7" stroke-linejoin="round"/>
<polygon points="83.6,454.9 93.99,458.55 93.99,366.39 83.6,362.74" fill="#d3bb45" stroke="none" stroke-width="1" stroke="#3a2c2c" stroke-opacity="0.8" stroke-width="0.7" stroke-linejoin="round"/>
<polygon points="83.6,362.74 93.99,366.39 98.63,358.99 88.24,355.34" fill="#e0aa3a" stroke="none" stroke-width="1" stroke="#3a2c2c" stroke-opacity="0.8" stroke-width="0.7" stroke-linejoin="round"/>
<polygon points="106.98,463.11 111.62,455.71 111.62,364.8 106.98,372.2" fill="#b9a23c" stroke="none" stroke-width="1" stroke="#3a2c2c" stroke-opacity="0.8" stroke-width="0.7" stroke-linejoin="round"/>
<polygon points="96.59,459.46 106.98,463.11 106.98,372.2 96.59,368.55" fill="#d3bb45" stroke="none" stroke-width="1" stroke="#3a2c2c" stroke-opacity="0.8" stroke-width="0.7" stroke-linejoin="round"/>
<polygon points="96.59,368.55 106.98,372.2 111.62,364.8 101.23,361.15" fill="#d9c352" stroke="none" stroke-width="1" stroke="#3a2c2c" stroke-opacity="0.8" stroke-width="0.7" stroke-linejoin="round"/>
<polygon points="119.97,467.67 124.61,460.27 124.61,369.92 119.97,377.32" fill="#b9a23c" stroke="none" stroke-width="1" stroke="#3a2c2c" stroke-opacity="0.8" stroke-width="0.7" stroke-linejoin="round"/>
<polygon points="109.58,464.02 119.97,467.67 119.97,377.32 109.58,373.67" fill="#d3bb45" stroke="none" stroke-width="1" stroke="#3a2c2c" stroke-opacity="0.8" stroke-width="0.7" stroke-linejoin="round"/>
<polygon points="109.58,373.67 119.97,377.32 124.61,369.92 114.22,366.27" fill="#d9c352" stroke="none" stroke-width="1" stroke="#3a2c2c" stroke-opacity="0.8" stroke-width="0.7" stroke-linejoin="round"/>
<polygon points="132.96,472.23 137.6,464.83 137.6,372.11 132.96,379.51" fill="#b9a23c" stroke="none" stroke-width="1" stroke="#3a2c2c" stroke-opacity="0.8" stroke-width="0.7" stroke-linejoin="round"/>
<polygon points="122.57,468.58 132.96,472.23 132.96,379.51 122.57,375.87" fill="#d3bb45" stroke="none" stroke-width="1" stroke="#3a2c2c" stroke-opacity="0.8" stroke-width="0.7" stroke-linejoin="round"/>
<polygon points="122.57,375.87 132.96,379.51 137.6,372.11 127.21,368.47" fill="#d9c352" stroke="none" stroke-width="1" stroke="#3a2c2c" stroke-opacity="0.8" stroke-width="0.7" stroke-linejoin="round"/>
<polygon points="145.95,476.79 150.59,469.39 150.59,382.37 145.95,389.77" fill="#b9a23c" stroke="none" stroke-width="1" stroke="#3a2c2c" stroke-opacity="0.8" stroke-width="0.7" stroke-linejoin="round"/>
<polygon points="135.56,473.14 145.95,476.79 145.95,389.77 135.56,386.13" fill="#d3bb45" stroke="none" stroke-width="1" stroke="#3a2c2c" stroke-opacity="0.8" stroke-width="0.7" stroke-linejoin="round"/>
<polygon points="135.56,386.13 145.95,389.77 150.59,382.37 140.2,378.73" fill="#d9c352" stroke="none" stroke-width="1" stroke="#3a2c2c" stroke-opacity="0.8" stroke-width="0.7" stroke-linejoin="round"/>
<polygon points="158.94,481.35 163.58,473.95 163.58,386.52 158.94,393.92" fill="#b9a23c" stroke="none" stroke-width="1" stroke="#3a2c2c" stroke-opacity="0.8" stroke-width="0.7" stroke-linejoin="round"/>
<polygon points="148.55,477.7 158.94,481.35 158.94,393.92 148.55,390.27" fill="#d3bb45" stroke="none" stroke-width="1" stroke="#3a2c2c" stroke-opacity="0.8" stroke-width="0.7" stroke-linejoin="round"/>
<polygon points="148.55,390.27 158.94,393.92 163.58,386.52 153.19,382.87" fill="#d9c352" stroke="none" stroke-width="1" stroke="#3a2c2c" stroke-opacity="0.8" stroke-width="0.7" stroke-linejoin="round"/>
<polygon points="171.93,485.91 176.57,478.51 176.57,388.71 171.93,396.11" fill="#b9a23c" stroke="none" stroke-width="1" stroke="#3a2c2c" stroke-opacity="0.8" stroke-width="0.7" stroke-linejoin="round"/>
<polygon points="161.54,482.26 171.93,485.91 171.93,396.11 161.54,392.47" fill="#d3bb45" stroke="none" stroke-width="1" stroke="#3a2c2c" stroke-opacity="0.8" stroke-width="0.7" stroke-linejoin="round"/>
<polygon points="161.54,392.47 171.93,396.11 176.57,388.71 166.18,385.07" fill="#d9c352" stroke="none" stroke-width="1" stroke="#3a2c2c" stroke-opacity="0.8" stroke-width="0.7" stroke-linejoin="round"/>
<polygon points="184.92,490.47 189.56,483.07 189.56,392.16 184.92,399.56" fill="#b9a23c" stroke="none" stroke-width="1" stroke="#3a2c2c" stroke-opacity="0.8" stroke-width="0.7" stroke-linejoin="round"/>
<polygon points="174.53,486.82 184.92,490.47 184.92,399.56 174.53,395.91" fill="#d3bb45" stroke="none" stroke-width="1" stroke="#3a2c2c" stroke-opacity="0.8" stroke-width="0.7" stroke-linejoin="round"/>
<polygon points="174.53,395.91 184.92,399.56 189.56,392.16 179.17,388.51" fill="#d9c352" stroke="none" stroke-width="1" stroke="#3a2c2c" stroke-opacity="0.8" stroke-width="0.7" stroke-linejoin="round"/>
<polygon points="197.91,495.03 202.55,487.63 202.55,399.5 197.91,406.9" fill="#b9a23c" stroke="none" stroke-width="1" stroke="#3a2c2c" stroke-opacity="0.8" stroke-width="0.7" stroke-linejoin="round"/>
<polygon points="187.52,491.38 197.91,495.03 197.91,406.9 187.52,403.25" fill="#d3bb45" stroke="none" stroke-width="1" stroke="#3a2c2c" stroke-opacity="0.8" stroke-width="0.7" stroke-linejoin="round"/>
<polygon points="187.52,403.25 197.91,406.9 202.55,399.5 192.16,395.85" fill="#d9c352" stroke="none" stroke-width="1" stroke="#3a2c2c" stroke-opacity="0.8" stroke-width="0.7" stroke-linejoin="round"/>
<polygon points="210.9,499.59 215.54,492.19 215.54,406.29 210.9,413.69" fill="#b9a23c" stroke="none" stroke-width="1" stroke="#3a2c2c" stroke-opacity="0.8" stroke-width="0.7" stroke-linejoin="round"/>
<polygon points="200.51,495.94 210.9,499.59 210.9,413.69 200.51,410.04" fill="#d3bb45" stroke="none" stroke-width="1" stroke="#3a2c2c" stroke-opacity="0.8" stroke-width="0.7" stroke-linejoin="round"/>
<polygon points="200.51,410.04 210.9,413.69 215.54,406.29 205.15,402.64" fill="#d9c352" stroke="none" stroke-width="1" stroke="#3a2c2c" stroke-opacity="0.8" stroke-width="0.7" stroke-linejoin="round"/>
<polygon points="223.89,504.15 228.53,496.75 228.53,412.24 223.89,419.64" fill="#b9a23c" stroke="none" stroke-width="1" stroke="#3a2c2c" stroke-opacity="0.8" stroke-width="0.7" stroke-linejoin="round"/>
<polygon points="213.5,500.5 223.89,504.15 223.89,419.64 213.5,415.99" fill="#d3bb45" stroke="none" stroke-width="1" stroke="#3a2c2c" stroke-opacity="0.8" stroke-width="0.7" stroke-linejoin="round"/>
<polygon points="213.5,415.99 223.89,419.64 228.53,412.24 218.14,408.59" fill="#d9c352" stroke="none" stroke-width="1" stroke="#3a2c2c" stroke-opacity="0.8" stroke-width="0.7" stroke-linejoin="round"/>
<polygon points="236.88,508.71 241.52,501.31 241.52,418.6 236.88,426" fill="#b9a23c" stroke="none" stroke-width="1" stroke="#3a2c2c" stroke-opacity="0.8" stroke-width="0.7" stroke-linejoin="round"/>
<polygon points="226.49,505.06 236.88,508.71 236.88,426 226.49,422.35" fill="#d3bb45" stroke="none" stroke-width="1" stroke="#3a2c2c" stroke-opacity="0.8" stroke-width="0.7" stroke-linejoin="round"/>
<polygon points="226.49,422.35 236.88,426 241.52,418.6 231.13,414.95" fill="#d9c352" stroke="none" stroke-width="1" stroke="#3a2c2c" stroke-opacity="0.8" stroke-width="0.7" stroke-linejoin="round"/>
<polygon points="249.87,513.27 254.51,505.87 254.51,425.67 249.87,433.07" fill="#b9a23c" stroke="none" stroke-width="1" stroke="#3a2c2c" stroke-opacity="0.8" stroke-width="0.7" stroke-linejoin="round"/>
<polygon points="239.48,509.62 249.87,513.27 249.87,433.07 239.48,429.42" fill="#d3bb45" stroke="none" stroke-width="1" stroke="#3a2c2c" stroke-opacity="0.8" stroke-width="0.7" stroke-linejoin="round"/>
<polygon points="239.48,429.42 249.87,433.07 254.51,425.67 244.12,422.02" fill="#d9c352" stroke="none" stroke-width="1" stroke="#3a2c2c" stroke-opacity="0.8" stroke-width="0.7" stroke-linejoin="round"/>
<polygon points="262.86,517.83 267.5,510.43 267.5,426.06 262.86,433.45" fill="#b9a23c" stroke="none" stroke-width="1" stroke="#3a2c2c" stroke-opacity="0.8" stroke-width="0.7" stroke-linejoin="round"/>
<polygon points="252.47,514.18 262.86,517.83 262.86,433.45 252.47,429.81" fill="#d3bb45" stroke="none" stroke-width="1" stroke="#3a2c2c" stroke-opacity="0.8" stroke-width="0.7" stroke-linejoin="round"/>
<polygon points="252.47,429.81 262.86,433.45 267.5,426.06 257.11,422.41" fill="#d9c352" stroke="none" stroke-width="1" stroke="#3a2c2c" stroke-opacity="0.8" stroke-width="0.7" stroke-linejoin="round"/>
<polygon points="275.85,522.39 280.49,514.99 280.49,430.06 275.85,437.46" fill="#dcae3a" stroke="none" stroke-width="1" stroke="#3a2c2c" stroke-opacity="0.8" stroke-width="0.7" stroke-linejoin="round"/>
<polygon points="265.46,518.74 275.85,522.39 275.85,437.46 265.46,433.81" fill="#e2b33c" stroke="none" stroke-width="1" stroke="#3a2c2c" stroke-opacity="0.8" stroke-width="0.7" stroke-linejoin="round"/>
<polygon points="265.46,433.81 275.85,437.46 280.49,430.06 270.1,426.41" fill="#e5b540" stroke="none" stroke-width="1" stroke="#3a2c2c" stroke-opacity="0.8" stroke-width="0.7" stroke-linejoin="round"/>
<polygon points="88.19,467.8 92.83,460.4 92.83,381.86 88.19,389.26" fill="#3faecb" stroke="none" stroke-width="1" stroke="#3a2c2c" stroke-opacity="0.8" stroke-width="0.7" stroke-linejoin="round"/>
<polygon points="77.8,464.15 88.19,467.8 88.19,389.26 77.8,385.61" fill="#4cc2e2" stroke="none" stroke-width="1" stroke="#3a2c2c" stroke-opacity="0.8" stroke-width="0.7" stroke-linejoin="round"/>
<polygon points="77.8,385.61 88.19,389.26 92.83,381.86 82.44,378.21" fill="#5bcdea" stroke="none" stroke-width="1" stroke="#3a2c2c" stroke-opacity="0.8" stroke-width="0.7" stroke-linejoin="round"/>
<polygon points="101.18,472.36 105.82,464.96 105.82,383.09 101.18,390.49" fill="#3faecb" stroke="none" stroke-width="1" stroke="#3a2c2c" stroke-opacity="0.8" stroke-width="0.7" stroke-linejoin="round"/>
<polygon points="90.79,468.71 101.18,472.36 101.18,390.49 90.79,386.84" fill="#4cc2e2" stroke="none" stroke-width="1" stroke="#3a2c2c" stroke-opacity="0.8" stroke-width="0.7" stroke-linejoin="round"/>
<polygon points="90.79,386.84 101.18,390.49 105.82,383.09 95.43,379.44" fill="#5bcdea" stroke="none" stroke-width="1" stroke="#3a2c2c" stroke-opacity="0.8" stroke-width="0.7" stroke-linejoin="round"/>
<polygon points="114.17,476.92 118.81,469.52 118.81,390.29 114.17,397.69" fill="#3faecb" stroke="none" stroke-width="1" stroke="#3a2c2c" stroke-opacity="0.8" stroke-width="0.7" stroke-linejoin="round"/>
<polygon points="103.78,473.27 114.17,476.92 114.17,397.69 103.78,394.04" fill="#4cc2e2" stroke="none" stroke-width="1" stroke="#3a2c2c" stroke-opacity="0.8" stroke-width="0.7" stroke-linejoin="round"/>
<polygon points="103.78,394.04 114.17,397.69 118.81,390.29 108.42,386.64" fill="#5bcdea" stroke="none" stroke-width="1" stroke="#3a2c2c" stroke-opacity="0.8" stroke-width="0.7" stroke-linejoin="round"/>
<polygon points="127.16,481.48 131.8,474.08 131.8,393.18 127.16,400.58" fill="#3faecb" stroke="none" stroke-width="1" stroke="#3a2c2c" stroke-opacity="0.8" stroke-width="0.7" stroke-linejoin="round"/>
<polygon points="116.77,477.83 127.16,481.48 127.16,400.58 116.77,396.93" fill="#4cc2e2" stroke="none" stroke-width="1" stroke="#3a2c2c" stroke-opacity="0.8" stroke-width="0.7" stroke-linejoin="round"/>
<polygon points="116.77,396.93 127.16,400.58 131.8,393.18 121.41,389.53" fill="#5bcdea" stroke="none" stroke-width="1" stroke="#3a2c2c" stroke-opacity="0.8" stroke-width="0.7" stroke-linejoin="round"/>
<polygon points="140.15,486.04 144.79,478.64 144.79,403.3 140.15,410.7" fill="#3faecb" stroke="none" stroke-width="1" stroke="#3a2c2c" stroke-opacity="0.8" stroke-width="0.7" stroke-linejoin="round"/>
<polygon points="129.76,482.39 140.15,486.04 140.15,410.7 129.76,407.05" fill="#4cc2e2" stroke="none" stroke-width="1" stroke="#3a2c2c" stroke-opacity="0.8" stroke-width="0.7" stroke-linejoin="round"/>
<polygon points="129.76,407.05 140.15,410.7 144.79,403.3 134.4,399.65" fill="#5bcdea" stroke="none" stroke-width="1" stroke="#3a2c2c" stroke-opacity="0.8" stroke-width="0.7" stroke-linejoin="round"/>
<polygon points="153.14,490.6 157.78,483.2 157.78,407.58 153.14,414.98" fill="#3faecb" stroke="none" stroke-width="1" stroke="#3a2c2c" stroke-opacity="0.8" stroke-width="0.7" stroke-linejoin="round"/>
<polygon points="142.75,486.95 153.14,490.6 153.14,414.98 142.75,411.33" fill="#4cc2e2" stroke="none" stroke-width="1" stroke="#3a2c2c" stroke-opacity="0.8" stroke-width="0.7" stroke-linejoin="round"/>
<polygon points="142.75,411.33 153.14,414.98 157.78,407.58 147.39,403.93" fill="#5bcdea" stroke="none" stroke-width="1" stroke="#3a2c2c" stroke-opacity="0.8" stroke-width="0.7" stroke-linejoin="round"/>
<polygon points="166.13,495.16 170.77,487.76 170.77,411.73 166.13,419.12" fill="#3faecb" stroke="none" stroke-width="1" stroke="#3a2c2c" stroke-opacity="0.8" stroke-width="0.7" stroke-linejoin="round"/>
<polygon points="155.74,491.51 166.13,495.16 166.13,419.12 155.74,415.48" fill="#4cc2e2" stroke="none" stroke-width="1" stroke="#3a2c2c" stroke-opacity="0.8" stroke-width="0.7" stroke-linejoin="round"/>
<polygon points="155.74,415.48 166.13,419.12 170.77,411.73 160.38,408.08" fill="#5bcdea" stroke="none" stroke-width="1" stroke="#3a2c2c" stroke-opacity="0.8" stroke-width="0.7" stroke-linejoin="round"/>
<polygon points="179.12,499.72 183.76,492.32 183.76,417.81 179.12,425.21" fill="#3faecb" stroke="none" stroke-width="1" stroke="#3a2c2c" stroke-opacity="0.8" stroke-width="0.7" stroke-linejoin="round"/>
<polygon points="168.73,496.07 179.12,499.72 179.12,425.21 168.73,421.57" fill="#4cc2e2" stroke="none" stroke-width="1" stroke="#3a2c2c" stroke-opacity="0.8" stroke-width="0.7" stroke-linejoin="round"/>
<polygon points="168.73,421.57 179.12,425.21 183.76,417.81 173.37,414.17" fill="#5bcdea" stroke="none" stroke-width="1" stroke="#3a2c2c" stroke-opacity="0.8" stroke-width="0.7" stroke-linejoin="round"/>
<polygon points="192.11,504.28 196.75,496.88 196.75,420.98 192.11,428.38" fill="#3faecb" stroke="none" stroke-width="1" stroke="#3a2c2c" stroke-opacity="0.8" stroke-width="0.7" stroke-linejoin="round"/>
<polygon points="181.72,500.63 192.11,504.28 192.11,428.38 181.72,424.74" fill="#4cc2e2" stroke="none" stroke-width="1" stroke="#3a2c2c" stroke-opacity="0.8" stroke-width="0.7" stroke-linejoin="round"/>
<polygon points="181.72,424.74 192.11,428.38 196.75,420.98 186.36,417.34" fill="#5bcdea" stroke="none" stroke-width="1" stroke="#3a2c2c" stroke-opacity="0.8" stroke-width="0.7" stroke-linejoin="round"/>
<polygon points="205.1,508.84 209.74,501.44 209.74,425.82 205.1,433.22" fill="#3faecb" stroke="none" stroke-width="1" stroke="#3a2c2c" stroke-opacity="0.8" stroke-width="0.7" stroke-linejoin="round"/>
<polygon points="194.71,505.19 205.1,508.84 205.1,433.22 194.71,429.57" fill="#4cc2e2" stroke="none" stroke-width="1" stroke="#3a2c2c" stroke-opacity="0.8" stroke-width="0.7" stroke-linejoin="round"/>
<polygon points="194.71,429.57 205.1,433.22 209.74,425.82 199.35,422.17" fill="#5bcdea" stroke="none" stroke-width="1" stroke="#3a2c2c" stroke-opacity="0.8" stroke-width="0.7" stroke-linejoin="round"/>
<polygon points="218.09,513.4 222.73,506 222.73,435.11 218.09,442.51" fill="#3faecb" stroke="none" stroke-width="1" stroke="#3a2c2c" stroke-opacity="0.8" stroke-width="0.7" stroke-linejoin="round"/>
<polygon points="207.7,509.75 218.09,513.4 218.09,442.51 207.7,438.86" fill="#4cc2e2" stroke="none" stroke-width="1" stroke="#3a2c2c" stroke-opacity="0.8" stroke-width="0.7" stroke-linejoin="round"/>
<polygon points="207.7,438.86 218.09,442.51 222.73,435.11 212.34,431.46" fill="#5bcdea" stroke="none" stroke-width="1" stroke="#3a2c2c" stroke-opacity="0.8" stroke-width="0.7" stroke-linejoin="round"/>
<polygon points="231.08,517.96 235.72,510.56 235.72,440.5 231.08,447.9" fill="#3faecb" stroke="none" stroke-width="1" stroke="#3a2c2c" stroke-opacity="0.8" stroke-width="0.7" stroke-linejoin="round"/>
<polygon points="220.69,514.31 231.08,517.96 231.08,447.9 220.69,444.25" fill="#4cc2e2" stroke="none" stroke-width="1" stroke="#3a2c2c" stroke-opacity="0.8" stroke-width="0.7" stroke-linejoin="round"/>
<polygon points="220.69,444.25 231.08,447.9 235.72,440.5 225.33,436.85" fill="#5bcdea" stroke="none" stroke-width="1" stroke="#3a2c2c" stroke-opacity="0.8" stroke-width="0.7" stroke-linejoin="round"/>
<polygon points="244.07,522.52 248.71,515.12 248.71,442 244.07,449.4" fill="#3faecb" stroke="none" stroke-width="1" stroke="#3a2c2c" stroke-opacity="0.8" stroke-width="0.7" stroke-linejoin="round"/>
<polygon points="233.68,518.87 244.07,522.52 244.07,449.4 233.68,445.76" fill="#4cc2e2" stroke="none" stroke-width="1" stroke="#3a2c2c" stroke-opacity="0.8" stroke-width="0.7" stroke-linejoin="round"/>
<polygon points="233.68,445.76 244.07,449.4 248.71,442 238.32,438.36" fill="#5bcdea" stroke="none" stroke-width="1" stroke="#3a2c2c" stroke-opacity="0.8" stroke-width="0.7" stroke-linejoin="round"/>
<polygon points="257.06,527.08 261.7,519.68 261.7,449.34 257.06,456.74" fill="#3faecb" stroke="none" stroke-width="1" stroke="#3a2c2c" stroke-opacity="0.8" stroke-width="0.7" stroke-linejoin="round"/>
<polygon points="246.67,523.43 257.06,527.08 257.06,456.74 246.67,453.1" fill="#4cc2e2" stroke="none" stroke-width="1" stroke="#3a2c2c" stroke-opacity="0.8" stroke-width="0.7" stroke-linejoin="round"/>
<polygon points="246.67,453.1 257.06,456.74 261.7,449.34 251.31,445.7" fill="#5bcdea" stroke="none" stroke-width="1" stroke="#3a2c2c" stroke-opacity="0.8" stroke-width="0.7" stroke-linejoin="round"/>
<polygon points="270.05,531.64 274.69,524.24 274.69,454.04 270.05,461.44" fill="#55c8f2" stroke="none" stroke-width="1" stroke="#3a2c2c" stroke-opacity="0.8" stroke-width="0.7" stroke-linejoin="round"/>
<polygon points="259.66,527.99 270.05,531.64 270.05,461.44 259.66,457.8" fill="#4cc2e2" stroke="none" stroke-width="1" stroke="#3a2c2c" stroke-opacity="0.8" stroke-width="0.7" stroke-linejoin="round"/>
<polygon points="259.66,457.8 270.05,461.44 274.69,454.04 264.3,450.4" fill="#5bcdea" stroke="none" stroke-width="1" stroke="#3a2c2c" stroke-opacity="0.8" stroke-width="0.7" stroke-linejoin="round"/>
<polygon points="82.39,477.05 87.03,469.65 87.03,388.19 82.39,395.59" fill="#3f63dc" stroke="none" stroke-width="1" stroke="#3a2c2c" stroke-opacity="0.8" stroke-width="0.7" stroke-linejoin="round"/>
<polygon points="72,473.4 82.39,477.05 82.39,395.59 72,391.95" fill="#4a72f3" stroke="none" stroke-width="1" stroke="#3a2c2c" stroke-opacity="0.8" stroke-width="0.7" stroke-linejoin="round"/>
<polygon points="72,391.95 82.39,395.59 87.03,388.19 76.64,384.55" fill="#5a80f6" stroke="none" stroke-width="1" stroke="#3a2c2c" stroke-opacity="0.8" stroke-width="0.7" stroke-linejoin="round"/>
<polygon points="95.38,481.61 100.02,474.21 100.02,391.78 95.38,399.18" fill="#3f63dc" stroke="none" stroke-width="1" stroke="#3a2c2c" stroke-opacity="0.8" stroke-width="0.7" stroke-linejoin="round"/>
<polygon points="84.99,477.96 95.38,481.61 95.38,399.18 84.99,395.53" fill="#4a72f3" stroke="none" stroke-width="1" stroke="#3a2c2c" stroke-opacity="0.8" stroke-width="0.7" stroke-linejoin="round"/>
<polygon points="84.99,395.53 95.38,399.18 100.02,391.78 89.63,388.13" fill="#5a80f6" stroke="none" stroke-width="1" stroke="#3a2c2c" stroke-opacity="0.8" stroke-width="0.7" stroke-linejoin="round"/>
<polygon points="108.37,486.17 113.01,478.77 113.01,399.26 108.37,406.66" fill="#3f63dc" stroke="none" stroke-width="1" stroke="#3a2c2c" stroke-opacity="0.8" stroke-width="0.7" stroke-linejoin="round"/>
<polygon points="97.98,482.52 108.37,486.17 108.37,406.66 97.98,403.01" fill="#4a72f3" stroke="none" stroke-width="1" stroke="#3a2c2c" stroke-opacity="0.8" stroke-width="0.7" stroke-linejoin="round"/>
<polygon points="97.98,403.01 108.37,406.66 113.01,399.26 102.62,395.61" fill="#5a80f6" stroke="none" stroke-width="1" stroke="#3a2c2c" stroke-opacity="0.8" stroke-width="0.7" stroke-linejoin="round"/>
<polygon points="121.36,490.73 126,483.33 126,403.68 121.36,411.08" fill="#3f63dc" stroke="none" stroke-width="1" stroke="#3a2c2c" stroke-opacity="0.8" stroke-width="0.7" stroke-linejoin="round"/>
<polygon points="110.97,487.08 121.36,490.73 121.36,411.08 110.97,407.43" fill="#4a72f3" stroke="none" stroke-width="1" stroke="#3a2c2c" stroke-opacity="0.8" stroke-width="0.7" stroke-linejoin="round"/>
<polygon points="110.97,407.43 121.36,411.08 126,403.68 115.61,400.03" fill="#5a80f6" stroke="none" stroke-width="1" stroke="#3a2c2c" stroke-opacity="0.8" stroke-width="0.7" stroke-linejoin="round"/>
<polygon points="134.35,495.29 138.99,487.89 138.99,410.6 134.35,418" fill="#3f63dc" stroke="none" stroke-width="1" stroke="#3a2c2c" stroke-opacity="0.8" stroke-width="0.7" stroke-linejoin="round"/>
<polygon points="123.96,491.64 134.35,495.29 134.35,418 123.96,414.36" fill="#4a72f3" stroke="none" stroke-width="1" stroke="#3a2c2c" stroke-opacity="0.8" stroke-width="0.7" stroke-linejoin="round"/>
<polygon points="123.96,414.36 134.35,418 138.99,410.6 128.6,406.96" fill="#5a80f6" stroke="none" stroke-width="1" stroke="#3a2c2c" stroke-opacity="0.8" stroke-width="0.7" stroke-linejoin="round"/>
<polygon points="147.34,499.85 151.98,492.45 151.98,416.55 147.34,423.95" fill="#3f63dc" stroke="none" stroke-width="1" stroke="#3a2c2c" stroke-opacity="0.8" stroke-width="0.7" stroke-linejoin="round"/>
<polygon points="136.95,496.2 147.34,499.85 147.34,423.95 136.95,420.31" fill="#4a72f3" stroke="none" stroke-width="1" stroke="#3a2c2c" stroke-opacity="0.8" stroke-width="0.7" stroke-linejoin="round"/>
<polygon points="136.95,420.31 147.34,423.95 151.98,416.55 141.59,412.91" fill="#5a80f6" stroke="none" stroke-width="1" stroke="#3a2c2c" stroke-opacity="0.8" stroke-width="0.7" stroke-linejoin="round"/>
<polygon points="160.33,504.41 164.97,497.01 164.97,420.28 160.33,427.68" fill="#3f63dc" stroke="none" stroke-width="1" stroke="#3a2c2c" stroke-opacity="0.8" stroke-width="0.7" stroke-linejoin="round"/>
<polygon points="149.94,500.76 160.33,504.41 160.33,427.68 149.94,424.03" fill="#4a72f3" stroke="none" stroke-width="1" stroke="#3a2c2c" stroke-opacity="0.8" stroke-width="0.7" stroke-linejoin="round"/>
<polygon points="149.94,424.03 160.33,427.68 164.97,420.28 154.58,416.63" fill="#5a80f6" stroke="none" stroke-width="1" stroke="#3a2c2c" stroke-opacity="0.8" stroke-width="0.7" stroke-linejoin="round"/>
<polygon points="173.32,508.97 177.96,501.57 177.96,426.79 173.32,434.19" fill="#3f63dc" stroke="none" stroke-width="1" stroke="#3a2c2c" stroke-opacity="0.8" stroke-width="0.7" stroke-linejoin="round"/>
<polygon points="162.93,505.32 173.32,508.97 173.32,434.19 162.93,430.54" fill="#4a72f3" stroke="none" stroke-width="1" stroke="#3a2c2c" stroke-opacity="0.8" stroke-width="0.7" stroke-linejoin="round"/>
<polygon points="162.93,430.54 173.32,434.19 177.96,426.79 167.57,423.14" fill="#5a80f6" stroke="none" stroke-width="1" stroke="#3a2c2c" stroke-opacity="0.8" stroke-width="0.7" stroke-linejoin="round"/>
<polygon points="186.31,513.53 190.95,506.13 190.95,427.73 186.31,435.13" fill="#3f63dc" stroke="none" stroke-width="1" stroke="#3a2c2c" stroke-opacity="0.8" stroke-width="0.7" stroke-linejoin="round"/>
<polygon points="175.92,509.88 186.31,513.53 186.31,435.13 175.92,431.48" fill="#4a72f3" stroke="none" stroke-width="1" stroke="#3a2c2c" stroke-opacity="0.8" stroke-width="0.7" stroke-linejoin="round"/>
<polygon points="175.92,431.48 186.31,435.13 190.95,427.73 180.56,424.08" fill="#5a80f6" stroke="none" stroke-width="1" stroke="#3a2c2c" stroke-opacity="0.8" stroke-width="0.7" stroke-linejoin="round"/>
<polygon points="199.3,518.09 203.94,510.69 203.94,433.13 199.3,440.53" fill="#3f63dc" stroke="none" stroke-width="1" stroke="#3a2c2c" stroke-opacity="0.8" stroke-width="0.7" stroke-linejoin="round"/>
<polygon points="188.91,514.44 199.3,518.09 199.3,440.53 188.91,436.88" fill="#4a72f3" stroke="none" stroke-width="1" stroke="#3a2c2c" stroke-opacity="0.8" stroke-width="0.7" stroke-linejoin="round"/>
<polygon points="188.91,436.88 199.3,440.53 203.94,433.13 193.55,429.48" fill="#5a80f6" stroke="none" stroke-width="1" stroke="#3a2c2c" stroke-opacity="0.8" stroke-width="0.7" stroke-linejoin="round"/>
<polygon points="212.29,522.65 216.93,515.25 216.93,441.58 212.29,448.98" fill="#3f63dc" stroke="none" stroke-width="1" stroke="#3a2c2c" stroke-opacity="0.8" stroke-width="0.7" stroke-linejoin="round"/>
<polygon points="201.9,519 212.29,522.65 212.29,448.98 201.9,445.33" fill="#4a72f3" stroke="none" stroke-width="1" stroke="#3a2c2c" stroke-opacity="0.8" stroke-width="0.7" stroke-linejoin="round"/>
<polygon points="201.9,445.33 212.29,448.98 216.93,441.58 206.54,437.93" fill="#5a80f6" stroke="none" stroke-width="1" stroke="#3a2c2c" stroke-opacity="0.8" stroke-width="0.7" stroke-linejoin="round"/>
<polygon points="225.28,527.21 229.92,519.81 229.92,448.5 225.28,455.9" fill="#3f63dc" stroke="none" stroke-width="1" stroke="#3a2c2c" stroke-opacity="0.8" stroke-width="0.7" stroke-linejoin="round"/>
<polygon points="214.89,523.56 225.28,527.21 225.28,455.9 214.89,452.25" fill="#4a72f3" stroke="none" stroke-width="1" stroke="#3a2c2c" stroke-opacity="0.8" stroke-width="0.7" stroke-linejoin="round"/>
<polygon points="214.89,452.25 225.28,455.9 229.92,448.5 219.53,444.85" fill="#5a80f6" stroke="none" stroke-width="1" stroke="#3a2c2c" stroke-opacity="0.8" stroke-width="0.7" stroke-linejoin="round"/>
<polygon points="238.27,531.77 242.91,524.37 242.91,450 238.27,457.4" fill="#3f63dc" stroke="none" stroke-width="1" stroke="#3a2c2c" stroke-opacity="0.8" stroke-width="0.7" stroke-linejoin="round"/>
<polygon points="227.88,528.12 238.27,531.77 238.27,457.4 227.88,453.75" fill="#4a72f3" stroke="none" stroke-width="1" stroke="#3a2c2c" stroke-opacity="0.8" stroke-width="0.7" stroke-linejoin="round"/>
<polygon points="227.88,453.75 238.27,457.4 242.91,450 232.52,446.36" fill="#5a80f6" stroke="none" stroke-width="1" stroke="#3a2c2c" stroke-opacity="0.8" stroke-width="0.7" stroke-linejoin="round"/>
<polygon points="251.26,536.33 255.9,528.93 255.9,456.65 251.26,464.05" fill="#3f63dc" stroke="none" stroke-width="1" stroke="#3a2c2c" stroke-opacity="0.8" stroke-width="0.7" stroke-linejoin="round"/>
<polygon points="240.87,532.68 251.26,536.33 251.26,464.05 240.87,460.4" fill="#4a72f3" stroke="none" stroke-width="1" stroke="#3a2c2c" stroke-opacity="0.8" stroke-width="0.7" stroke-linejoin="round"/>
<polygon points="240.87,460.4 251.26,464.05 255.9,456.65 245.51,453" fill="#5a80f6" stroke="none" stroke-width="1" stroke="#3a2c2c" stroke-opacity="0.8" stroke-width="0.7" stroke-linejoin="round"/>
<polygon points="264.25,540.89 268.89,533.49 268.89,462.6 264.25,470" fill="#4466ee" stroke="none" stroke-width="1" stroke="#3a2c2c" stroke-opacity="0.8" stroke-width="0.7" stroke-linejoin="round"/>
<polygon points="253.86,537.24 264.25,540.89 264.25,470 253.86,466.35" fill="#4a6cf0" stroke="none" stroke-width="1" stroke="#3a2c2c" stroke-opacity="0.8" stroke-width="0.7" stroke-linejoin="round"/>
<polygon points="253.86,466.35 264.25,470 268.89,462.6 258.5,458.95" fill="#5a80f6" stroke="none" stroke-width="1" stroke="#3a2c2c" stroke-opacity="0.8" stroke-width="0.7" stroke-linejoin="round"/>
<polygon points="76.59,486.3 81.23,478.9 81.23,406.62 76.59,414.02" fill="#e2eae4" stroke="none" stroke-width="1" stroke="#3a2c2c" stroke-opacity="0.8" stroke-width="0.7" stroke-linejoin="round"/>
<polygon points="66.2,482.65 76.59,486.3 76.59,414.02 66.2,410.37" fill="#d2ddd5" stroke="none" stroke-width="1" stroke="#3a2c2c" stroke-opacity="0.8" stroke-width="0.7" stroke-linejoin="round"/>
<polygon points="66.2,410.37 76.59,414.02 81.23,406.62 70.84,402.97" fill="#dde7df" stroke="none" stroke-width="1" stroke="#3a2c2c" stroke-opacity="0.8" stroke-width="0.7" stroke-linejoin="round"/>
<polygon points="89.58,490.86 94.22,483.46 94.22,412.57 89.58,419.97" fill="#e2eae4" stroke="none" stroke-width="1" stroke="#3a2c2c" stroke-opacity="0.8" stroke-width="0.7" stroke-linejoin="round"/>
<polygon points="79.19,487.21 89.58,490.86 89.58,419.97 79.19,416.32" fill="#d2ddd5" stroke="none" stroke-width="1" stroke="#3a2c2c" stroke-opacity="0.8" stroke-width="0.7" stroke-linejoin="round"/>
<polygon points="79.19,416.32 89.58,419.97 94.22,412.57 83.83,408.92" fill="#dde7df" stroke="none" stroke-width="1" stroke="#3a2c2c" stroke-opacity="0.8" stroke-width="0.7" stroke-linejoin="round"/>
<polygon points="102.57,495.42 107.21,488.02 107.21,415.46 102.57,422.86" fill="#e2eae4" stroke="none" stroke-width="1" stroke="#3a2c2c" stroke-opacity="0.8" stroke-width="0.7" stroke-linejoin="round"/>
<polygon points="92.18,491.77 102.57,495.42 102.57,422.86 92.18,419.21" fill="#d2ddd5" stroke="none" stroke-width="1" stroke="#3a2c2c" stroke-opacity="0.8" stroke-width="0.7" stroke-linejoin="round"/>
<polygon points="92.18,419.21 102.57,422.86 107.21,415.46 96.82,411.81" fill="#dde7df" stroke="none" stroke-width="1" stroke="#3a2c2c" stroke-opacity="0.8" stroke-width="0.7" stroke-linejoin="round"/>
<polygon points="115.56,499.98 120.2,492.58 120.2,422.8 115.56,430.2" fill="#e2eae4" stroke="none" stroke-width="1" stroke="#3a2c2c" stroke-opacity="0.8" stroke-width="0.7" stroke-linejoin="round"/>
<polygon points="105.17,496.33 115.56,499.98 115.56,430.2 105.17,426.55" fill="#d2ddd5" stroke="none" stroke-width="1" stroke="#3a2c2c" stroke-opacity="0.8" stroke-width="0.7" stroke-linejoin="round"/>
<polygon points="105.17,426.55 115.56,430.2 120.2,422.8 109.81,419.15" fill="#dde7df" stroke="none" stroke-width="1" stroke="#3a2c2c" stroke-opacity="0.8" stroke-width="0.7" stroke-linejoin="round"/>
<polygon points="128.55,504.54 133.19,497.14 133.19,428.61 128.55,436.01" fill="#e2eae4" stroke="none" stroke-width="1" stroke="#3a2c2c" stroke-opacity="0.8" stroke-width="0.7" stroke-linejoin="round"/>
<polygon points="118.16,500.89 128.55,504.54 128.55,436.01 118.16,432.36" fill="#d2ddd5" stroke="none" stroke-width="1" stroke="#3a2c2c" stroke-opacity="0.8" stroke-width="0.7" stroke-linejoin="round"/>
<polygon points="118.16,432.36 128.55,436.01 133.19,428.61 122.8,424.96" fill="#dde7df" stroke="none" stroke-width="1" stroke="#3a2c2c" stroke-opacity="0.8" stroke-width="0.7" stroke-linejoin="round"/>
<polygon points="141.54,509.1 146.18,501.7 146.18,437.34 141.54,444.74" fill="#e2eae4" stroke="none" stroke-width="1" stroke="#3a2c2c" stroke-opacity="0.8" stroke-width="0.7" stroke-linejoin="round"/>
<polygon points="131.15,505.45 141.54,509.1 141.54,444.74 131.15,441.09" fill="#d2ddd5" stroke="none" stroke-width="1" stroke="#3a2c2c" stroke-opacity="0.8" stroke-width="0.7" stroke-linejoin="round"/>
<polygon points="131.15,441.09 141.54,444.74 146.18,437.34 135.79,433.69" fill="#dde7df" stroke="none" stroke-width="1" stroke="#3a2c2c" stroke-opacity="0.8" stroke-width="0.7" stroke-linejoin="round"/>
<polygon points="154.53,513.66 159.17,506.26 159.17,438.01 154.53,445.41" fill="#e2eae4" stroke="none" stroke-width="1" stroke="#3a2c2c" stroke-opacity="0.8" stroke-width="0.7" stroke-linejoin="round"/>
<polygon points="144.14,510.01 154.53,513.66 154.53,445.41 144.14,441.76" fill="#d2ddd5" stroke="none" stroke-width="1" stroke="#3a2c2c" stroke-opacity="0.8" stroke-width="0.7" stroke-linejoin="round"/>
<polygon points="144.14,441.76 154.53,445.41 159.17,438.01 148.78,434.36" fill="#dde7df" stroke="none" stroke-width="1" stroke="#3a2c2c" stroke-opacity="0.8" stroke-width="0.7" stroke-linejoin="round"/>
<polygon points="167.52,518.22 172.16,510.82 172.16,442.71 167.52,450.11" fill="#e2eae4" stroke="none" stroke-width="1" stroke="#3a2c2c" stroke-opacity="0.8" stroke-width="0.7" stroke-linejoin="round"/>
<polygon points="157.13,514.57 167.52,518.22 167.52,450.11 157.13,446.46" fill="#d2ddd5" stroke="none" stroke-width="1" stroke="#3a2c2c" stroke-opacity="0.8" stroke-width="0.7" stroke-linejoin="round"/>
<polygon points="157.13,446.46 167.52,450.11 172.16,442.71 161.77,439.06" fill="#dde7df" stroke="none" stroke-width="1" stroke="#3a2c2c" stroke-opacity="0.8" stroke-width="0.7" stroke-linejoin="round"/>
<polygon points="180.51,522.78 185.15,515.38 185.15,447.82 180.51,455.22" fill="#e2eae4" stroke="none" stroke-width="1" stroke="#3a2c2c" stroke-opacity="0.8" stroke-width="0.7" stroke-linejoin="round"/>
<polygon points="170.12,519.13 180.51,522.78 180.51,455.22 170.12,451.58" fill="#d2ddd5" stroke="none" stroke-width="1" stroke="#3a2c2c" stroke-opacity="0.8" stroke-width="0.7" stroke-linejoin="round"/>
<polygon points="170.12,451.58 180.51,455.22 185.15,447.82 174.76,444.18" fill="#dde7df" stroke="none" stroke-width="1" stroke="#3a2c2c" stroke-opacity="0.8" stroke-width="0.7" stroke-linejoin="round"/>
<polygon points="193.5,527.34 198.14,519.94 198.14,455.16 193.5,462.56" fill="#e2eae4" stroke="none" stroke-width="1" stroke="#3a2c2c" stroke-opacity="0.8" stroke-width="0.7" stroke-linejoin="round"/>
<polygon points="183.11,523.69 193.5,527.34 193.5,462.56 183.11,458.92" fill="#d2ddd5" stroke="none" stroke-width="1" stroke="#3a2c2c" stroke-opacity="0.8" stroke-width="0.7" stroke-linejoin="round"/>
<polygon points="183.11,458.92 193.5,462.56 198.14,455.16 187.75,451.52" fill="#dde7df" stroke="none" stroke-width="1" stroke="#3a2c2c" stroke-opacity="0.8" stroke-width="0.7" stroke-linejoin="round"/>
<polygon points="206.49,531.9 211.13,524.5 211.13,461.81 206.49,469.21" fill="#e2eae4" stroke="none" stroke-width="1" stroke="#3a2c2c" stroke-opacity="0.8" stroke-width="0.7" stroke-linejoin="round"/>
<polygon points="196.1,528.25 206.49,531.9 206.49,469.21 196.1,465.56" fill="#d2ddd5" stroke="none" stroke-width="1" stroke="#3a2c2c" stroke-opacity="0.8" stroke-width="0.7" stroke-linejoin="round"/>
<polygon points="196.1,465.56 206.49,469.21 211.13,461.81 200.74,458.16" fill="#dde7df" stroke="none" stroke-width="1" stroke="#3a2c2c" stroke-opacity="0.8" stroke-width="0.7" stroke-linejoin="round"/>
<polygon points="219.48,536.46 224.12,529.06 224.12,470.4 219.48,477.8" fill="#e2eae4" stroke="none" stroke-width="1" stroke="#3a2c2c" stroke-opacity="0.8" stroke-width="0.7" stroke-linejoin="round"/>
<polygon points="209.09,532.81 219.48,536.46 219.48,477.8 209.09,474.15" fill="#d2ddd5" stroke="none" stroke-width="1" stroke="#3a2c2c" stroke-opacity="0.8" stroke-width="0.7" stroke-linejoin="round"/>
<polygon points="209.09,474.15 219.48,477.8 224.12,470.4 213.73,466.75" fill="#dde7df" stroke="none" stroke-width="1" stroke="#3a2c2c" stroke-opacity="0.8" stroke-width="0.7" stroke-linejoin="round"/>
<polygon points="232.47,541.02 237.11,533.62 237.11,468.98 232.47,476.38" fill="#e2eae4" stroke="none" stroke-width="1" stroke="#3a2c2c" stroke-opacity="0.8" stroke-width="0.7" stroke-linejoin="round"/>
<polygon points="222.08,537.37 232.47,541.02 232.47,476.38 222.08,472.74" fill="#d2ddd5" stroke="none" stroke-width="1" stroke="#3a2c2c" stroke-opacity="0.8" stroke-width="0.7" stroke-linejoin="round"/>
<polygon points="222.08,472.74 232.47,476.38 237.11,468.98 226.72,465.34" fill="#dde7df" stroke="none" stroke-width="1" stroke="#3a2c2c" stroke-opacity="0.8" stroke-width="0.7" stroke-linejoin="round"/>
<polygon points="245.46,545.58 250.1,538.18 250.1,480.35 245.46,487.75" fill="#e2eae4" stroke="none" stroke-width="1" stroke="#3a2c2c" stroke-opacity="0.8" stroke-width="0.7" stroke-linejoin="round"/>
<polygon points="235.07,541.93 245.46,545.58 245.46,487.75 235.07,484.11" fill="#d2ddd5" stroke="none" stroke-width="1" stroke="#3a2c2c" stroke-opacity="0.8" stroke-width="0.7" stroke-linejoin="round"/>
<polygon points="235.07,484.11 245.46,487.75 250.1,480.35 239.71,476.71" fill="#dde7df" stroke="none" stroke-width="1" stroke="#3a2c2c" stroke-opacity="0.8" stroke-width="0.7" stroke-linejoin="round"/>
<polygon points="258.45,550.14 263.09,542.74 263.09,484.08 258.45,491.48" fill="#f3ebeb" stroke="none" stroke-width="1" stroke="#3a2c2c" stroke-opacity="0.8" stroke-width="0.7" stroke-linejoin="round"/>
<polygon points="248.06,546.49 258.45,550.14 258.45,491.48 248.06,487.83" fill="#d0d0d0" stroke="none" stroke-width="1" stroke="#3a2c2c" stroke-opacity="0.8" stroke-width="0.7" stroke-linejoin="round"/>
<polygon points="248.06,487.83 258.45,491.48 263.09,484.08 252.7,480.43" fill="#f2eaea" stroke="none" stroke-width="1" stroke="#3a2c2c" stroke-opacity="0.8" stroke-width="0.7" stroke-linejoin="round"/>
<polygon points="70.79,495.55 75.43,488.15 75.43,415.17 70.79,422.57" fill="#e6a7a1" stroke="none" stroke-width="1" stroke="#3a2c2c" stroke-opacity="0.8" stroke-width="0.7" stroke-linejoin="round"/>
<polygon points="60.4,491.9 70.79,495.55 70.79,422.57 60.4,418.92" fill="#dc958f" stroke="none" stroke-width="1" stroke="#3a2c2c" stroke-opacity="0.8" stroke-width="0.7" stroke-linejoin="round"/>
<polygon points="60.4,418.92 70.79,422.57 75.43,415.17 65.04,411.52" fill="#e09d97" stroke="none" stroke-width="1" stroke="#3a2c2c" stroke-opacity="0.8" stroke-width="0.7" stroke-linejoin="round"/>
<polygon points="83.78,500.11 88.42,492.71 88.42,420.98 83.78,428.38" fill="#e6a7a1" stroke="none" stroke-width="1" stroke="#3a2c2c" stroke-opacity="0.8" stroke-width="0.7" stroke-linejoin="round"/>
<polygon points="73.39,496.46 83.78,500.11 83.78,428.38 73.39,424.74" fill="#dc958f" stroke="none" stroke-width="1" stroke="#3a2c2c" stroke-opacity="0.8" stroke-width="0.7" stroke-linejoin="round"/>
<polygon points="73.39,424.74 83.78,428.38 88.42,420.98 78.03,417.34" fill="#e09d97" stroke="none" stroke-width="1" stroke="#3a2c2c" stroke-opacity="0.8" stroke-width="0.7" stroke-linejoin="round"/>
<polygon points="96.77,504.67 101.41,497.27 101.41,423.18 96.77,430.58" fill="#e6a7a1" stroke="none" stroke-width="1" stroke="#3a2c2c" stroke-opacity="0.8" stroke-width="0.7" stroke-linejoin="round"/>
<polygon points="86.38,501.02 96.77,504.67 96.77,430.58 86.38,426.93" fill="#dc958f" stroke="none" stroke-width="1" stroke="#3a2c2c" stroke-opacity="0.8" stroke-width="0.7" stroke-linejoin="round"/>
<polygon points="86.38,426.93 96.77,430.58 101.41,423.18 91.02,419.53" fill="#e09d97" stroke="none" stroke-width="1" stroke="#3a2c2c" stroke-opacity="0.8" stroke-width="0.7" stroke-linejoin="round"/>
<polygon points="109.76,509.23 114.4,501.83 114.4,429.69 109.76,437.09" fill="#e6a7a1" stroke="none" stroke-width="1" stroke="#3a2c2c" stroke-opacity="0.8" stroke-width="0.7" stroke-linejoin="round"/>
<polygon points="99.37,505.58 109.76,509.23 109.76,437.09 99.37,433.44" fill="#dc958f" stroke="none" stroke-width="1" stroke="#3a2c2c" stroke-opacity="0.8" stroke-width="0.7" stroke-linejoin="round"/>
<polygon points="99.37,433.44 109.76,437.09 114.4,429.69 104.01,426.04" fill="#e09d97" stroke="none" stroke-width="1" stroke="#3a2c2c" stroke-opacity="0.8" stroke-width="0.7" stroke-linejoin="round"/>
<polygon points="122.75,513.79 127.39,506.39 127.39,437.03 122.75,444.43" fill="#e6a7a1" stroke="none" stroke-width="1" stroke="#3a2c2c" stroke-opacity="0.8" stroke-width="0.7" stroke-linejoin="round"/>
<polygon points="112.36,510.14 122.75,513.79 122.75,444.43 112.36,440.78" fill="#dc958f" stroke="none" stroke-width="1" stroke="#3a2c2c" stroke-opacity="0.8" stroke-width="0.7" stroke-linejoin="round"/>
<polygon points="112.36,440.78 122.75,444.43 127.39,437.03 117,433.38" fill="#e09d97" stroke="none" stroke-width="1" stroke="#3a2c2c" stroke-opacity="0.8" stroke-width="0.7" stroke-linejoin="round"/>
<polygon points="135.74,518.35 140.38,510.95 140.38,443.53 135.74,450.93" fill="#e6a7a1" stroke="none" stroke-width="1" stroke="#3a2c2c" stroke-opacity="0.8" stroke-width="0.7" stroke-linejoin="round"/>
<polygon points="125.35,514.7 135.74,518.35 135.74,450.93 125.35,447.28" fill="#dc958f" stroke="none" stroke-width="1" stroke="#3a2c2c" stroke-opacity="0.8" stroke-width="0.7" stroke-linejoin="round"/>
<polygon points="125.35,447.28 135.74,450.93 140.38,443.53 129.99,439.88" fill="#e09d97" stroke="none" stroke-width="1" stroke="#3a2c2c" stroke-opacity="0.8" stroke-width="0.7" stroke-linejoin="round"/>
<polygon points="148.73,522.91 153.37,515.51 153.37,445.73 148.73,453.13" fill="#e6a7a1" stroke="none" stroke-width="1" stroke="#3a2c2c" stroke-opacity="0.8" stroke-width="0.7" stroke-linejoin="round"/>
<polygon points="138.34,519.26 148.73,522.91 148.73,453.13 138.34,449.48" fill="#dc958f" stroke="none" stroke-width="1" stroke="#3a2c2c" stroke-opacity="0.8" stroke-width="0.7" stroke-linejoin="round"/>
<polygon points="138.34,449.48 148.73,453.13 153.37,445.73 142.98,442.08" fill="#e09d97" stroke="none" stroke-width="1" stroke="#3a2c2c" stroke-opacity="0.8" stroke-width="0.7" stroke-linejoin="round"/>
<polygon points="161.72,527.47 166.36,520.07 166.36,450.15 161.72,457.55" fill="#e6a7a1" stroke="none" stroke-width="1" stroke="#3a2c2c" stroke-opacity="0.8" stroke-width="0.7" stroke-linejoin="round"/>
<polygon points="151.33,523.82 161.72,527.47 161.72,457.55 151.33,453.9" fill="#dc958f" stroke="none" stroke-width="1" stroke="#3a2c2c" stroke-opacity="0.8" stroke-width="0.7" stroke-linejoin="round"/>
<polygon points="151.33,453.9 161.72,457.55 166.36,450.15 155.97,446.5" fill="#e09d97" stroke="none" stroke-width="1" stroke="#3a2c2c" stroke-opacity="0.8" stroke-width="0.7" stroke-linejoin="round"/>
<polygon points="174.71,532.03 179.35,524.63 179.35,455.27 174.71,462.67" fill="#e6a7a1" stroke="none" stroke-width="1" stroke="#3a2c2c" stroke-opacity="0.8" stroke-width="0.7" stroke-linejoin="round"/>
<polygon points="164.32,528.38 174.71,532.03 174.71,462.67 164.32,459.02" fill="#dc958f" stroke="none" stroke-width="1" stroke="#3a2c2c" stroke-opacity="0.8" stroke-width="0.7" stroke-linejoin="round"/>
<polygon points="164.32,459.02 174.71,462.67 179.35,455.27 168.96,451.62" fill="#e09d97" stroke="none" stroke-width="1" stroke="#3a2c2c" stroke-opacity="0.8" stroke-width="0.7" stroke-linejoin="round"/>
<polygon points="187.7,536.59 192.34,529.19 192.34,460.11 187.7,467.5" fill="#e6a7a1" stroke="none" stroke-width="1" stroke="#3a2c2c" stroke-opacity="0.8" stroke-width="0.7" stroke-linejoin="round"/>
<polygon points="177.31,532.94 187.7,536.59 187.7,467.5 177.31,463.86" fill="#dc958f" stroke="none" stroke-width="1" stroke="#3a2c2c" stroke-opacity="0.8" stroke-width="0.7" stroke-linejoin="round"/>
<polygon points="177.31,463.86 187.7,467.5 192.34,460.11 181.95,456.46" fill="#e09d97" stroke="none" stroke-width="1" stroke="#3a2c2c" stroke-opacity="0.8" stroke-width="0.7" stroke-linejoin="round"/>
<polygon points="200.69,541.15 205.33,533.75 205.33,469.11 200.69,476.51" fill="#e6a7a1" stroke="none" stroke-width="1" stroke="#3a2c2c" stroke-opacity="0.8" stroke-width="0.7" stroke-linejoin="round"/>
<polygon points="190.3,537.5 200.69,541.15 200.69,476.51 190.3,472.87" fill="#dc958f" stroke="none" stroke-width="1" stroke="#3a2c2c" stroke-opacity="0.8" stroke-width="0.7" stroke-linejoin="round"/>
<polygon points="190.3,472.87 200.69,476.51 205.33,469.11 194.94,465.47" fill="#e09d97" stroke="none" stroke-width="1" stroke="#3a2c2c" stroke-opacity="0.8" stroke-width="0.7" stroke-linejoin="round"/>
<polygon points="213.68,545.71 218.32,538.31 218.32,476.18 213.68,483.57" fill="#e6a7a1" stroke="none" stroke-width="1" stroke="#3a2c2c" stroke-opacity="0.8" stroke-width="0.7" stroke-linejoin="round"/>
<polygon points="203.29,542.06 213.68,545.71 213.68,483.57 203.29,479.93" fill="#dc958f" stroke="none" stroke-width="1" stroke="#3a2c2c" stroke-opacity="0.8" stroke-width="0.7" stroke-linejoin="round"/>
<polygon points="203.29,479.93 213.68,483.57 218.32,476.18 207.93,472.53" fill="#e09d97" stroke="none" stroke-width="1" stroke="#3a2c2c" stroke-opacity="0.8" stroke-width="0.7" stroke-linejoin="round"/>
<polygon points="226.67,550.27 231.31,542.87 231.31,477.12 226.67,484.52" fill="#e6a7a1" stroke="none" stroke-width="1" stroke="#3a2c2c" stroke-opacity="0.8" stroke-width="0.7" stroke-linejoin="round"/>
<polygon points="216.28,546.62 226.67,550.27 226.67,484.52 216.28,480.87" fill="#dc958f" stroke="none" stroke-width="1" stroke="#3a2c2c" stroke-opacity="0.8" stroke-width="0.7" stroke-linejoin="round"/>
<polygon points="216.28,480.87 226.67,484.52 231.31,477.12 220.92,473.47" fill="#e09d97" stroke="none" stroke-width="1" stroke="#3a2c2c" stroke-opacity="0.8" stroke-width="0.7" stroke-linejoin="round"/>
<polygon points="239.66,554.83 244.3,547.43 244.3,485.16 239.66,492.56" fill="#e6a7a1" stroke="none" stroke-width="1" stroke="#3a2c2c" stroke-opacity="0.8" stroke-width="0.7" stroke-linejoin="round"/>
<polygon points="229.27,551.18 239.66,554.83 239.66,492.56 229.27,488.91" fill="#dc958f" stroke="none" stroke-width="1" stroke="#3a2c2c" stroke-opacity="0.8" stroke-width="0.7" stroke-linejoin="round"/>
<polygon points="229.27,488.91 239.66,492.56 244.3,485.16 233.91,481.51" fill="#e09d97" stroke="none" stroke-width="1" stroke="#3a2c2c" stroke-opacity="0.8" stroke-width="0.7" stroke-linejoin="round"/>
<polygon points="252.65,559.39 257.29,551.99 257.29,488.88 252.65,496.28" fill="#f2959b" stroke="none" stroke-width="1" stroke="#3a2c2c" stroke-opacity="0.8" stroke-width="0.7" stroke-linejoin="round"/>
<polygon points="242.26,555.74 252.65,559.39 252.65,496.28 242.26,492.63" fill="#dc958f" stroke="none" stroke-width="1" stroke="#3a2c2c" stroke-opacity="0.8" stroke-width="0.7" stroke-linejoin="round"/>
<polygon points="242.26,492.63 252.65,496.28 257.29,488.88 246.9,485.23" fill="#e09d97" stroke="none" stroke-width="1" stroke="#3a2c2c" stroke-opacity="0.8" stroke-width="0.7" stroke-linejoin="round"/>
<polyline points="56.2,491.4 56.2,393.1 106.9,346.9 285.4,410.6 250.3,453.6 250.3,559.6 56.2,491.4" fill="none" stroke="#1f3156" stroke-width="1.3" stroke-linejoin="round" stroke-dasharray="4,2.5"/>
<polyline points="159.5,365.4 111.8,405.5" fill="none" stroke="#1f3156" stroke-width="1.4" stroke-linejoin="round"/>
<polyline points="111.8,405.5 111.8,508.4" fill="none" stroke="#1f3156" stroke-width="1.4" stroke-linejoin="round"/>
<polyline points="230.3,389.5 188.7,426.7" fill="none" stroke="#1f3156" stroke-width="1.4" stroke-linejoin="round"/>
<polyline points="188.7,426.7 188.7,535.7" fill="none" stroke="#1f3156" stroke-width="1.4" stroke-linejoin="round" stroke-dasharray="3.5,2"/>
<text x="146.5" y="337.7" font-size="13.7" text-anchor="middle" font-weight="bold" fill="#111">Novice</text>
<text x="146.5" y="350.5" font-size="13.7" text-anchor="middle" font-weight="bold" fill="#111">driver</text>
<text x="213.5" y="362" font-size="13.7" text-anchor="middle" font-weight="bold" fill="#111">General</text>
<text x="213.5" y="374.7" font-size="13.7" text-anchor="middle" font-weight="bold" fill="#111">driver</text>
<text x="272" y="383.6" font-size="13.7" text-anchor="middle" font-weight="bold" fill="#111">Skilled</text>
<text x="272.2" y="396.3" font-size="13.7" text-anchor="middle" font-weight="bold" fill="#111">driver</text>
<line x1="52.61" y1="489.16" x2="47.41" y2="487.36" stroke="#9a9a9a" stroke-width="0.8"/>
<text x="46.5" y="491.9" font-size="14.5" text-anchor="end" fill="#111">0</text>
<line x1="52.61" y1="468.31" x2="47.41" y2="466.51" stroke="#9a9a9a" stroke-width="0.8"/>
<text x="46.5" y="471.6" font-size="14.5" text-anchor="end" fill="#111">1.5</text>
<line x1="52.61" y1="447.46" x2="47.41" y2="445.66" stroke="#9a9a9a" stroke-width="0.8"/>
<text x="46.5" y="450.7" font-size="14.5" text-anchor="end" fill="#111">3</text>
<line x1="52.61" y1="426.61" x2="47.41" y2="424.81" stroke="#9a9a9a" stroke-width="0.8"/>
<text x="46.5" y="429.1" font-size="14.5" text-anchor="end" fill="#111">4.5</text>
<line x1="52.61" y1="405.76" x2="47.41" y2="403.96" stroke="#9a9a9a" stroke-width="0.8"/>
<text x="46.5" y="408.4" font-size="14.5" text-anchor="end" fill="#111">6</text>
<line x1="52.61" y1="391.86" x2="47.41" y2="390.06" stroke="#9a9a9a" stroke-width="0.8"/>
<text x="46.5" y="397.3" font-size="14.5" text-anchor="end" fill="#111">7</text>
<line x1="65.6" y1="493.72" x2="63.3" y2="497.42" stroke="#9a9a9a" stroke-width="0.8"/>
<text x="64.4" y="510.92" font-size="14.5" text-anchor="middle" fill="#111">1</text>
<line x1="78.59" y1="498.28" x2="76.29" y2="501.98" stroke="#9a9a9a" stroke-width="0.8"/>
<text x="77.39" y="515.48" font-size="14.5" text-anchor="middle" fill="#111">7</text>
<line x1="91.58" y1="502.84" x2="89.28" y2="506.54" stroke="#9a9a9a" stroke-width="0.8"/>
<text x="90.38" y="520.04" font-size="14.5" text-anchor="middle" fill="#111">8</text>
<line x1="104.57" y1="507.4" x2="102.27" y2="511.1" stroke="#9a9a9a" stroke-width="0.8"/>
<text x="103.37" y="524.6" font-size="14.5" text-anchor="middle" fill="#111">10</text>
<line x1="117.56" y1="511.96" x2="115.26" y2="515.66" stroke="#9a9a9a" stroke-width="0.8"/>
<text x="116.36" y="529.16" font-size="14.5" text-anchor="middle" fill="#111">2</text>
<line x1="130.55" y1="516.52" x2="128.25" y2="520.22" stroke="#9a9a9a" stroke-width="0.8"/>
<text x="129.35" y="533.72" font-size="14.5" text-anchor="middle" fill="#111">6</text>
<line x1="143.54" y1="521.08" x2="141.24" y2="524.78" stroke="#9a9a9a" stroke-width="0.8"/>
<text x="142.34" y="538.28" font-size="14.5" text-anchor="middle" fill="#111">9</text>
<line x1="156.53" y1="525.64" x2="154.23" y2="529.34" stroke="#9a9a9a" stroke-width="0.8"/>
<text x="155.33" y="542.84" font-size="14.5" text-anchor="middle" fill="#111">11</text>
<line x1="169.52" y1="530.2" x2="167.22" y2="533.9" stroke="#9a9a9a" stroke-width="0.8"/>
<text x="168.32" y="547.4" font-size="14.5" text-anchor="middle" fill="#111">14</text>
<line x1="182.51" y1="534.76" x2="180.21" y2="538.46" stroke="#9a9a9a" stroke-width="0.8"/>
<text x="181.31" y="551.96" font-size="14.5" text-anchor="middle" fill="#111">15</text>
<line x1="195.5" y1="539.32" x2="193.2" y2="543.02" stroke="#9a9a9a" stroke-width="0.8"/>
<text x="194.3" y="556.52" font-size="14.5" text-anchor="middle" fill="#111">3</text>
<line x1="208.49" y1="543.88" x2="206.19" y2="547.58" stroke="#9a9a9a" stroke-width="0.8"/>
<text x="207.29" y="561.08" font-size="14.5" text-anchor="middle" fill="#111">4</text>
<line x1="221.48" y1="548.44" x2="219.18" y2="552.14" stroke="#9a9a9a" stroke-width="0.8"/>
<text x="220.28" y="565.64" font-size="14.5" text-anchor="middle" fill="#111">5</text>
<line x1="234.47" y1="553" x2="232.17" y2="556.7" stroke="#9a9a9a" stroke-width="0.8"/>
<text x="233.27" y="570.2" font-size="14.5" text-anchor="middle" fill="#111">12</text>
<line x1="247.46" y1="557.56" x2="245.16" y2="561.26" stroke="#9a9a9a" stroke-width="0.8"/>
<text x="246.26" y="574.76" font-size="14.5" text-anchor="middle" fill="#111">13</text>
<line x1="254.97" y1="555.69" x2="258.57" y2="556.99" stroke="#9a9a9a" stroke-width="0.8"/>
<text x="259" y="562.8" font-size="13.8" text-anchor="start" fill="#111" transform="rotate(27 259 562.8)">60-6</text>
<line x1="260.77" y1="546.44" x2="264.37" y2="547.74" stroke="#9a9a9a" stroke-width="0.8"/>
<text x="265.46" y="553.52" font-size="13.8" text-anchor="start" fill="#111" transform="rotate(27 265.46 553.52)">60-5</text>
<line x1="266.57" y1="537.19" x2="270.17" y2="538.49" stroke="#9a9a9a" stroke-width="0.8"/>
<text x="271.92" y="544.24" font-size="13.8" text-anchor="start" fill="#111" transform="rotate(27 271.92 544.24)">80-6</text>
<line x1="272.37" y1="527.94" x2="275.97" y2="529.24" stroke="#9a9a9a" stroke-width="0.8"/>
<text x="278.38" y="534.96" font-size="13.8" text-anchor="start" fill="#111" transform="rotate(27 278.38 534.96)">80-5</text>
<line x1="278.17" y1="518.69" x2="281.77" y2="519.99" stroke="#9a9a9a" stroke-width="0.8"/>
<text x="284.84" y="525.68" font-size="13.8" text-anchor="start" fill="#111" transform="rotate(27 284.84 525.68)">100-6</text>
<line x1="283.97" y1="509.44" x2="287.57" y2="510.74" stroke="#9a9a9a" stroke-width="0.8"/>
<text x="291.3" y="516.4" font-size="13.8" text-anchor="start" fill="#111" transform="rotate(27 291.3 516.4)">100-5</text>
<text x="123.4" y="552.8" font-size="16" text-anchor="middle" fill="#111" transform="rotate(19.5 123.4 552.8)">Driver</text>
<text x="333.4" y="563.6" font-size="15.4" text-anchor="middle" fill="#111">Takeover</text>
<text x="332.9" y="578.2" font-size="15.6" text-anchor="middle" fill="#111">conditions</text>
<text x="19.8" y="446.9" font-size="15.7" text-anchor="middle" fill="#111" transform="rotate(-90 19.8 446.9)">Cognitive reshaping time (s)</text>
<text x="356.2" y="342.3" font-size="20" text-anchor="start" font-weight="bold" fill="#111">c</text>
<rect x="384" y="356.8" width="294.4" height="176.6" fill="#fff" stroke="none" stroke-width="1"/>
<line x1="426.06" y1="356.8" x2="426.06" y2="533.4" stroke="#e9e9e9" stroke-width="0.8"/>
<line x1="468.11" y1="356.8" x2="468.11" y2="533.4" stroke="#e9e9e9" stroke-width="0.8"/>
<line x1="510.17" y1="356.8" x2="510.17" y2="533.4" stroke="#e9e9e9" stroke-width="0.8"/>
<line x1="552.23" y1="356.8" x2="552.23" y2="533.4" stroke="#e9e9e9" stroke-width="0.8"/>
<line x1="594.29" y1="356.8" x2="594.29" y2="533.4" stroke="#e9e9e9" stroke-width="0.8"/>
<line x1="636.34" y1="356.8" x2="636.34" y2="533.4" stroke="#e9e9e9" stroke-width="0.8"/>
<line x1="384" y1="489.25" x2="678.4" y2="489.25" stroke="#e9e9e9" stroke-width="0.8"/>
<line x1="384" y1="445.1" x2="678.4" y2="445.1" stroke="#e9e9e9" stroke-width="0.8"/>
<line x1="384" y1="400.95" x2="678.4" y2="400.95" stroke="#e9e9e9" stroke-width="0.8"/>
<line x1="426.06" y1="446.6" x2="426.06" y2="457.9" stroke="#7d7d7d" stroke-width="1.1"/>
<line x1="426.06" y1="487.3" x2="426.06" y2="501.2" stroke="#7d7d7d" stroke-width="1.1"/>
<line x1="420.86" y1="446.6" x2="431.26" y2="446.6" stroke="#7d7d7d" stroke-width="1.1"/>
<line x1="420.86" y1="501.2" x2="431.26" y2="501.2" stroke="#7d7d7d" stroke-width="1.1"/>
<rect x="415.36" y="457.9" width="21.4" height="29.4" fill="#f08a8e" stroke="#34476e" stroke-width="1.1"/>
<line x1="415.36" y1="467.6" x2="436.76" y2="467.6" stroke="#1c2233" stroke-width="1.4"/>
<line x1="468.11" y1="451.6" x2="468.11" y2="462.9" stroke="#7d7d7d" stroke-width="1.1"/>
<line x1="468.11" y1="490.4" x2="468.11" y2="510.9" stroke="#7d7d7d" stroke-width="1.1"/>
<line x1="462.91" y1="451.6" x2="473.31" y2="451.6" stroke="#7d7d7d" stroke-width="1.1"/>
<line x1="462.91" y1="510.9" x2="473.31" y2="510.9" stroke="#7d7d7d" stroke-width="1.1"/>
<rect x="457.41" y="462.9" width="21.4" height="27.5" fill="#f3e6e6" stroke="#34476e" stroke-width="1.1"/>
<line x1="457.41" y1="472.3" x2="478.81" y2="472.3" stroke="#1c2233" stroke-width="1.4"/>
<line x1="510.17" y1="411.2" x2="510.17" y2="423.1" stroke="#7d7d7d" stroke-width="1.1"/>
<line x1="510.17" y1="448.5" x2="510.17" y2="456.2" stroke="#7d7d7d" stroke-width="1.1"/>
<line x1="504.97" y1="411.2" x2="515.37" y2="411.2" stroke="#7d7d7d" stroke-width="1.1"/>
<line x1="504.97" y1="456.2" x2="515.37" y2="456.2" stroke="#7d7d7d" stroke-width="1.1"/>
<rect x="499.47" y="423.1" width="21.4" height="25.4" fill="#4468f4" stroke="#34476e" stroke-width="1.1"/>
<line x1="499.47" y1="435.3" x2="520.87" y2="435.3" stroke="#1c2233" stroke-width="1.4"/>
<line x1="552.23" y1="412.4" x2="552.23" y2="428.8" stroke="#7d7d7d" stroke-width="1.1"/>
<line x1="552.23" y1="455.8" x2="552.23" y2="461.3" stroke="#7d7d7d" stroke-width="1.1"/>
<line x1="547.03" y1="412.4" x2="557.43" y2="412.4" stroke="#7d7d7d" stroke-width="1.1"/>
<line x1="547.03" y1="461.3" x2="557.43" y2="461.3" stroke="#7d7d7d" stroke-width="1.1"/>
<rect x="541.53" y="428.8" width="21.4" height="27" fill="#5ac6f4" stroke="#34476e" stroke-width="1.1"/>
<line x1="541.53" y1="440.1" x2="562.93" y2="440.1" stroke="#1c2233" stroke-width="1.4"/>
<line x1="594.29" y1="369.9" x2="594.29" y2="377.3" stroke="#7d7d7d" stroke-width="1.1"/>
<line x1="594.29" y1="401.4" x2="594.29" y2="419.3" stroke="#7d7d7d" stroke-width="1.1"/>
<line x1="589.09" y1="369.9" x2="599.49" y2="369.9" stroke="#7d7d7d" stroke-width="1.1"/>
<line x1="589.09" y1="419.3" x2="599.49" y2="419.3" stroke="#7d7d7d" stroke-width="1.1"/>
<rect x="583.59" y="377.3" width="21.4" height="24.1" fill="#d6b238" stroke="#34476e" stroke-width="1.1"/>
<line x1="583.59" y1="389.1" x2="604.99" y2="389.1" stroke="#1c2233" stroke-width="1.4"/>
<line x1="636.34" y1="372.5" x2="636.34" y2="384.4" stroke="#7d7d7d" stroke-width="1.1"/>
<line x1="636.34" y1="406.2" x2="636.34" y2="432.2" stroke="#7d7d7d" stroke-width="1.1"/>
<line x1="631.14" y1="372.5" x2="641.54" y2="372.5" stroke="#7d7d7d" stroke-width="1.1"/>
<line x1="631.14" y1="432.2" x2="641.54" y2="432.2" stroke="#7d7d7d" stroke-width="1.1"/>
<rect x="625.64" y="384.4" width="21.4" height="21.8" fill="#eef53c" stroke="#34476e" stroke-width="1.1"/>
<line x1="625.64" y1="396.2" x2="647.04" y2="396.2" stroke="#1c2233" stroke-width="1.4"/>
<polyline points="426.06,467.6 468.11,472.2 510.17,435.3 552.23,439.8 594.29,390.2 636.34,396.8" fill="none" stroke="#111" stroke-width="1.8" stroke-linejoin="round" stroke-dasharray="5,3"/>
<rect x="422.76" y="464.3" width="6.6" height="6.6" fill="none" stroke="#1d2740" stroke-width="1.1"/>
<rect x="464.81" y="468.9" width="6.6" height="6.6" fill="none" stroke="#1d2740" stroke-width="1.1"/>
<rect x="506.87" y="432" width="6.6" height="6.6" fill="none" stroke="#1d2740" stroke-width="1.1"/>
<rect x="548.93" y="436.5" width="6.6" height="6.6" fill="none" stroke="#1d2740" stroke-width="1.1"/>
<rect x="590.99" y="386.9" width="6.6" height="6.6" fill="none" stroke="#1d2740" stroke-width="1.1"/>
<rect x="633.04" y="393.5" width="6.6" height="6.6" fill="none" stroke="#1d2740" stroke-width="1.1"/>
<rect x="384" y="356.8" width="294.4" height="176.6" fill="none" stroke="#9a9a9a" stroke-width="1"/>
<line x1="426.06" y1="533.4" x2="426.06" y2="530.4" stroke="#9a9a9a" stroke-width="1"/>
<line x1="426.06" y1="356.8" x2="426.06" y2="359.8" stroke="#9a9a9a" stroke-width="1"/>
<text x="426.06" y="550.7" font-size="13.5" text-anchor="middle" fill="#111">60-6</text>
<line x1="468.11" y1="533.4" x2="468.11" y2="530.4" stroke="#9a9a9a" stroke-width="1"/>
<line x1="468.11" y1="356.8" x2="468.11" y2="359.8" stroke="#9a9a9a" stroke-width="1"/>
<text x="468.11" y="550.7" font-size="13.5" text-anchor="middle" fill="#111">60-5</text>
<line x1="510.17" y1="533.4" x2="510.17" y2="530.4" stroke="#9a9a9a" stroke-width="1"/>
<line x1="510.17" y1="356.8" x2="510.17" y2="359.8" stroke="#9a9a9a" stroke-width="1"/>
<text x="510.17" y="550.7" font-size="13.5" text-anchor="middle" fill="#111">80-6</text>
<line x1="552.23" y1="533.4" x2="552.23" y2="530.4" stroke="#9a9a9a" stroke-width="1"/>
<line x1="552.23" y1="356.8" x2="552.23" y2="359.8" stroke="#9a9a9a" stroke-width="1"/>
<text x="552.23" y="550.7" font-size="13.5" text-anchor="middle" fill="#111">80-5</text>
<line x1="594.29" y1="533.4" x2="594.29" y2="530.4" stroke="#9a9a9a" stroke-width="1"/>
<line x1="594.29" y1="356.8" x2="594.29" y2="359.8" stroke="#9a9a9a" stroke-width="1"/>
<text x="594.29" y="550.7" font-size="13.5" text-anchor="middle" fill="#111">100-6</text>
<line x1="636.34" y1="533.4" x2="636.34" y2="530.4" stroke="#9a9a9a" stroke-width="1"/>
<line x1="636.34" y1="356.8" x2="636.34" y2="359.8" stroke="#9a9a9a" stroke-width="1"/>
<text x="636.34" y="550.7" font-size="13.5" text-anchor="middle" fill="#111">100-5</text>
<line x1="384" y1="533.4" x2="387" y2="533.4" stroke="#9a9a9a" stroke-width="1"/>
<line x1="678.4" y1="533.4" x2="675.4" y2="533.4" stroke="#9a9a9a" stroke-width="1"/>
<line x1="384" y1="489.25" x2="387" y2="489.25" stroke="#9a9a9a" stroke-width="1"/>
<line x1="678.4" y1="489.25" x2="675.4" y2="489.25" stroke="#9a9a9a" stroke-width="1"/>
<line x1="384" y1="445.1" x2="387" y2="445.1" stroke="#9a9a9a" stroke-width="1"/>
<line x1="678.4" y1="445.1" x2="675.4" y2="445.1" stroke="#9a9a9a" stroke-width="1"/>
<line x1="384" y1="400.95" x2="387" y2="400.95" stroke="#9a9a9a" stroke-width="1"/>
<line x1="678.4" y1="400.95" x2="675.4" y2="400.95" stroke="#9a9a9a" stroke-width="1"/>
<line x1="384" y1="356.8" x2="387" y2="356.8" stroke="#9a9a9a" stroke-width="1"/>
<line x1="678.4" y1="356.8" x2="675.4" y2="356.8" stroke="#9a9a9a" stroke-width="1"/>
<text x="378.5" y="538" font-size="13.5" text-anchor="end" fill="#111">3</text>
<text x="378.5" y="493.85" font-size="13.5" text-anchor="end" fill="#111">4</text>
<text x="378.5" y="449.7" font-size="13.5" text-anchor="end" fill="#111">5</text>
<text x="378.5" y="405.55" font-size="13.5" text-anchor="end" fill="#111">6</text>
<text x="378.5" y="363.9" font-size="13.5" text-anchor="end" fill="#111">7</text>
<rect x="389.2" y="361.5" width="150" height="37.4" fill="#fff" stroke="#a0a0a0" stroke-width="1"/>
<rect x="393.6" y="368.2" width="11.2" height="11.2" fill="none" stroke="#222" stroke-width="1"/>
<text x="410" y="377.4" font-size="12.5" text-anchor="start" fill="#111">25%~75%</text>
<line x1="479.6" y1="368.2" x2="479.6" y2="379.2" stroke="#222" stroke-width="1.2"/>
<line x1="476.8" y1="368.2" x2="482.4" y2="368.2" stroke="#222" stroke-width="1.2"/>
<line x1="476.8" y1="379.2" x2="482.4" y2="379.2" stroke="#222" stroke-width="1.2"/>
<text x="489.6" y="377.4" font-size="12.5" text-anchor="start" fill="#111">1.5 IQR</text>
<line x1="393.9" y1="390.5" x2="406" y2="390.5" stroke="#222" stroke-width="1.2"/>
<text x="411.6" y="395" font-size="12.5" text-anchor="start" fill="#111">Median</text>
<rect x="477" y="388" width="5.2" height="5.2" fill="none" stroke="#222" stroke-width="1"/>
<text x="493.3" y="395" font-size="12.5" text-anchor="start" fill="#111">means</text>
<text x="364.6" y="448.7" font-size="15.9" text-anchor="middle" fill="#111" transform="rotate(-90 364.6 448.7)">Cognitive reshaping time (s)</text>
<text x="535.6" y="569.5" font-size="15.85" text-anchor="middle" fill="#111">Takeover conditions</text>
<text x="7.3" y="587.7" font-size="20.5" text-anchor="start" font-weight="bold" fill="#111">d</text>
<rect x="88.2" y="596.6" width="590.2" height="54.7" fill="#fff" stroke="none" stroke-width="1"/>
<line x1="147.22" y1="596.6" x2="147.22" y2="651.3" stroke="#e9e9e9" stroke-width="0.8"/>
<line x1="206.24" y1="596.6" x2="206.24" y2="651.3" stroke="#e9e9e9" stroke-width="0.8"/>
<line x1="265.26" y1="596.6" x2="265.26" y2="651.3" stroke="#e9e9e9" stroke-width="0.8"/>
<line x1="324.28" y1="596.6" x2="324.28" y2="651.3" stroke="#e9e9e9" stroke-width="0.8"/>
<line x1="383.3" y1="596.6" x2="383.3" y2="651.3" stroke="#e9e9e9" stroke-width="0.8"/>
<line x1="442.32" y1="596.6" x2="442.32" y2="651.3" stroke="#e9e9e9" stroke-width="0.8"/>
<line x1="501.34" y1="596.6" x2="501.34" y2="651.3" stroke="#e9e9e9" stroke-width="0.8"/>
<line x1="560.36" y1="596.6" x2="560.36" y2="651.3" stroke="#e9e9e9" stroke-width="0.8"/>
<line x1="619.38" y1="596.6" x2="619.38" y2="651.3" stroke="#e9e9e9" stroke-width="0.8"/>
<line x1="88.2" y1="607.4" x2="678.4" y2="607.4" stroke="#e9e9e9" stroke-width="0.8"/>
<line x1="88.2" y1="621.8" x2="678.4" y2="621.8" stroke="#e9e9e9" stroke-width="0.8"/>
<line x1="88.2" y1="636.2" x2="678.4" y2="636.2" stroke="#e9e9e9" stroke-width="0.8"/>
<line x1="88.2" y1="650.6" x2="678.4" y2="650.6" stroke="#e9e9e9" stroke-width="0.8"/>
<rect x="88.2" y="681.5" width="590.2" height="55.8" fill="#fff" stroke="none" stroke-width="1"/>
<line x1="147.22" y1="681.5" x2="147.22" y2="737.3" stroke="#e9e9e9" stroke-width="0.8"/>
<line x1="206.24" y1="681.5" x2="206.24" y2="737.3" stroke="#e9e9e9" stroke-width="0.8"/>
<line x1="265.26" y1="681.5" x2="265.26" y2="737.3" stroke="#e9e9e9" stroke-width="0.8"/>
<line x1="324.28" y1="681.5" x2="324.28" y2="737.3" stroke="#e9e9e9" stroke-width="0.8"/>
<line x1="383.3" y1="681.5" x2="383.3" y2="737.3" stroke="#e9e9e9" stroke-width="0.8"/>
<line x1="442.32" y1="681.5" x2="442.32" y2="737.3" stroke="#e9e9e9" stroke-width="0.8"/>
<line x1="501.34" y1="681.5" x2="501.34" y2="737.3" stroke="#e9e9e9" stroke-width="0.8"/>
<line x1="560.36" y1="681.5" x2="560.36" y2="737.3" stroke="#e9e9e9" stroke-width="0.8"/>
<line x1="619.38" y1="681.5" x2="619.38" y2="737.3" stroke="#e9e9e9" stroke-width="0.8"/>
<line x1="88.2" y1="699.2" x2="678.4" y2="699.2" stroke="#e9e9e9" stroke-width="0.8"/>
<rect x="88.2" y="767.5" width="590.2" height="55.5" fill="#fff" stroke="none" stroke-width="1"/>
<line x1="147.22" y1="767.5" x2="147.22" y2="823" stroke="#e9e9e9" stroke-width="0.8"/>
<line x1="206.24" y1="767.5" x2="206.24" y2="823" stroke="#e9e9e9" stroke-width="0.8"/>
<line x1="265.26" y1="767.5" x2="265.26" y2="823" stroke="#e9e9e9" stroke-width="0.8"/>
<line x1="324.28" y1="767.5" x2="324.28" y2="823" stroke="#e9e9e9" stroke-width="0.8"/>
<line x1="383.3" y1="767.5" x2="383.3" y2="823" stroke="#e9e9e9" stroke-width="0.8"/>
<line x1="442.32" y1="767.5" x2="442.32" y2="823" stroke="#e9e9e9" stroke-width="0.8"/>
<line x1="501.34" y1="767.5" x2="501.34" y2="823" stroke="#e9e9e9" stroke-width="0.8"/>
<line x1="560.36" y1="767.5" x2="560.36" y2="823" stroke="#e9e9e9" stroke-width="0.8"/>
<line x1="619.38" y1="767.5" x2="619.38" y2="823" stroke="#e9e9e9" stroke-width="0.8"/>
<line x1="88.2" y1="769.9" x2="678.4" y2="769.9" stroke="#e9e9e9" stroke-width="0.8"/>
<line x1="88.2" y1="789.9" x2="678.4" y2="789.9" stroke="#e9e9e9" stroke-width="0.8"/>
<line x1="88.2" y1="809.9" x2="678.4" y2="809.9" stroke="#e9e9e9" stroke-width="0.8"/>
<polyline points="88.5,621.5 89.5,621.47 90.5,621.45 91.5,621.42 92.5,621.4 93.5,621.37 94.5,621.35 95.5,621.33 96.51,621.3 97.51,621.28 98.51,621.26 99.51,621.24 100.51,621.22 101.51,621.2 102.51,621.18 103.51,621.16 104.51,621.15 105.51,621.14 106.51,621.13 107.51,621.12 108.51,621.11 109.51,621.1 110.51,621.1 111.52,621.1 112.52,621.1 113.52,621.1 114.52,621.1 115.52,621.1 116.52,621.1 117.52,621.1 118.52,621.1 119.52,621.1 120.52,621.1 121.52,621.1 122.52,621.1 123.52,621.1 124.52,621.1 125.53,621.1 126.53,621.1 127.53,621.1 128.53,621.1 129.53,621.1 130.53,621.1 131.53,621.1 132.53,621.1 133.53,621.1 134.53,621.1 135.53,621.1 136.53,621.1 137.53,621.1 138.53,621.1 139.53,621.1 140.54,621.1 141.54,621.1 142.54,621.08 143.54,620.95 144.54,620.73 145.54,620.45 146.54,620.14 147.54,619.84 148.54,619.58 149.54,619.39 150.54,619.3 151.54,619.32 152.54,619.4 153.54,619.52 154.54,619.67 155.55,619.82 156.55,619.96 157.55,620.09 158.55,620.17 159.55,620.2 160.55,620.2 161.55,620.2 162.55,620.2 163.55,620.2 164.55,620.2 165.55,620.2 166.55,620.2 167.55,620.2 168.55,620.2 169.56,620.2 170.56,620.2 171.56,620.2 172.56,620.2 173.56,620.1 174.56,619.82 175.56,619.39 176.56,618.86 177.56,618.27 178.56,617.68 179.56,617.11 180.56,616.62 181.56,616.25 182.56,615.97 183.56,615.73 184.57,615.53 185.57,615.34 186.57,615.14 187.57,614.91 188.57,614.64 189.57,614.31 190.57,613.86 191.57,613.04 192.57,611.9 193.57,610.55 194.57,609.08 195.57,607.61 196.57,606.24 197.57,605.06 198.57,604.2 199.58,603.65 200.58,603.19 201.58,602.78 202.58,602.42 203.58,602.1 204.58,601.8 205.58,601.53 206.58,601.26 207.58,600.99 208.58,600.72 209.58,600.43 210.58,600.11 211.58,599.76 212.58,599.34 213.58,598.8 214.59,598.2 215.59,597.61 216.59,597.1 217.59,596.74 218.59,596.6 219.59,596.68 220.59,596.93 221.59,597.32 222.59,597.84 223.59,598.47 224.59,599.2 225.59,600.02 226.59,601.26 227.59,603.43 228.6,606.12 229.6,608.88 230.6,611.35 231.6,613.87 232.6,616.37 233.6,618.61 234.6,620.52 235.6,622.35 236.6,623.99 237.6,625.27 238.6,626.07 239.6,626.57 240.6,626.93 241.6,627.27 242.6,627.7 243.61,628.37 244.61,629.64 245.61,631.36 246.61,633.16 247.61,634.79 248.61,636.54 249.61,638.31 250.61,639.95 251.61,641.29 252.61,642.26 253.61,643.08 254.61,643.78 255.61,644.34 256.61,644.74 257.61,645.03 258.62,645.26 259.62,645.47 260.62,645.64 261.62,645.81 262.62,645.98 263.62,646.16 264.62,646.37 265.62,646.59 266.62,646.81 267.62,647.02 268.62,647.23 269.62,647.43 270.62,647.62 271.62,647.78 272.62,647.93 273.63,648.06 274.63,648.18 275.63,648.3 276.63,648.42 277.63,648.54 278.63,648.67 279.63,648.81 280.63,648.98 281.63,649.17 282.63,649.46 283.63,649.84 284.63,650.25 285.63,650.64 286.63,650.98 287.64,651.22 288.64,651.3 289.64,651.3 290.64,651.3 291.64,651.3 292.64,651.3 293.64,651.3 294.64,651.3 295.64,651.3 296.64,651.3 297.64,651.28 298.64,650.87 299.64,650.05 300.64,648.99 301.64,647.87 302.65,646.67 303.65,645.18 304.65,643.48 305.65,641.62 306.65,639.7 307.65,637.77 308.65,635.92 309.65,634.17 310.65,632.45 311.65,630.72 312.65,628.98 313.65,627.22 314.65,625.44 315.65,623.57 316.65,621.54 317.66,619.49 318.66,617.58 319.66,615.96 320.66,614.71 321.66,613.64 322.66,612.71 323.66,611.93 324.66,611.2 325.66,610.47 326.66,609.74 327.66,609.05 328.66,608.4 329.66,607.82 330.66,607.34 331.67,606.96 332.67,606.7 333.67,606.6 334.67,606.75 335.67,607.23 336.67,607.93 337.67,608.72 338.67,609.48 339.67,610.14 340.67,610.84 341.67,611.56 342.67,612.3 343.67,613.05 344.67,613.8 345.67,614.53 346.68,615.24 347.68,615.88 348.68,616.44 349.68,617.13 350.68,618.22 351.68,620.24 352.68,622.83 353.68,625.5 354.68,627.83 355.68,630.38 356.68,632.97 357.68,635.04 358.68,635.99 359.68,635.78 360.68,635.09 361.69,634.04 362.69,632.78 363.69,631.43 364.69,630.12 365.69,628.96 366.69,627.75 367.69,626.45 368.69,625.11 369.69,623.75 370.69,622.41 371.69,621.13 372.69,619.95 373.69,618.89 374.69,617.97 375.69,617.12 376.7,616.34 377.7,615.61 378.7,614.92 379.7,614.29 380.7,613.66 381.7,613 382.7,612.32 383.7,611.67 384.7,611.06 385.7,610.52 386.7,610.1 387.7,609.82 388.7,609.7 389.7,609.74 390.71,609.86 391.71,610.06 392.71,610.31 393.71,610.61 394.71,610.93 395.71,611.28 396.71,611.63 397.71,611.97 398.71,612.41 399.71,612.97 400.71,613.61 401.71,614.31 402.71,615.01 403.71,615.7 404.71,616.33 405.72,616.87 406.72,617.28 407.72,617.53 408.72,617.6 409.72,617.55 410.72,617.44 411.72,617.28 412.72,617.08 413.72,616.85 414.72,616.6 415.72,616.33 416.72,616.06 417.72,615.8 418.72,615.55 419.72,615.33 420.73,615.1 421.73,614.87 422.73,614.63 423.73,614.39 424.73,614.14 425.73,613.9 426.73,613.65 427.73,613.41 428.73,613.18 429.73,612.95 430.73,612.73 431.73,612.49 432.73,612.23 433.73,611.96 434.73,611.69 435.74,611.43 436.74,611.19 437.74,610.98 438.74,610.81 439.74,610.68 440.74,610.61 441.74,610.63 442.74,610.87 443.74,611.34 444.74,611.97 445.74,612.73 446.74,613.56 447.74,614.43 448.74,615.27 449.75,616.05 450.75,616.76 451.75,617.53 452.75,618.36 453.75,619.22 454.75,620.1 455.75,620.99 456.75,621.86 457.75,622.7 458.75,623.49 459.75,624.2 460.75,624.83 461.75,625.36 462.75,625.76 463.75,626.05 464.76,626.31 465.76,626.57 466.76,626.81 467.76,627.04 468.76,627.25 469.76,627.44 470.76,627.61 471.76,627.76 472.76,627.89 473.76,627.99 474.76,628.06 475.76,628.09 476.76,628.1 477.76,628.04 478.76,627.91 479.77,627.74 480.77,627.53 481.77,627.29 482.77,627.03 483.77,626.76 484.77,626.49 485.77,626.2 486.77,625.82 487.77,625.35 488.77,624.82 489.77,624.25 490.77,623.66 491.77,623.07 492.77,622.51 493.78,621.98 494.78,621.52 495.78,621.14 496.78,620.87 497.78,620.72 498.78,620.7 499.78,620.7 500.78,620.7 501.78,620.7 502.78,620.7 503.78,620.7 504.78,620.7 505.78,620.7 506.78,620.7 507.78,620.7 508.79,620.7 509.79,620.7 510.79,620.7 511.79,620.7 512.79,620.7 513.79,620.7 514.79,620.7 515.79,620.7 516.79,620.71 517.79,620.73 518.79,620.76 519.79,620.8 520.79,620.85 521.79,620.91 522.79,620.98 523.8,621.06 524.8,621.14 525.8,621.23 526.8,621.33 527.8,621.43 528.8,621.53 529.8,621.63 530.8,621.74 531.8,621.84 532.8,621.95 533.8,622.06 534.8,622.18 535.8,622.33 536.8,622.5 537.8,622.68 538.81,622.88 539.81,623.08 540.81,623.29 541.81,623.5 542.81,623.71 543.81,623.92 544.81,624.12 545.81,624.31 546.81,624.48 547.81,624.65 548.81,624.79 549.81,624.91 550.81,625 551.81,625.07 552.82,625.13 553.82,625.18 554.82,625.22 555.82,625.26 556.82,625.31 557.82,625.36 558.82,625.43 559.82,625.52 560.82,625.68 561.82,625.9 562.82,626.19 563.82,626.53 564.82,626.92 565.82,627.34 566.82,627.78 567.83,628.24 568.83,628.69 569.83,629.14 570.83,629.58 571.83,629.98 572.83,630.35 573.83,630.71 574.83,631.1 575.83,631.5 576.83,631.91 577.83,632.32 578.83,632.72 579.83,633.1 580.83,633.47 581.83,633.8 582.84,634.1 583.84,634.35 584.84,634.55 585.84,634.69 586.84,634.8 587.84,634.9 588.84,635 589.84,635.09 590.84,635.19 591.84,635.27 592.84,635.36 593.84,635.43 594.84,635.51 595.84,635.58 596.84,635.64 597.85,635.7 598.85,635.76 599.85,635.81 600.85,635.85 601.85,635.89 602.85,635.92 603.85,635.95 604.85,635.97 605.85,635.99 606.85,636 607.85,636 608.85,635.98 609.85,635.92 610.85,635.83 611.86,635.71 612.86,635.56 613.86,635.38 614.86,635.19 615.86,634.98 616.86,634.76 617.86,634.53 618.86,634.29 619.86,634.05 620.86,633.81 621.86,633.55 622.86,633.26 623.86,632.94 624.86,632.59 625.86,632.2 626.87,631.8 627.87,631.36 628.87,630.9 629.87,630.43 630.87,629.93 631.87,629.42 632.87,628.84 633.87,628.16 634.87,627.4 635.87,626.57 636.87,625.7 637.87,624.8 638.87,623.89 639.87,623 640.87,622.13 641.88,621.32 642.88,620.57 643.88,619.91 644.88,619.36 645.88,618.89 646.88,618.45 647.88,618.02 648.88,617.62 649.88,617.24 650.88,616.87 651.88,616.53 652.88,616.2 653.88,615.88 654.88,615.57 655.89,615.28 656.89,615 657.89,614.73 658.89,614.46 659.89,614.2 660.89,613.95 661.89,613.7 662.89,613.46 663.89,613.22 664.89,612.99 665.89,612.76 666.89,612.53 667.89,612.32 668.89,612.11 669.89,611.91 670.9,611.71 671.9,611.53 672.9,611.35 673.9,611.18 674.9,611.02 675.9,610.87 676.9,610.73 677.9,610.6" fill="none" stroke="#1f1ff5" stroke-width="1.85" stroke-linejoin="round"/>
<polyline points="88.5,728.9 89.5,728.88 90.5,728.86 91.5,728.83 92.5,728.81 93.5,728.79 94.5,728.77 95.5,728.74 96.5,728.72 97.5,728.7 98.5,728.68 99.5,728.66 100.5,728.63 101.5,728.61 102.5,728.59 103.5,728.57 104.5,728.55 105.5,728.52 106.5,728.5 107.5,728.48 108.5,728.46 109.5,728.43 110.5,728.41 111.5,728.39 112.5,728.37 113.5,728.34 114.5,728.32 115.5,728.3 116.5,728.28 117.5,728.25 118.49,728.23 119.49,728.21 120.49,728.19 121.49,728.17 122.49,728.14 123.49,728.12 124.49,728.1 125.49,728.07 126.49,728.05 127.49,728.03 128.49,728.01 129.49,727.98 130.49,727.96 131.49,727.94 132.49,727.92 133.49,727.89 134.49,727.87 135.49,727.84 136.49,727.82 137.49,727.8 138.49,727.77 139.49,727.74 140.49,727.72 141.49,727.69 142.49,727.66 143.49,727.63 144.49,727.61 145.49,727.58 146.49,727.54 147.49,727.51 148.49,727.48 149.49,727.44 150.49,727.41 151.49,727.37 152.49,727.33 153.49,727.29 154.49,727.25 155.49,727.21 156.49,727.17 157.49,727.12 158.49,727.07 159.49,727.03 160.49,726.98 161.49,726.92 162.49,726.87 163.49,726.81 164.49,726.76 165.49,726.7 166.49,726.64 167.49,726.58 168.49,726.51 169.49,726.45 170.49,726.38 171.49,726.31 172.49,726.24 173.49,726.17 174.49,726.1 175.49,726.02 176.49,725.95 177.48,725.87 178.48,725.79 179.48,725.71 180.48,725.63 181.48,725.55 182.48,725.47 183.48,725.38 184.48,725.3 185.48,725.21 186.48,725.12 187.48,725.03 188.48,724.94 189.48,724.85 190.48,724.75 191.48,724.66 192.48,724.56 193.48,724.46 194.48,724.35 195.48,724.24 196.48,724.12 197.48,723.98 198.48,723.84 199.48,723.69 200.48,723.52 201.48,723.33 202.48,723.13 203.48,722.92 204.48,722.68 205.48,722.43 206.48,722.15 207.48,721.85 208.48,721.53 209.48,721.19 210.48,720.83 211.48,720.44 212.48,720.04 213.48,719.62 214.48,719.18 215.48,718.73 216.48,718.26 217.48,717.77 218.48,717.27 219.48,716.76 220.48,716.24 221.48,715.7 222.48,715.16 223.48,714.61 224.48,714.04 225.48,713.47 226.48,712.89 227.48,712.3 228.48,711.7 229.48,711.1 230.48,710.49 231.48,709.87 232.48,709.24 233.48,708.61 234.48,707.97 235.48,707.33 236.47,706.68 237.47,706.03 238.47,705.37 239.47,704.71 240.47,704.05 241.47,703.38 242.47,702.71 243.47,702.04 244.47,701.37 245.47,700.71 246.47,700.04 247.47,699.37 248.47,698.71 249.47,698.05 250.47,697.39 251.47,696.74 252.47,696.1 253.47,695.45 254.47,694.82 255.47,694.2 256.47,693.58 257.47,692.97 258.47,692.38 259.47,691.79 260.47,691.22 261.47,690.66 262.47,690.12 263.47,689.59 264.47,689.09 265.47,688.59 266.47,688.12 267.47,687.67 268.47,687.23 269.47,686.82 270.47,686.42 271.47,686.04 272.47,685.68 273.47,685.33 274.47,685 275.47,684.68 276.47,684.37 277.47,684.09 278.47,683.81 279.47,683.54 280.47,683.29 281.47,683.06 282.47,682.84 283.47,682.63 284.47,682.44 285.47,682.27 286.47,682.12 287.47,681.99 288.47,681.88 289.47,681.79 290.47,681.72 291.47,681.67 292.47,681.65 293.47,681.65 294.47,681.67 295.46,681.71 296.46,681.77 297.46,681.84 298.46,681.93 299.46,682.04 300.46,682.16 301.46,682.29 302.46,682.44 303.46,682.59 304.46,682.77 305.46,682.95 306.46,683.14 307.46,683.34 308.46,683.56 309.46,683.78 310.46,684.02 311.46,684.26 312.46,684.51 313.46,684.77 314.46,685.04 315.46,685.32 316.46,685.6 317.46,685.89 318.46,686.18 319.46,686.48 320.46,686.79 321.46,687.1 322.46,687.41 323.46,687.72 324.46,688.04 325.46,688.35 326.46,688.67 327.46,688.99 328.46,689.31 329.46,689.63 330.46,689.94 331.46,690.26 332.46,690.57 333.46,690.88 334.46,691.18 335.46,691.48 336.46,691.78 337.46,692.07 338.46,692.35 339.46,692.63 340.46,692.9 341.46,693.16 342.46,693.42 343.46,693.67 344.46,693.92 345.46,694.17 346.46,694.41 347.46,694.65 348.46,694.88 349.46,695.12 350.46,695.35 351.46,695.59 352.46,695.82 353.46,696.06 354.45,696.29 355.45,696.53 356.45,696.77 357.45,697.01 358.45,697.26 359.45,697.51 360.45,697.77 361.45,698.03 362.45,698.3 363.45,698.57 364.45,698.86 365.45,699.14 366.45,699.44 367.45,699.75 368.45,700.05 369.45,700.37 370.45,700.68 371.45,701 372.45,701.31 373.45,701.62 374.45,701.93 375.45,702.23 376.45,702.53 377.45,702.81 378.45,703.09 379.45,703.36 380.45,703.61 381.45,703.85 382.45,704.08 383.45,704.3 384.45,704.5 385.45,704.7 386.45,704.88 387.45,705.06 388.45,705.23 389.45,705.39 390.45,705.54 391.45,705.69 392.45,705.83 393.45,705.96 394.45,706.09 395.45,706.22 396.45,706.34 397.45,706.47 398.45,706.59 399.45,706.71 400.45,706.83 401.45,706.95 402.45,707.07 403.45,707.19 404.45,707.31 405.45,707.43 406.45,707.56 407.45,707.68 408.45,707.8 409.45,707.92 410.45,708.03 411.45,708.15 412.45,708.26 413.44,708.36 414.44,708.47 415.44,708.56 416.44,708.66 417.44,708.74 418.44,708.83 419.44,708.9 420.44,708.97 421.44,709.03 422.44,709.08 423.44,709.12 424.44,709.16 425.44,709.18 426.44,709.2 427.44,709.2 428.44,709.2 429.44,709.18 430.44,709.15 431.44,709.11 432.44,709.07 433.44,709.01 434.44,708.94 435.44,708.87 436.44,708.79 437.44,708.7 438.44,708.6 439.44,708.5 440.44,708.39 441.44,708.28 442.44,708.16 443.44,708.03 444.44,707.91 445.44,707.78 446.44,707.64 447.44,707.5 448.44,707.36 449.44,707.22 450.44,707.08 451.44,706.94 452.44,706.79 453.44,706.65 454.44,706.51 455.44,706.37 456.44,706.23 457.44,706.09 458.44,705.95 459.44,705.81 460.44,705.68 461.44,705.54 462.44,705.41 463.44,705.27 464.44,705.14 465.44,705.01 466.44,704.88 467.44,704.75 468.44,704.63 469.44,704.5 470.44,704.38 471.44,704.25 472.43,704.13 473.43,704.01 474.43,703.89 475.43,703.77 476.43,703.65 477.43,703.53 478.43,703.41 479.43,703.3 480.43,703.19 481.43,703.07 482.43,702.96 483.43,702.85 484.43,702.74 485.43,702.63 486.43,702.52 487.43,702.42 488.43,702.31 489.43,702.21 490.43,702.1 491.43,702 492.43,701.9 493.43,701.8 494.43,701.7 495.43,701.6 496.43,701.51 497.43,701.41 498.43,701.31 499.43,701.22 500.43,701.13 501.43,701.03 502.43,700.94 503.43,700.85 504.43,700.76 505.43,700.67 506.43,700.58 507.43,700.5 508.43,700.41 509.43,700.32 510.43,700.24 511.43,700.15 512.43,700.07 513.43,699.98 514.43,699.9 515.43,699.82 516.43,699.74 517.43,699.66 518.43,699.58 519.43,699.5 520.43,699.42 521.43,699.34 522.43,699.26 523.43,699.18 524.43,699.11 525.43,699.03 526.43,698.95 527.43,698.88 528.43,698.8 529.43,698.73 530.43,698.65 531.42,698.58 532.42,698.5 533.42,698.43 534.42,698.36 535.42,698.28 536.42,698.21 537.42,698.14 538.42,698.07 539.42,698 540.42,697.92 541.42,697.85 542.42,697.78 543.42,697.71 544.42,697.64 545.42,697.57 546.42,697.5 547.42,697.43 548.42,697.36 549.42,697.3 550.42,697.23 551.42,697.16 552.42,697.09 553.42,697.02 554.42,696.95 555.42,696.88 556.42,696.82 557.42,696.75 558.42,696.68 559.42,696.62 560.42,696.55 561.42,696.49 562.42,696.43 563.42,696.38 564.42,696.32 565.42,696.27 566.42,696.22 567.42,696.18 568.42,696.14 569.42,696.1 570.42,696.07 571.42,696.04 572.42,696.02 573.42,696 574.42,695.99 575.42,695.99 576.42,695.99 577.42,696 578.42,696.02 579.42,696.05 580.42,696.08 581.42,696.12 582.42,696.16 583.42,696.22 584.42,696.28 585.42,696.35 586.42,696.43 587.42,696.51 588.42,696.61 589.42,696.71 590.41,696.82 591.41,696.94 592.41,697.07 593.41,697.21 594.41,697.36 595.41,697.51 596.41,697.68 597.41,697.85 598.41,698.04 599.41,698.23 600.41,698.43 601.41,698.65 602.41,698.87 603.41,699.1 604.41,699.35 605.41,699.6 606.41,699.86 607.41,700.14 608.41,700.42 609.41,700.71 610.41,701.01 611.41,701.32 612.41,701.64 613.41,701.97 614.41,702.31 615.41,702.65 616.41,703.01 617.41,703.37 618.41,703.74 619.41,704.12 620.41,704.5 621.41,704.9 622.41,705.3 623.41,705.71 624.41,706.12 625.41,706.55 626.41,706.98 627.41,707.41 628.41,707.86 629.41,708.3 630.41,708.76 631.41,709.21 632.41,709.68 633.41,710.14 634.41,710.61 635.41,711.09 636.41,711.56 637.41,712.04 638.41,712.52 639.41,713 640.41,713.48 641.41,713.96 642.41,714.44 643.41,714.93 644.41,715.41 645.41,715.89 646.41,716.36 647.41,716.84 648.41,717.31 649.4,717.78 650.4,718.25 651.4,718.71 652.4,719.17 653.4,719.62 654.4,720.07 655.4,720.52 656.4,720.96 657.4,721.4 658.4,721.84 659.4,722.28 660.4,722.71 661.4,723.15 662.4,723.58 663.4,724.01 664.4,724.44 665.4,724.87 666.4,725.3 667.4,725.73 668.4,726.17 669.4,726.6 670.4,727.04 671.4,727.47 672.4,727.91 673.4,728.36 674.4,728.8 675.4,729.25 676.4,729.7 677.4,730.15 678.4,730.6" fill="none" stroke="#111" stroke-width="1.8" stroke-linejoin="round" stroke-dasharray="6.2,2,2.6,2"/>
<polyline points="87.3,815.5 89.6,811.04 91.91,808.75 94.21,807.33 96.52,806.7 98.82,806.92 101.12,807.55 103.43,808.38 105.73,809.22 108.04,810.41 110.34,811.79 112.64,812.85 114.95,812.95 117.25,810.93 119.55,807.44 121.86,801.84 124.16,793.55 126.47,783.56 128.77,774.74 131.07,767.76 133.38,767.69 135.68,769.43 137.99,775.74 140.29,784.05 142.59,790.9 144.9,795.76 147.2,799.16 149.51,801.57 151.81,803.58 154.11,805.66 156.42,808.38 158.72,811.66 161.03,814.09 163.33,815.44 165.63,813.8 167.94,808.82 170.24,800.86 172.54,790.9 174.85,782.46 177.15,775.76 179.46,771.29 181.76,773.93 184.06,781.19 186.37,789.05 188.67,798 190.98,806.7 193.28,811.33 195.58,813.92 197.89,811.51 200.19,805.55 202.5,799.1 204.8,793.44 207.1,789.75 209.41,787.25 211.71,787.25 214.01,789.32 216.32,792.08 218.62,794.36 220.93,796.75 223.23,798.76 225.53,799.4 227.84,799.28 230.14,799.04 232.45,798.78 234.75,798.57 237.05,798.5 239.36,798.55 241.66,798.65 243.97,798.79 246.27,798.96 248.57,799.12 250.88,799.27 253.18,799.37 255.49,799.42 257.79,799.47 260.09,799.51 262.4,799.55 264.7,799.58 267,799.61 269.31,799.64 271.61,799.66 273.92,799.68 276.22,799.69 278.52,799.7 280.83,799.66 283.13,799.21 285.44,798.37 287.74,797.3 290.04,796.16 292.35,795.11 294.65,794.31 296.96,793.92 299.26,793.97 301.56,794.21 303.87,794.59 306.17,795.03 308.48,795.48 310.78,795.86 313.08,796.12 315.39,796.2 317.69,796.2 319.99,796.2 322.3,796.2 324.6,796.2 326.91,796.2 329.21,796.2 331.51,796.2 333.82,796.2 336.12,796.2 338.43,796.2 340.73,796.11 343.03,795.88 345.34,795.55 347.64,795.15 349.95,794.74 352.25,794.36 354.55,794.04 356.86,793.82 359.16,793.61 361.46,793.41 363.77,793.21 366.07,793.02 368.38,792.84 370.68,792.67 372.98,792.52 375.29,792.38 377.59,792.27 379.9,792.19 382.2,792.13 384.5,792.1 386.81,792.15 389.11,792.36 391.42,792.71 393.72,793.16 396.02,793.68 398.33,794.23 400.63,794.78 402.94,795.3 405.24,795.75 407.54,796.09 409.85,796.33 412.15,796.56 414.45,796.78 416.76,797 419.06,797.21 421.37,797.41 423.67,797.6 425.97,797.78 428.28,797.94 430.58,798.09 432.89,798.21 435.19,798.32 437.49,798.4 439.8,798.46 442.1,798.49 444.41,798.5 446.71,798.46 449.01,798.4 451.32,798.31 453.62,798.2 455.93,798.07 458.23,797.94 460.53,797.81 462.84,797.69 465.14,797.58 467.44,797.49 469.75,797.43 472.05,797.4 474.36,797.41 476.66,797.46 478.96,797.53 481.27,797.63 483.57,797.74 485.88,797.87 488.18,798 490.48,798.13 492.79,798.25 495.09,798.35 497.4,798.43 499.7,798.48 502,798.5 504.31,798.47 506.61,798.38 508.91,798.24 511.22,798.05 513.52,797.83 515.83,797.58 518.13,797.31 520.43,797.01 522.74,796.71 525.04,796.4 527.35,796.1 529.65,795.8 531.95,795.52 534.26,795.26 536.56,795.03 538.87,794.82 541.17,794.58 543.47,794.34 545.78,794.09 548.08,793.83 550.39,793.58 552.69,793.34 554.99,793.1 557.3,792.88 559.6,792.67 561.9,792.49 564.21,792.34 566.51,792.22 568.82,792.14 571.12,792.1 573.42,792.11 575.73,792.18 578.03,792.3 580.34,792.46 582.64,792.64 584.94,792.85 587.25,793.06 589.55,793.27 591.86,793.46 594.16,793.64 596.46,793.77 598.77,793.86 601.07,793.9 603.38,793.87 605.68,793.79 607.98,793.65 610.29,793.49 612.59,793.29 614.89,793.08 617.2,792.87 619.5,792.66 621.81,792.48 624.11,792.31 626.41,792.19 628.72,792.12 631.02,792.1 633.33,792.16 635.63,792.28 637.93,792.45 640.24,792.65 642.54,792.88 644.85,793.12 647.15,793.36 649.45,793.58 651.76,793.77 654.06,793.92 656.36,794.05 658.67,794.18 660.97,794.31 663.28,794.42 665.58,794.54 667.88,794.64 670.19,794.74 672.49,794.84 674.8,794.92 677.1,795" fill="none" stroke="#ff1f1f" stroke-width="1.1" stroke-linejoin="round"/>
<path d="M87.3,815.5m-2.2,0a2.2,2.2 0 1,0 4.4,0a2.2,2.2 0 1,0 -4.4,0M89.6,811.04m-2.2,0a2.2,2.2 0 1,0 4.4,0a2.2,2.2 0 1,0 -4.4,0M91.91,808.75m-2.2,0a2.2,2.2 0 1,0 4.4,0a2.2,2.2 0 1,0 -4.4,0M94.21,807.33m-2.2,0a2.2,2.2 0 1,0 4.4,0a2.2,2.2 0 1,0 -4.4,0M96.52,806.7m-2.2,0a2.2,2.2 0 1,0 4.4,0a2.2,2.2 0 1,0 -4.4,0M98.82,806.92m-2.2,0a2.2,2.2 0 1,0 4.4,0a2.2,2.2 0 1,0 -4.4,0M101.12,807.55m-2.2,0a2.2,2.2 0 1,0 4.4,0a2.2,2.2 0 1,0 -4.4,0M103.43,808.38m-2.2,0a2.2,2.2 0 1,0 4.4,0a2.2,2.2 0 1,0 -4.4,0M105.73,809.22m-2.2,0a2.2,2.2 0 1,0 4.4,0a2.2,2.2 0 1,0 -4.4,0M108.04,810.41m-2.2,0a2.2,2.2 0 1,0 4.4,0a2.2,2.2 0 1,0 -4.4,0M110.34,811.79m-2.2,0a2.2,2.2 0 1,0 4.4,0a2.2,2.2 0 1,0 -4.4,0M112.64,812.85m-2.2,0a2.2,2.2 0 1,0 4.4,0a2.2,2.2 0 1,0 -4.4,0M114.95,812.95m-2.2,0a2.2,2.2 0 1,0 4.4,0a2.2,2.2 0 1,0 -4.4,0M117.25,810.93m-2.2,0a2.2,2.2 0 1,0 4.4,0a2.2,2.2 0 1,0 -4.4,0M119.55,807.44m-2.2,0a2.2,2.2 0 1,0 4.4,0a2.2,2.2 0 1,0 -4.4,0M121.86,801.84m-2.2,0a2.2,2.2 0 1,0 4.4,0a2.2,2.2 0 1,0 -4.4,0M124.16,793.55m-2.2,0a2.2,2.2 0 1,0 4.4,0a2.2,2.2 0 1,0 -4.4,0M126.47,783.56m-2.2,0a2.2,2.2 0 1,0 4.4,0a2.2,2.2 0 1,0 -4.4,0M128.77,774.74m-2.2,0a2.2,2.2 0 1,0 4.4,0a2.2,2.2 0 1,0 -4.4,0M131.07,767.76m-2.2,0a2.2,2.2 0 1,0 4.4,0a2.2,2.2 0 1,0 -4.4,0M133.38,767.69m-2.2,0a2.2,2.2 0 1,0 4.4,0a2.2,2.2 0 1,0 -4.4,0M135.68,769.43m-2.2,0a2.2,2.2 0 1,0 4.4,0a2.2,2.2 0 1,0 -4.4,0M137.99,775.74m-2.2,0a2.2,2.2 0 1,0 4.4,0a2.2,2.2 0 1,0 -4.4,0M140.29,784.05m-2.2,0a2.2,2.2 0 1,0 4.4,0a2.2,2.2 0 1,0 -4.4,0M142.59,790.9m-2.2,0a2.2,2.2 0 1,0 4.4,0a2.2,2.2 0 1,0 -4.4,0M144.9,795.76m-2.2,0a2.2,2.2 0 1,0 4.4,0a2.2,2.2 0 1,0 -4.4,0M147.2,799.16m-2.2,0a2.2,2.2 0 1,0 4.4,0a2.2,2.2 0 1,0 -4.4,0M149.51,801.57m-2.2,0a2.2,2.2 0 1,0 4.4,0a2.2,2.2 0 1,0 -4.4,0M151.81,803.58m-2.2,0a2.2,2.2 0 1,0 4.4,0a2.2,2.2 0 1,0 -4.4,0M154.11,805.66m-2.2,0a2.2,2.2 0 1,0 4.4,0a2.2,2.2 0 1,0 -4.4,0M156.42,808.38m-2.2,0a2.2,2.2 0 1,0 4.4,0a2.2,2.2 0 1,0 -4.4,0M158.72,811.66m-2.2,0a2.2,2.2 0 1,0 4.4,0a2.2,2.2 0 1,0 -4.4,0M161.03,814.09m-2.2,0a2.2,2.2 0 1,0 4.4,0a2.2,2.2 0 1,0 -4.4,0M163.33,815.44m-2.2,0a2.2,2.2 0 1,0 4.4,0a2.2,2.2 0 1,0 -4.4,0M165.63,813.8m-2.2,0a2.2,2.2 0 1,0 4.4,0a2.2,2.2 0 1,0 -4.4,0M167.94,808.82m-2.2,0a2.2,2.2 0 1,0 4.4,0a2.2,2.2 0 1,0 -4.4,0M170.24,800.86m-2.2,0a2.2,2.2 0 1,0 4.4,0a2.2,2.2 0 1,0 -4.4,0M172.54,790.9m-2.2,0a2.2,2.2 0 1,0 4.4,0a2.2,2.2 0 1,0 -4.4,0M174.85,782.46m-2.2,0a2.2,2.2 0 1,0 4.4,0a2.2,2.2 0 1,0 -4.4,0M177.15,775.76m-2.2,0a2.2,2.2 0 1,0 4.4,0a2.2,2.2 0 1,0 -4.4,0M179.46,771.29m-2.2,0a2.2,2.2 0 1,0 4.4,0a2.2,2.2 0 1,0 -4.4,0M181.76,773.93m-2.2,0a2.2,2.2 0 1,0 4.4,0a2.2,2.2 0 1,0 -4.4,0M184.06,781.19m-2.2,0a2.2,2.2 0 1,0 4.4,0a2.2,2.2 0 1,0 -4.4,0M186.37,789.05m-2.2,0a2.2,2.2 0 1,0 4.4,0a2.2,2.2 0 1,0 -4.4,0M188.67,798m-2.2,0a2.2,2.2 0 1,0 4.4,0a2.2,2.2 0 1,0 -4.4,0M190.98,806.7m-2.2,0a2.2,2.2 0 1,0 4.4,0a2.2,2.2 0 1,0 -4.4,0M193.28,811.33m-2.2,0a2.2,2.2 0 1,0 4.4,0a2.2,2.2 0 1,0 -4.4,0M195.58,813.92m-2.2,0a2.2,2.2 0 1,0 4.4,0a2.2,2.2 0 1,0 -4.4,0M197.89,811.51m-2.2,0a2.2,2.2 0 1,0 4.4,0a2.2,2.2 0 1,0 -4.4,0M200.19,805.55m-2.2,0a2.2,2.2 0 1,0 4.4,0a2.2,2.2 0 1,0 -4.4,0M202.5,799.1m-2.2,0a2.2,2.2 0 1,0 4.4,0a2.2,2.2 0 1,0 -4.4,0M204.8,793.44m-2.2,0a2.2,2.2 0 1,0 4.4,0a2.2,2.2 0 1,0 -4.4,0M207.1,789.75m-2.2,0a2.2,2.2 0 1,0 4.4,0a2.2,2.2 0 1,0 -4.4,0M209.41,787.25m-2.2,0a2.2,2.2 0 1,0 4.4,0a2.2,2.2 0 1,0 -4.4,0M211.71,787.25m-2.2,0a2.2,2.2 0 1,0 4.4,0a2.2,2.2 0 1,0 -4.4,0M214.01,789.32m-2.2,0a2.2,2.2 0 1,0 4.4,0a2.2,2.2 0 1,0 -4.4,0M216.32,792.08m-2.2,0a2.2,2.2 0 1,0 4.4,0a2.2,2.2 0 1,0 -4.4,0M218.62,794.36m-2.2,0a2.2,2.2 0 1,0 4.4,0a2.2,2.2 0 1,0 -4.4,0M220.93,796.75m-2.2,0a2.2,2.2 0 1,0 4.4,0a2.2,2.2 0 1,0 -4.4,0M223.23,798.76m-2.2,0a2.2,2.2 0 1,0 4.4,0a2.2,2.2 0 1,0 -4.4,0M225.53,799.4m-2.2,0a2.2,2.2 0 1,0 4.4,0a2.2,2.2 0 1,0 -4.4,0M227.84,799.28m-2.2,0a2.2,2.2 0 1,0 4.4,0a2.2,2.2 0 1,0 -4.4,0M230.14,799.04m-2.2,0a2.2,2.2 0 1,0 4.4,0a2.2,2.2 0 1,0 -4.4,0M232.45,798.78m-2.2,0a2.2,2.2 0 1,0 4.4,0a2.2,2.2 0 1,0 -4.4,0M234.75,798.57m-2.2,0a2.2,2.2 0 1,0 4.4,0a2.2,2.2 0 1,0 -4.4,0M237.05,798.5m-2.2,0a2.2,2.2 0 1,0 4.4,0a2.2,2.2 0 1,0 -4.4,0M239.36,798.55m-2.2,0a2.2,2.2 0 1,0 4.4,0a2.2,2.2 0 1,0 -4.4,0M241.66,798.65m-2.2,0a2.2,2.2 0 1,0 4.4,0a2.2,2.2 0 1,0 -4.4,0M243.97,798.79m-2.2,0a2.2,2.2 0 1,0 4.4,0a2.2,2.2 0 1,0 -4.4,0M246.27,798.96m-2.2,0a2.2,2.2 0 1,0 4.4,0a2.2,2.2 0 1,0 -4.4,0M248.57,799.12m-2.2,0a2.2,2.2 0 1,0 4.4,0a2.2,2.2 0 1,0 -4.4,0M250.88,799.27m-2.2,0a2.2,2.2 0 1,0 4.4,0a2.2,2.2 0 1,0 -4.4,0M253.18,799.37m-2.2,0a2.2,2.2 0 1,0 4.4,0a2.2,2.2 0 1,0 -4.4,0M255.49,799.42m-2.2,0a2.2,2.2 0 1,0 4.4,0a2.2,2.2 0 1,0 -4.4,0M257.79,799.47m-2.2,0a2.2,2.2 0 1,0 4.4,0a2.2,2.2 0 1,0 -4.4,0M260.09,799.51m-2.2,0a2.2,2.2 0 1,0 4.4,0a2.2,2.2 0 1,0 -4.4,0M262.4,799.55m-2.2,0a2.2,2.2 0 1,0 4.4,0a2.2,2.2 0 1,0 -4.4,0M264.7,799.58m-2.2,0a2.2,2.2 0 1,0 4.4,0a2.2,2.2 0 1,0 -4.4,0M267,799.61m-2.2,0a2.2,2.2 0 1,0 4.4,0a2.2,2.2 0 1,0 -4.4,0M269.31,799.64m-2.2,0a2.2,2.2 0 1,0 4.4,0a2.2,2.2 0 1,0 -4.4,0M271.61,799.66m-2.2,0a2.2,2.2 0 1,0 4.4,0a2.2,2.2 0 1,0 -4.4,0M273.92,799.68m-2.2,0a2.2,2.2 0 1,0 4.4,0a2.2,2.2 0 1,0 -4.4,0M276.22,799.69m-2.2,0a2.2,2.2 0 1,0 4.4,0a2.2,2.2 0 1,0 -4.4,0M278.52,799.7m-2.2,0a2.2,2.2 0 1,0 4.4,0a2.2,2.2 0 1,0 -4.4,0M280.83,799.66m-2.2,0a2.2,2.2 0 1,0 4.4,0a2.2,2.2 0 1,0 -4.4,0M283.13,799.21m-2.2,0a2.2,2.2 0 1,0 4.4,0a2.2,2.2 0 1,0 -4.4,0M285.44,798.37m-2.2,0a2.2,2.2 0 1,0 4.4,0a2.2,2.2 0 1,0 -4.4,0M287.74,797.3m-2.2,0a2.2,2.2 0 1,0 4.4,0a2.2,2.2 0 1,0 -4.4,0M290.04,796.16m-2.2,0a2.2,2.2 0 1,0 4.4,0a2.2,2.2 0 1,0 -4.4,0M292.35,795.11m-2.2,0a2.2,2.2 0 1,0 4.4,0a2.2,2.2 0 1,0 -4.4,0M294.65,794.31m-2.2,0a2.2,2.2 0 1,0 4.4,0a2.2,2.2 0 1,0 -4.4,0M296.96,793.92m-2.2,0a2.2,2.2 0 1,0 4.4,0a2.2,2.2 0 1,0 -4.4,0M299.26,793.97m-2.2,0a2.2,2.2 0 1,0 4.4,0a2.2,2.2 0 1,0 -4.4,0M301.56,794.21m-2.2,0a2.2,2.2 0 1,0 4.4,0a2.2,2.2 0 1,0 -4.4,0M303.87,794.59m-2.2,0a2.2,2.2 0 1,0 4.4,0a2.2,2.2 0 1,0 -4.4,0M306.17,795.03m-2.2,0a2.2,2.2 0 1,0 4.4,0a2.2,2.2 0 1,0 -4.4,0M308.48,795.48m-2.2,0a2.2,2.2 0 1,0 4.4,0a2.2,2.2 0 1,0 -4.4,0M310.78,795.86m-2.2,0a2.2,2.2 0 1,0 4.4,0a2.2,2.2 0 1,0 -4.4,0M313.08,796.12m-2.2,0a2.2,2.2 0 1,0 4.4,0a2.2,2.2 0 1,0 -4.4,0M315.39,796.2m-2.2,0a2.2,2.2 0 1,0 4.4,0a2.2,2.2 0 1,0 -4.4,0M317.69,796.2m-2.2,0a2.2,2.2 0 1,0 4.4,0a2.2,2.2 0 1,0 -4.4,0M319.99,796.2m-2.2,0a2.2,2.2 0 1,0 4.4,0a2.2,2.2 0 1,0 -4.4,0M322.3,796.2m-2.2,0a2.2,2.2 0 1,0 4.4,0a2.2,2.2 0 1,0 -4.4,0M324.6,796.2m-2.2,0a2.2,2.2 0 1,0 4.4,0a2.2,2.2 0 1,0 -4.4,0M326.91,796.2m-2.2,0a2.2,2.2 0 1,0 4.4,0a2.2,2.2 0 1,0 -4.4,0M329.21,796.2m-2.2,0a2.2,2.2 0 1,0 4.4,0a2.2,2.2 0 1,0 -4.4,0M331.51,796.2m-2.2,0a2.2,2.2 0 1,0 4.4,0a2.2,2.2 0 1,0 -4.4,0M333.82,796.2m-2.2,0a2.2,2.2 0 1,0 4.4,0a2.2,2.2 0 1,0 -4.4,0M336.12,796.2m-2.2,0a2.2,2.2 0 1,0 4.4,0a2.2,2.2 0 1,0 -4.4,0M338.43,796.2m-2.2,0a2.2,2.2 0 1,0 4.4,0a2.2,2.2 0 1,0 -4.4,0M340.73,796.11m-2.2,0a2.2,2.2 0 1,0 4.4,0a2.2,2.2 0 1,0 -4.4,0M343.03,795.88m-2.2,0a2.2,2.2 0 1,0 4.4,0a2.2,2.2 0 1,0 -4.4,0M345.34,795.55m-2.2,0a2.2,2.2 0 1,0 4.4,0a2.2,2.2 0 1,0 -4.4,0M347.64,795.15m-2.2,0a2.2,2.2 0 1,0 4.4,0a2.2,2.2 0 1,0 -4.4,0M349.95,794.74m-2.2,0a2.2,2.2 0 1,0 4.4,0a2.2,2.2 0 1,0 -4.4,0M352.25,794.36m-2.2,0a2.2,2.2 0 1,0 4.4,0a2.2,2.2 0 1,0 -4.4,0M354.55,794.04m-2.2,0a2.2,2.2 0 1,0 4.4,0a2.2,2.2 0 1,0 -4.4,0M356.86,793.82m-2.2,0a2.2,2.2 0 1,0 4.4,0a2.2,2.2 0 1,0 -4.4,0M359.16,793.61m-2.2,0a2.2,2.2 0 1,0 4.4,0a2.2,2.2 0 1,0 -4.4,0M361.46,793.41m-2.2,0a2.2,2.2 0 1,0 4.4,0a2.2,2.2 0 1,0 -4.4,0M363.77,793.21m-2.2,0a2.2,2.2 0 1,0 4.4,0a2.2,2.2 0 1,0 -4.4,0M366.07,793.02m-2.2,0a2.2,2.2 0 1,0 4.4,0a2.2,2.2 0 1,0 -4.4,0M368.38,792.84m-2.2,0a2.2,2.2 0 1,0 4.4,0a2.2,2.2 0 1,0 -4.4,0M370.68,792.67m-2.2,0a2.2,2.2 0 1,0 4.4,0a2.2,2.2 0 1,0 -4.4,0M372.98,792.52m-2.2,0a2.2,2.2 0 1,0 4.4,0a2.2,2.2 0 1,0 -4.4,0M375.29,792.38m-2.2,0a2.2,2.2 0 1,0 4.4,0a2.2,2.2 0 1,0 -4.4,0M377.59,792.27m-2.2,0a2.2,2.2 0 1,0 4.4,0a2.2,2.2 0 1,0 -4.4,0M379.9,792.19m-2.2,0a2.2,2.2 0 1,0 4.4,0a2.2,2.2 0 1,0 -4.4,0M382.2,792.13m-2.2,0a2.2,2.2 0 1,0 4.4,0a2.2,2.2 0 1,0 -4.4,0M384.5,792.1m-2.2,0a2.2,2.2 0 1,0 4.4,0a2.2,2.2 0 1,0 -4.4,0M386.81,792.15m-2.2,0a2.2,2.2 0 1,0 4.4,0a2.2,2.2 0 1,0 -4.4,0M389.11,792.36m-2.2,0a2.2,2.2 0 1,0 4.4,0a2.2,2.2 0 1,0 -4.4,0M391.42,792.71m-2.2,0a2.2,2.2 0 1,0 4.4,0a2.2,2.2 0 1,0 -4.4,0M393.72,793.16m-2.2,0a2.2,2.2 0 1,0 4.4,0a2.2,2.2 0 1,0 -4.4,0M396.02,793.68m-2.2,0a2.2,2.2 0 1,0 4.4,0a2.2,2.2 0 1,0 -4.4,0M398.33,794.23m-2.2,0a2.2,2.2 0 1,0 4.4,0a2.2,2.2 0 1,0 -4.4,0M400.63,794.78m-2.2,0a2.2,2.2 0 1,0 4.4,0a2.2,2.2 0 1,0 -4.4,0M402.94,795.3m-2.2,0a2.2,2.2 0 1,0 4.4,0a2.2,2.2 0 1,0 -4.4,0M405.24,795.75m-2.2,0a2.2,2.2 0 1,0 4.4,0a2.2,2.2 0 1,0 -4.4,0M407.54,796.09m-2.2,0a2.2,2.2 0 1,0 4.4,0a2.2,2.2 0 1,0 -4.4,0M409.85,796.33m-2.2,0a2.2,2.2 0 1,0 4.4,0a2.2,2.2 0 1,0 -4.4,0M412.15,796.56m-2.2,0a2.2,2.2 0 1,0 4.4,0a2.2,2.2 0 1,0 -4.4,0M414.45,796.78m-2.2,0a2.2,2.2 0 1,0 4.4,0a2.2,2.2 0 1,0 -4.4,0M416.76,797m-2.2,0a2.2,2.2 0 1,0 4.4,0a2.2,2.2 0 1,0 -4.4,0M419.06,797.21m-2.2,0a2.2,2.2 0 1,0 4.4,0a2.2,2.2 0 1,0 -4.4,0M421.37,797.41m-2.2,0a2.2,2.2 0 1,0 4.4,0a2.2,2.2 0 1,0 -4.4,0M423.67,797.6m-2.2,0a2.2,2.2 0 1,0 4.4,0a2.2,2.2 0 1,0 -4.4,0M425.97,797.78m-2.2,0a2.2,2.2 0 1,0 4.4,0a2.2,2.2 0 1,0 -4.4,0M428.28,797.94m-2.2,0a2.2,2.2 0 1,0 4.4,0a2.2,2.2 0 1,0 -4.4,0M430.58,798.09m-2.2,0a2.2,2.2 0 1,0 4.4,0a2.2,2.2 0 1,0 -4.4,0M432.89,798.21m-2.2,0a2.2,2.2 0 1,0 4.4,0a2.2,2.2 0 1,0 -4.4,0M435.19,798.32m-2.2,0a2.2,2.2 0 1,0 4.4,0a2.2,2.2 0 1,0 -4.4,0M437.49,798.4m-2.2,0a2.2,2.2 0 1,0 4.4,0a2.2,2.2 0 1,0 -4.4,0M439.8,798.46m-2.2,0a2.2,2.2 0 1,0 4.4,0a2.2,2.2 0 1,0 -4.4,0M442.1,798.49m-2.2,0a2.2,2.2 0 1,0 4.4,0a2.2,2.2 0 1,0 -4.4,0M444.41,798.5m-2.2,0a2.2,2.2 0 1,0 4.4,0a2.2,2.2 0 1,0 -4.4,0M446.71,798.46m-2.2,0a2.2,2.2 0 1,0 4.4,0a2.2,2.2 0 1,0 -4.4,0M449.01,798.4m-2.2,0a2.2,2.2 0 1,0 4.4,0a2.2,2.2 0 1,0 -4.4,0M451.32,798.31m-2.2,0a2.2,2.2 0 1,0 4.4,0a2.2,2.2 0 1,0 -4.4,0M453.62,798.2m-2.2,0a2.2,2.2 0 1,0 4.4,0a2.2,2.2 0 1,0 -4.4,0M455.93,798.07m-2.2,0a2.2,2.2 0 1,0 4.4,0a2.2,2.2 0 1,0 -4.4,0M458.23,797.94m-2.2,0a2.2,2.2 0 1,0 4.4,0a2.2,2.2 0 1,0 -4.4,0M460.53,797.81m-2.2,0a2.2,2.2 0 1,0 4.4,0a2.2,2.2 0 1,0 -4.4,0M462.84,797.69m-2.2,0a2.2,2.2 0 1,0 4.4,0a2.2,2.2 0 1,0 -4.4,0M465.14,797.58m-2.2,0a2.2,2.2 0 1,0 4.4,0a2.2,2.2 0 1,0 -4.4,0M467.44,797.49m-2.2,0a2.2,2.2 0 1,0 4.4,0a2.2,2.2 0 1,0 -4.4,0M469.75,797.43m-2.2,0a2.2,2.2 0 1,0 4.4,0a2.2,2.2 0 1,0 -4.4,0M472.05,797.4m-2.2,0a2.2,2.2 0 1,0 4.4,0a2.2,2.2 0 1,0 -4.4,0M474.36,797.41m-2.2,0a2.2,2.2 0 1,0 4.4,0a2.2,2.2 0 1,0 -4.4,0M476.66,797.46m-2.2,0a2.2,2.2 0 1,0 4.4,0a2.2,2.2 0 1,0 -4.4,0M478.96,797.53m-2.2,0a2.2,2.2 0 1,0 4.4,0a2.2,2.2 0 1,0 -4.4,0M481.27,797.63m-2.2,0a2.2,2.2 0 1,0 4.4,0a2.2,2.2 0 1,0 -4.4,0M483.57,797.74m-2.2,0a2.2,2.2 0 1,0 4.4,0a2.2,2.2 0 1,0 -4.4,0M485.88,797.87m-2.2,0a2.2,2.2 0 1,0 4.4,0a2.2,2.2 0 1,0 -4.4,0M488.18,798m-2.2,0a2.2,2.2 0 1,0 4.4,0a2.2,2.2 0 1,0 -4.4,0M490.48,798.13m-2.2,0a2.2,2.2 0 1,0 4.4,0a2.2,2.2 0 1,0 -4.4,0M492.79,798.25m-2.2,0a2.2,2.2 0 1,0 4.4,0a2.2,2.2 0 1,0 -4.4,0M495.09,798.35m-2.2,0a2.2,2.2 0 1,0 4.4,0a2.2,2.2 0 1,0 -4.4,0M497.4,798.43m-2.2,0a2.2,2.2 0 1,0 4.4,0a2.2,2.2 0 1,0 -4.4,0M499.7,798.48m-2.2,0a2.2,2.2 0 1,0 4.4,0a2.2,2.2 0 1,0 -4.4,0M502,798.5m-2.2,0a2.2,2.2 0 1,0 4.4,0a2.2,2.2 0 1,0 -4.4,0M504.31,798.47m-2.2,0a2.2,2.2 0 1,0 4.4,0a2.2,2.2 0 1,0 -4.4,0M506.61,798.38m-2.2,0a2.2,2.2 0 1,0 4.4,0a2.2,2.2 0 1,0 -4.4,0M508.91,798.24m-2.2,0a2.2,2.2 0 1,0 4.4,0a2.2,2.2 0 1,0 -4.4,0M511.22,798.05m-2.2,0a2.2,2.2 0 1,0 4.4,0a2.2,2.2 0 1,0 -4.4,0M513.52,797.83m-2.2,0a2.2,2.2 0 1,0 4.4,0a2.2,2.2 0 1,0 -4.4,0M515.83,797.58m-2.2,0a2.2,2.2 0 1,0 4.4,0a2.2,2.2 0 1,0 -4.4,0M518.13,797.31m-2.2,0a2.2,2.2 0 1,0 4.4,0a2.2,2.2 0 1,0 -4.4,0M520.43,797.01m-2.2,0a2.2,2.2 0 1,0 4.4,0a2.2,2.2 0 1,0 -4.4,0M522.74,796.71m-2.2,0a2.2,2.2 0 1,0 4.4,0a2.2,2.2 0 1,0 -4.4,0M525.04,796.4m-2.2,0a2.2,2.2 0 1,0 4.4,0a2.2,2.2 0 1,0 -4.4,0M527.35,796.1m-2.2,0a2.2,2.2 0 1,0 4.4,0a2.2,2.2 0 1,0 -4.4,0M529.65,795.8m-2.2,0a2.2,2.2 0 1,0 4.4,0a2.2,2.2 0 1,0 -4.4,0M531.95,795.52m-2.2,0a2.2,2.2 0 1,0 4.4,0a2.2,2.2 0 1,0 -4.4,0M534.26,795.26m-2.2,0a2.2,2.2 0 1,0 4.4,0a2.2,2.2 0 1,0 -4.4,0M536.56,795.03m-2.2,0a2.2,2.2 0 1,0 4.4,0a2.2,2.2 0 1,0 -4.4,0M538.87,794.82m-2.2,0a2.2,2.2 0 1,0 4.4,0a2.2,2.2 0 1,0 -4.4,0M541.17,794.58m-2.2,0a2.2,2.2 0 1,0 4.4,0a2.2,2.2 0 1,0 -4.4,0M543.47,794.34m-2.2,0a2.2,2.2 0 1,0 4.4,0a2.2,2.2 0 1,0 -4.4,0M545.78,794.09m-2.2,0a2.2,2.2 0 1,0 4.4,0a2.2,2.2 0 1,0 -4.4,0M548.08,793.83m-2.2,0a2.2,2.2 0 1,0 4.4,0a2.2,2.2 0 1,0 -4.4,0M550.39,793.58m-2.2,0a2.2,2.2 0 1,0 4.4,0a2.2,2.2 0 1,0 -4.4,0M552.69,793.34m-2.2,0a2.2,2.2 0 1,0 4.4,0a2.2,2.2 0 1,0 -4.4,0M554.99,793.1m-2.2,0a2.2,2.2 0 1,0 4.4,0a2.2,2.2 0 1,0 -4.4,0M557.3,792.88m-2.2,0a2.2,2.2 0 1,0 4.4,0a2.2,2.2 0 1,0 -4.4,0M559.6,792.67m-2.2,0a2.2,2.2 0 1,0 4.4,0a2.2,2.2 0 1,0 -4.4,0M561.9,792.49m-2.2,0a2.2,2.2 0 1,0 4.4,0a2.2,2.2 0 1,0 -4.4,0M564.21,792.34m-2.2,0a2.2,2.2 0 1,0 4.4,0a2.2,2.2 0 1,0 -4.4,0M566.51,792.22m-2.2,0a2.2,2.2 0 1,0 4.4,0a2.2,2.2 0 1,0 -4.4,0M568.82,792.14m-2.2,0a2.2,2.2 0 1,0 4.4,0a2.2,2.2 0 1,0 -4.4,0M571.12,792.1m-2.2,0a2.2,2.2 0 1,0 4.4,0a2.2,2.2 0 1,0 -4.4,0M573.42,792.11m-2.2,0a2.2,2.2 0 1,0 4.4,0a2.2,2.2 0 1,0 -4.4,0M575.73,792.18m-2.2,0a2.2,2.2 0 1,0 4.4,0a2.2,2.2 0 1,0 -4.4,0M578.03,792.3m-2.2,0a2.2,2.2 0 1,0 4.4,0a2.2,2.2 0 1,0 -4.4,0M580.34,792.46m-2.2,0a2.2,2.2 0 1,0 4.4,0a2.2,2.2 0 1,0 -4.4,0M582.64,792.64m-2.2,0a2.2,2.2 0 1,0 4.4,0a2.2,2.2 0 1,0 -4.4,0M584.94,792.85m-2.2,0a2.2,2.2 0 1,0 4.4,0a2.2,2.2 0 1,0 -4.4,0M587.25,793.06m-2.2,0a2.2,2.2 0 1,0 4.4,0a2.2,2.2 0 1,0 -4.4,0M589.55,793.27m-2.2,0a2.2,2.2 0 1,0 4.4,0a2.2,2.2 0 1,0 -4.4,0M591.86,793.46m-2.2,0a2.2,2.2 0 1,0 4.4,0a2.2,2.2 0 1,0 -4.4,0M594.16,793.64m-2.2,0a2.2,2.2 0 1,0 4.4,0a2.2,2.2 0 1,0 -4.4,0M596.46,793.77m-2.2,0a2.2,2.2 0 1,0 4.4,0a2.2,2.2 0 1,0 -4.4,0M598.77,793.86m-2.2,0a2.2,2.2 0 1,0 4.4,0a2.2,2.2 0 1,0 -4.4,0M601.07,793.9m-2.2,0a2.2,2.2 0 1,0 4.4,0a2.2,2.2 0 1,0 -4.4,0M603.38,793.87m-2.2,0a2.2,2.2 0 1,0 4.4,0a2.2,2.2 0 1,0 -4.4,0M605.68,793.79m-2.2,0a2.2,2.2 0 1,0 4.4,0a2.2,2.2 0 1,0 -4.4,0M607.98,793.65m-2.2,0a2.2,2.2 0 1,0 4.4,0a2.2,2.2 0 1,0 -4.4,0M610.29,793.49m-2.2,0a2.2,2.2 0 1,0 4.4,0a2.2,2.2 0 1,0 -4.4,0M612.59,793.29m-2.2,0a2.2,2.2 0 1,0 4.4,0a2.2,2.2 0 1,0 -4.4,0M614.89,793.08m-2.2,0a2.2,2.2 0 1,0 4.4,0a2.2,2.2 0 1,0 -4.4,0M617.2,792.87m-2.2,0a2.2,2.2 0 1,0 4.4,0a2.2,2.2 0 1,0 -4.4,0M619.5,792.66m-2.2,0a2.2,2.2 0 1,0 4.4,0a2.2,2.2 0 1,0 -4.4,0M621.81,792.48m-2.2,0a2.2,2.2 0 1,0 4.4,0a2.2,2.2 0 1,0 -4.4,0M624.11,792.31m-2.2,0a2.2,2.2 0 1,0 4.4,0a2.2,2.2 0 1,0 -4.4,0M626.41,792.19m-2.2,0a2.2,2.2 0 1,0 4.4,0a2.2,2.2 0 1,0 -4.4,0M628.72,792.12m-2.2,0a2.2,2.2 0 1,0 4.4,0a2.2,2.2 0 1,0 -4.4,0M631.02,792.1m-2.2,0a2.2,2.2 0 1,0 4.4,0a2.2,2.2 0 1,0 -4.4,0M633.33,792.16m-2.2,0a2.2,2.2 0 1,0 4.4,0a2.2,2.2 0 1,0 -4.4,0M635.63,792.28m-2.2,0a2.2,2.2 0 1,0 4.4,0a2.2,2.2 0 1,0 -4.4,0M637.93,792.45m-2.2,0a2.2,2.2 0 1,0 4.4,0a2.2,2.2 0 1,0 -4.4,0M640.24,792.65m-2.2,0a2.2,2.2 0 1,0 4.4,0a2.2,2.2 0 1,0 -4.4,0M642.54,792.88m-2.2,0a2.2,2.2 0 1,0 4.4,0a2.2,2.2 0 1,0 -4.4,0M644.85,793.12m-2.2,0a2.2,2.2 0 1,0 4.4,0a2.2,2.2 0 1,0 -4.4,0M647.15,793.36m-2.2,0a2.2,2.2 0 1,0 4.4,0a2.2,2.2 0 1,0 -4.4,0M649.45,793.58m-2.2,0a2.2,2.2 0 1,0 4.4,0a2.2,2.2 0 1,0 -4.4,0M651.76,793.77m-2.2,0a2.2,2.2 0 1,0 4.4,0a2.2,2.2 0 1,0 -4.4,0M654.06,793.92m-2.2,0a2.2,2.2 0 1,0 4.4,0a2.2,2.2 0 1,0 -4.4,0M656.36,794.05m-2.2,0a2.2,2.2 0 1,0 4.4,0a2.2,2.2 0 1,0 -4.4,0M658.67,794.18m-2.2,0a2.2,2.2 0 1,0 4.4,0a2.2,2.2 0 1,0 -4.4,0M660.97,794.31m-2.2,0a2.2,2.2 0 1,0 4.4,0a2.2,2.2 0 1,0 -4.4,0M663.28,794.42m-2.2,0a2.2,2.2 0 1,0 4.4,0a2.2,2.2 0 1,0 -4.4,0M665.58,794.54m-2.2,0a2.2,2.2 0 1,0 4.4,0a2.2,2.2 0 1,0 -4.4,0M667.88,794.64m-2.2,0a2.2,2.2 0 1,0 4.4,0a2.2,2.2 0 1,0 -4.4,0M670.19,794.74m-2.2,0a2.2,2.2 0 1,0 4.4,0a2.2,2.2 0 1,0 -4.4,0M672.49,794.84m-2.2,0a2.2,2.2 0 1,0 4.4,0a2.2,2.2 0 1,0 -4.4,0M674.8,794.92m-2.2,0a2.2,2.2 0 1,0 4.4,0a2.2,2.2 0 1,0 -4.4,0M677.1,795m-2.2,0a2.2,2.2 0 1,0 4.4,0a2.2,2.2 0 1,0 -4.4,0" fill="none" stroke="#ff1f1f" stroke-width="1.15"/>
<polyline points="87.3,821.3 89.6,813.38 91.91,810.01 94.21,808.31 96.52,807.6 98.82,807.73 101.12,808.08 103.43,808.52 105.73,808.9 108.04,809.1 110.34,809.07 112.64,808.95 114.95,808.77 117.25,808.53 119.55,808.26 121.86,807.78 124.16,806.85 126.47,805.64 128.77,804.34 131.07,803.15 133.38,802.24 135.68,801.81 137.99,801.89 140.29,802.22 142.59,802.74 144.9,803.38 147.2,804.11 149.51,805.2 151.81,806.71 154.11,808.64 156.42,811.01 158.72,815.54 161.03,820.04 163.33,822.41 165.63,822.19 167.94,818.78 170.24,814.43 172.54,808.24 174.85,802.12 177.15,798.19 179.46,795.69 181.76,796.14 184.06,797.8 186.37,801.63 188.67,807.79 190.98,812.91 193.28,817.77 195.58,819.89 197.89,817.76 200.19,814.16 202.5,810.15 204.8,805.78 207.1,802.79 209.41,800.64 211.71,800.51 214.01,801.76 216.32,803.51 218.62,805.01 220.93,805.88 223.23,806.67 225.53,807.37 227.84,807.9 230.14,808.18 232.45,808.2 234.75,808.2 237.05,808.2 239.36,808.2 241.66,808.2 243.97,808.2 246.27,808.2 248.57,808.2 250.88,808.2 253.18,808.2 255.49,808.2 257.79,808.2 260.09,808.2 262.4,808.16 264.7,808.04 267,807.87 269.31,807.65 271.61,807.42 273.92,807.18 276.22,806.96 278.52,806.79 280.83,806.66 283.13,806.56 285.44,806.46 287.74,806.37 290.04,806.29 292.35,806.21 294.65,806.14 296.96,806.07 299.26,806 301.56,805.93 303.87,805.86 306.17,805.79 308.48,805.72 310.78,805.65 313.08,805.57 315.39,805.49 317.69,805.39 319.99,805.29 322.3,805.17 324.6,805.05 326.91,804.93 329.21,804.8 331.51,804.67 333.82,804.55 336.12,804.42 338.43,804.31 340.73,804.2 343.03,804.09 345.34,804.01 347.64,803.93 349.95,803.87 352.25,803.83 354.55,803.8 356.86,803.8 359.16,803.82 361.46,803.85 363.77,803.9 366.07,803.97 368.38,804.05 370.68,804.13 372.98,804.23 375.29,804.34 377.59,804.46 379.9,804.58 382.2,804.7 384.5,804.83 386.81,804.96 389.11,805.09 391.42,805.22 393.72,805.34 396.02,805.46 398.33,805.58 400.63,805.72 402.94,805.87 405.24,806.04 407.54,806.22 409.85,806.41 412.15,806.61 414.45,806.81 416.76,807 419.06,807.2 421.37,807.39 423.67,807.58 425.97,807.76 428.28,807.92 430.58,808.07 432.89,808.2 435.19,808.31 437.49,808.4 439.8,808.46 442.1,808.49 444.41,808.5 446.71,808.47 449.01,808.41 451.32,808.33 453.62,808.22 455.93,808.1 458.23,807.97 460.53,807.82 462.84,807.67 465.14,807.52 467.44,807.37 469.75,807.23 472.05,807.09 474.36,806.97 476.66,806.87 478.96,806.79 481.27,806.73 483.57,806.7 485.88,806.7 488.18,806.71 490.48,806.74 492.79,806.77 495.09,806.81 497.4,806.85 499.7,806.9 502,806.96 504.31,807.02 506.61,807.09 508.91,807.16 511.22,807.23 513.52,807.3 515.83,807.37 518.13,807.44 520.43,807.51 522.74,807.57 525.04,807.63 527.35,807.69 529.65,807.74 531.95,807.79 534.26,807.83 536.56,807.86 538.87,807.88 541.17,807.9 543.47,807.9 545.78,807.85 548.08,807.76 550.39,807.63 552.69,807.46 554.99,807.25 557.3,807.02 559.6,806.77 561.9,806.51 564.21,806.23 566.51,805.96 568.82,805.69 571.12,805.42 573.42,805.17 575.73,804.95 578.03,804.74 580.34,804.57 582.64,804.44 584.94,804.35 587.25,804.26 589.55,804.17 591.86,804.08 594.16,803.99 596.46,803.91 598.77,803.83 601.07,803.75 603.38,803.67 605.68,803.6 607.98,803.54 610.29,803.48 612.59,803.42 614.89,803.37 617.2,803.33 619.5,803.29 621.81,803.26 624.11,803.23 626.41,803.21 628.72,803.2 631.02,803.2 633.33,803.28 635.63,803.43 637.93,803.65 640.24,803.92 642.54,804.22 644.85,804.53 647.15,804.83 649.45,805.11 651.76,805.34 654.06,805.52 656.36,805.68 658.67,805.82 660.97,805.97 663.28,806.1 665.58,806.23 667.88,806.34 670.19,806.45 672.49,806.55 674.8,806.63 677.1,806.7" fill="none" stroke="#1414ff" stroke-width="1.1" stroke-linejoin="round"/>
<path d="M85.55,819.55h3.5v3.5h-3.5zM87.85,811.63h3.5v3.5h-3.5zM90.16,808.26h3.5v3.5h-3.5zM92.46,806.56h3.5v3.5h-3.5zM94.77,805.85h3.5v3.5h-3.5zM97.07,805.98h3.5v3.5h-3.5zM99.37,806.33h3.5v3.5h-3.5zM101.68,806.77h3.5v3.5h-3.5zM103.98,807.15h3.5v3.5h-3.5zM106.29,807.35h3.5v3.5h-3.5zM108.59,807.32h3.5v3.5h-3.5zM110.89,807.2h3.5v3.5h-3.5zM113.2,807.02h3.5v3.5h-3.5zM115.5,806.78h3.5v3.5h-3.5zM117.8,806.51h3.5v3.5h-3.5zM120.11,806.03h3.5v3.5h-3.5zM122.41,805.1h3.5v3.5h-3.5zM124.72,803.89h3.5v3.5h-3.5zM127.02,802.59h3.5v3.5h-3.5zM129.32,801.4h3.5v3.5h-3.5zM131.63,800.49h3.5v3.5h-3.5zM133.93,800.06h3.5v3.5h-3.5zM136.24,800.14h3.5v3.5h-3.5zM138.54,800.47h3.5v3.5h-3.5zM140.84,800.99h3.5v3.5h-3.5zM143.15,801.63h3.5v3.5h-3.5zM145.45,802.36h3.5v3.5h-3.5zM147.76,803.45h3.5v3.5h-3.5zM150.06,804.96h3.5v3.5h-3.5zM152.36,806.89h3.5v3.5h-3.5zM154.67,809.26h3.5v3.5h-3.5zM156.97,813.79h3.5v3.5h-3.5zM159.28,818.29h3.5v3.5h-3.5zM161.58,820.66h3.5v3.5h-3.5zM163.88,820.44h3.5v3.5h-3.5zM166.19,817.03h3.5v3.5h-3.5zM168.49,812.68h3.5v3.5h-3.5zM170.79,806.49h3.5v3.5h-3.5zM173.1,800.37h3.5v3.5h-3.5zM175.4,796.44h3.5v3.5h-3.5zM177.71,793.94h3.5v3.5h-3.5zM180.01,794.39h3.5v3.5h-3.5zM182.31,796.05h3.5v3.5h-3.5zM184.62,799.88h3.5v3.5h-3.5zM186.92,806.04h3.5v3.5h-3.5zM189.23,811.16h3.5v3.5h-3.5zM191.53,816.02h3.5v3.5h-3.5zM193.83,818.14h3.5v3.5h-3.5zM196.14,816.01h3.5v3.5h-3.5zM198.44,812.41h3.5v3.5h-3.5zM200.75,808.4h3.5v3.5h-3.5zM203.05,804.03h3.5v3.5h-3.5zM205.35,801.04h3.5v3.5h-3.5zM207.66,798.89h3.5v3.5h-3.5zM209.96,798.76h3.5v3.5h-3.5zM212.26,800.01h3.5v3.5h-3.5zM214.57,801.76h3.5v3.5h-3.5zM216.87,803.26h3.5v3.5h-3.5zM219.18,804.13h3.5v3.5h-3.5zM221.48,804.92h3.5v3.5h-3.5zM223.78,805.62h3.5v3.5h-3.5zM226.09,806.15h3.5v3.5h-3.5zM228.39,806.43h3.5v3.5h-3.5zM230.7,806.45h3.5v3.5h-3.5zM233,806.45h3.5v3.5h-3.5zM235.3,806.45h3.5v3.5h-3.5zM237.61,806.45h3.5v3.5h-3.5zM239.91,806.45h3.5v3.5h-3.5zM242.22,806.45h3.5v3.5h-3.5zM244.52,806.45h3.5v3.5h-3.5zM246.82,806.45h3.5v3.5h-3.5zM249.13,806.45h3.5v3.5h-3.5zM251.43,806.45h3.5v3.5h-3.5zM253.74,806.45h3.5v3.5h-3.5zM256.04,806.45h3.5v3.5h-3.5zM258.34,806.45h3.5v3.5h-3.5zM260.65,806.41h3.5v3.5h-3.5zM262.95,806.29h3.5v3.5h-3.5zM265.25,806.12h3.5v3.5h-3.5zM267.56,805.9h3.5v3.5h-3.5zM269.86,805.67h3.5v3.5h-3.5zM272.17,805.43h3.5v3.5h-3.5zM274.47,805.21h3.5v3.5h-3.5zM276.77,805.04h3.5v3.5h-3.5zM279.08,804.91h3.5v3.5h-3.5zM281.38,804.81h3.5v3.5h-3.5zM283.69,804.71h3.5v3.5h-3.5zM285.99,804.62h3.5v3.5h-3.5zM288.29,804.54h3.5v3.5h-3.5zM290.6,804.46h3.5v3.5h-3.5zM292.9,804.39h3.5v3.5h-3.5zM295.21,804.32h3.5v3.5h-3.5zM297.51,804.25h3.5v3.5h-3.5zM299.81,804.18h3.5v3.5h-3.5zM302.12,804.11h3.5v3.5h-3.5zM304.42,804.04h3.5v3.5h-3.5zM306.73,803.97h3.5v3.5h-3.5zM309.03,803.9h3.5v3.5h-3.5zM311.33,803.82h3.5v3.5h-3.5zM313.64,803.74h3.5v3.5h-3.5zM315.94,803.64h3.5v3.5h-3.5zM318.24,803.54h3.5v3.5h-3.5zM320.55,803.42h3.5v3.5h-3.5zM322.85,803.3h3.5v3.5h-3.5zM325.16,803.18h3.5v3.5h-3.5zM327.46,803.05h3.5v3.5h-3.5zM329.76,802.92h3.5v3.5h-3.5zM332.07,802.8h3.5v3.5h-3.5zM334.37,802.67h3.5v3.5h-3.5zM336.68,802.56h3.5v3.5h-3.5zM338.98,802.45h3.5v3.5h-3.5zM341.28,802.34h3.5v3.5h-3.5zM343.59,802.26h3.5v3.5h-3.5zM345.89,802.18h3.5v3.5h-3.5zM348.2,802.12h3.5v3.5h-3.5zM350.5,802.08h3.5v3.5h-3.5zM352.8,802.05h3.5v3.5h-3.5zM355.11,802.05h3.5v3.5h-3.5zM357.41,802.07h3.5v3.5h-3.5zM359.71,802.1h3.5v3.5h-3.5zM362.02,802.15h3.5v3.5h-3.5zM364.32,802.22h3.5v3.5h-3.5zM366.63,802.3h3.5v3.5h-3.5zM368.93,802.38h3.5v3.5h-3.5zM371.23,802.48h3.5v3.5h-3.5zM373.54,802.59h3.5v3.5h-3.5zM375.84,802.71h3.5v3.5h-3.5zM378.15,802.83h3.5v3.5h-3.5zM380.45,802.95h3.5v3.5h-3.5zM382.75,803.08h3.5v3.5h-3.5zM385.06,803.21h3.5v3.5h-3.5zM387.36,803.34h3.5v3.5h-3.5zM389.67,803.47h3.5v3.5h-3.5zM391.97,803.59h3.5v3.5h-3.5zM394.27,803.71h3.5v3.5h-3.5zM396.58,803.83h3.5v3.5h-3.5zM398.88,803.97h3.5v3.5h-3.5zM401.19,804.12h3.5v3.5h-3.5zM403.49,804.29h3.5v3.5h-3.5zM405.79,804.47h3.5v3.5h-3.5zM408.1,804.66h3.5v3.5h-3.5zM410.4,804.86h3.5v3.5h-3.5zM412.7,805.06h3.5v3.5h-3.5zM415.01,805.25h3.5v3.5h-3.5zM417.31,805.45h3.5v3.5h-3.5zM419.62,805.64h3.5v3.5h-3.5zM421.92,805.83h3.5v3.5h-3.5zM424.22,806.01h3.5v3.5h-3.5zM426.53,806.17h3.5v3.5h-3.5zM428.83,806.32h3.5v3.5h-3.5zM431.14,806.45h3.5v3.5h-3.5zM433.44,806.56h3.5v3.5h-3.5zM435.74,806.65h3.5v3.5h-3.5zM438.05,806.71h3.5v3.5h-3.5zM440.35,806.74h3.5v3.5h-3.5zM442.66,806.75h3.5v3.5h-3.5zM444.96,806.72h3.5v3.5h-3.5zM447.26,806.66h3.5v3.5h-3.5zM449.57,806.58h3.5v3.5h-3.5zM451.87,806.47h3.5v3.5h-3.5zM454.18,806.35h3.5v3.5h-3.5zM456.48,806.22h3.5v3.5h-3.5zM458.78,806.07h3.5v3.5h-3.5zM461.09,805.92h3.5v3.5h-3.5zM463.39,805.77h3.5v3.5h-3.5zM465.69,805.62h3.5v3.5h-3.5zM468,805.48h3.5v3.5h-3.5zM470.3,805.34h3.5v3.5h-3.5zM472.61,805.22h3.5v3.5h-3.5zM474.91,805.12h3.5v3.5h-3.5zM477.21,805.04h3.5v3.5h-3.5zM479.52,804.98h3.5v3.5h-3.5zM481.82,804.95h3.5v3.5h-3.5zM484.13,804.95h3.5v3.5h-3.5zM486.43,804.96h3.5v3.5h-3.5zM488.73,804.99h3.5v3.5h-3.5zM491.04,805.02h3.5v3.5h-3.5zM493.34,805.06h3.5v3.5h-3.5zM495.65,805.1h3.5v3.5h-3.5zM497.95,805.15h3.5v3.5h-3.5zM500.25,805.21h3.5v3.5h-3.5zM502.56,805.27h3.5v3.5h-3.5zM504.86,805.34h3.5v3.5h-3.5zM507.16,805.41h3.5v3.5h-3.5zM509.47,805.48h3.5v3.5h-3.5zM511.77,805.55h3.5v3.5h-3.5zM514.08,805.62h3.5v3.5h-3.5zM516.38,805.69h3.5v3.5h-3.5zM518.68,805.76h3.5v3.5h-3.5zM520.99,805.82h3.5v3.5h-3.5zM523.29,805.88h3.5v3.5h-3.5zM525.6,805.94h3.5v3.5h-3.5zM527.9,805.99h3.5v3.5h-3.5zM530.2,806.04h3.5v3.5h-3.5zM532.51,806.08h3.5v3.5h-3.5zM534.81,806.11h3.5v3.5h-3.5zM537.12,806.13h3.5v3.5h-3.5zM539.42,806.15h3.5v3.5h-3.5zM541.72,806.15h3.5v3.5h-3.5zM544.03,806.1h3.5v3.5h-3.5zM546.33,806.01h3.5v3.5h-3.5zM548.64,805.88h3.5v3.5h-3.5zM550.94,805.71h3.5v3.5h-3.5zM553.24,805.5h3.5v3.5h-3.5zM555.55,805.27h3.5v3.5h-3.5zM557.85,805.02h3.5v3.5h-3.5zM560.15,804.76h3.5v3.5h-3.5zM562.46,804.48h3.5v3.5h-3.5zM564.76,804.21h3.5v3.5h-3.5zM567.07,803.94h3.5v3.5h-3.5zM569.37,803.67h3.5v3.5h-3.5zM571.67,803.42h3.5v3.5h-3.5zM573.98,803.2h3.5v3.5h-3.5zM576.28,802.99h3.5v3.5h-3.5zM578.59,802.82h3.5v3.5h-3.5zM580.89,802.69h3.5v3.5h-3.5zM583.19,802.6h3.5v3.5h-3.5zM585.5,802.51h3.5v3.5h-3.5zM587.8,802.42h3.5v3.5h-3.5zM590.11,802.33h3.5v3.5h-3.5zM592.41,802.24h3.5v3.5h-3.5zM594.71,802.16h3.5v3.5h-3.5zM597.02,802.08h3.5v3.5h-3.5zM599.32,802h3.5v3.5h-3.5zM601.62,801.92h3.5v3.5h-3.5zM603.93,801.85h3.5v3.5h-3.5zM606.23,801.79h3.5v3.5h-3.5zM608.54,801.73h3.5v3.5h-3.5zM610.84,801.67h3.5v3.5h-3.5zM613.14,801.62h3.5v3.5h-3.5zM615.45,801.58h3.5v3.5h-3.5zM617.75,801.54h3.5v3.5h-3.5zM620.06,801.51h3.5v3.5h-3.5zM622.36,801.48h3.5v3.5h-3.5zM624.66,801.46h3.5v3.5h-3.5zM626.97,801.45h3.5v3.5h-3.5zM629.27,801.45h3.5v3.5h-3.5zM631.58,801.53h3.5v3.5h-3.5zM633.88,801.68h3.5v3.5h-3.5zM636.18,801.9h3.5v3.5h-3.5zM638.49,802.17h3.5v3.5h-3.5zM640.79,802.47h3.5v3.5h-3.5zM643.1,802.78h3.5v3.5h-3.5zM645.4,803.08h3.5v3.5h-3.5zM647.7,803.36h3.5v3.5h-3.5zM650.01,803.59h3.5v3.5h-3.5zM652.31,803.77h3.5v3.5h-3.5zM654.61,803.93h3.5v3.5h-3.5zM656.92,804.07h3.5v3.5h-3.5zM659.22,804.22h3.5v3.5h-3.5zM661.53,804.35h3.5v3.5h-3.5zM663.83,804.48h3.5v3.5h-3.5zM666.13,804.59h3.5v3.5h-3.5zM668.44,804.7h3.5v3.5h-3.5zM670.74,804.8h3.5v3.5h-3.5zM673.05,804.88h3.5v3.5h-3.5zM675.35,804.95h3.5v3.5h-3.5z" fill="none" stroke="#1414ff" stroke-width="1.15"/>
<rect x="88.2" y="596.6" width="590.2" height="54.7" fill="none" stroke="#9a9a9a" stroke-width="1"/>
<line x1="88.2" y1="651.3" x2="88.2" y2="648.3" stroke="#9a9a9a" stroke-width="1"/>
<line x1="88.2" y1="596.6" x2="88.2" y2="599.6" stroke="#9a9a9a" stroke-width="1"/>
<text x="88.2" y="670.5" font-size="14" text-anchor="middle" fill="#111">0</text>
<line x1="147.22" y1="651.3" x2="147.22" y2="648.3" stroke="#9a9a9a" stroke-width="1"/>
<line x1="147.22" y1="596.6" x2="147.22" y2="599.6" stroke="#9a9a9a" stroke-width="1"/>
<text x="147.22" y="670.5" font-size="14" text-anchor="middle" fill="#111">2</text>
<line x1="206.24" y1="651.3" x2="206.24" y2="648.3" stroke="#9a9a9a" stroke-width="1"/>
<line x1="206.24" y1="596.6" x2="206.24" y2="599.6" stroke="#9a9a9a" stroke-width="1"/>
<text x="206.24" y="670.5" font-size="14" text-anchor="middle" fill="#111">4</text>
<line x1="265.26" y1="651.3" x2="265.26" y2="648.3" stroke="#9a9a9a" stroke-width="1"/>
<line x1="265.26" y1="596.6" x2="265.26" y2="599.6" stroke="#9a9a9a" stroke-width="1"/>
<text x="265.26" y="670.5" font-size="14" text-anchor="middle" fill="#111">6</text>
<line x1="324.28" y1="651.3" x2="324.28" y2="648.3" stroke="#9a9a9a" stroke-width="1"/>
<line x1="324.28" y1="596.6" x2="324.28" y2="599.6" stroke="#9a9a9a" stroke-width="1"/>
<text x="324.28" y="670.5" font-size="14" text-anchor="middle" fill="#111">8</text>
<line x1="383.3" y1="651.3" x2="383.3" y2="648.3" stroke="#9a9a9a" stroke-width="1"/>
<line x1="383.3" y1="596.6" x2="383.3" y2="599.6" stroke="#9a9a9a" stroke-width="1"/>
<text x="383.3" y="670.5" font-size="14" text-anchor="middle" fill="#111">10</text>
<line x1="442.32" y1="651.3" x2="442.32" y2="648.3" stroke="#9a9a9a" stroke-width="1"/>
<line x1="442.32" y1="596.6" x2="442.32" y2="599.6" stroke="#9a9a9a" stroke-width="1"/>
<text x="442.32" y="670.5" font-size="14" text-anchor="middle" fill="#111">12</text>
<line x1="501.34" y1="651.3" x2="501.34" y2="648.3" stroke="#9a9a9a" stroke-width="1"/>
<line x1="501.34" y1="596.6" x2="501.34" y2="599.6" stroke="#9a9a9a" stroke-width="1"/>
<text x="501.34" y="670.5" font-size="14" text-anchor="middle" fill="#111">14</text>
<line x1="560.36" y1="651.3" x2="560.36" y2="648.3" stroke="#9a9a9a" stroke-width="1"/>
<line x1="560.36" y1="596.6" x2="560.36" y2="599.6" stroke="#9a9a9a" stroke-width="1"/>
<text x="560.36" y="670.5" font-size="14" text-anchor="middle" fill="#111">16</text>
<line x1="619.38" y1="651.3" x2="619.38" y2="648.3" stroke="#9a9a9a" stroke-width="1"/>
<line x1="619.38" y1="596.6" x2="619.38" y2="599.6" stroke="#9a9a9a" stroke-width="1"/>
<text x="619.38" y="670.5" font-size="14" text-anchor="middle" fill="#111">18</text>
<line x1="678.4" y1="651.3" x2="678.4" y2="648.3" stroke="#9a9a9a" stroke-width="1"/>
<line x1="678.4" y1="596.6" x2="678.4" y2="599.6" stroke="#9a9a9a" stroke-width="1"/>
<text x="678.4" y="670.5" font-size="14" text-anchor="middle" fill="#111">20</text>
<line x1="88.2" y1="607.4" x2="91.2" y2="607.4" stroke="#9a9a9a" stroke-width="1"/>
<line x1="678.4" y1="607.4" x2="675.4" y2="607.4" stroke="#9a9a9a" stroke-width="1"/>
<text x="82.9" y="612.8" font-size="14" text-anchor="end" fill="#111">50</text>
<line x1="88.2" y1="621.8" x2="91.2" y2="621.8" stroke="#9a9a9a" stroke-width="1"/>
<line x1="678.4" y1="621.8" x2="675.4" y2="621.8" stroke="#9a9a9a" stroke-width="1"/>
<text x="82.9" y="627.2" font-size="14" text-anchor="end" fill="#111">0</text>
<line x1="88.2" y1="636.2" x2="91.2" y2="636.2" stroke="#9a9a9a" stroke-width="1"/>
<line x1="678.4" y1="636.2" x2="675.4" y2="636.2" stroke="#9a9a9a" stroke-width="1"/>
<text x="82.9" y="641.6" font-size="14" text-anchor="end" fill="#111">-50</text>
<line x1="88.2" y1="650.6" x2="91.2" y2="650.6" stroke="#9a9a9a" stroke-width="1"/>
<line x1="678.4" y1="650.6" x2="675.4" y2="650.6" stroke="#9a9a9a" stroke-width="1"/>
<text x="82.9" y="656" font-size="14" text-anchor="end" fill="#111">-100</text>
<rect x="88.2" y="681.5" width="590.2" height="55.8" fill="none" stroke="#9a9a9a" stroke-width="1"/>
<line x1="88.2" y1="737.3" x2="88.2" y2="734.3" stroke="#9a9a9a" stroke-width="1"/>
<line x1="88.2" y1="681.5" x2="88.2" y2="684.5" stroke="#9a9a9a" stroke-width="1"/>
<text x="88.2" y="756.5" font-size="14" text-anchor="middle" fill="#111">0</text>
<line x1="147.22" y1="737.3" x2="147.22" y2="734.3" stroke="#9a9a9a" stroke-width="1"/>
<line x1="147.22" y1="681.5" x2="147.22" y2="684.5" stroke="#9a9a9a" stroke-width="1"/>
<text x="147.22" y="756.5" font-size="14" text-anchor="middle" fill="#111">2</text>
<line x1="206.24" y1="737.3" x2="206.24" y2="734.3" stroke="#9a9a9a" stroke-width="1"/>
<line x1="206.24" y1="681.5" x2="206.24" y2="684.5" stroke="#9a9a9a" stroke-width="1"/>
<text x="206.24" y="756.5" font-size="14" text-anchor="middle" fill="#111">4</text>
<line x1="265.26" y1="737.3" x2="265.26" y2="734.3" stroke="#9a9a9a" stroke-width="1"/>
<line x1="265.26" y1="681.5" x2="265.26" y2="684.5" stroke="#9a9a9a" stroke-width="1"/>
<text x="265.26" y="756.5" font-size="14" text-anchor="middle" fill="#111">6</text>
<line x1="324.28" y1="737.3" x2="324.28" y2="734.3" stroke="#9a9a9a" stroke-width="1"/>
<line x1="324.28" y1="681.5" x2="324.28" y2="684.5" stroke="#9a9a9a" stroke-width="1"/>
<text x="324.28" y="756.5" font-size="14" text-anchor="middle" fill="#111">8</text>
<line x1="383.3" y1="737.3" x2="383.3" y2="734.3" stroke="#9a9a9a" stroke-width="1"/>
<line x1="383.3" y1="681.5" x2="383.3" y2="684.5" stroke="#9a9a9a" stroke-width="1"/>
<text x="383.3" y="756.5" font-size="14" text-anchor="middle" fill="#111">10</text>
<line x1="442.32" y1="737.3" x2="442.32" y2="734.3" stroke="#9a9a9a" stroke-width="1"/>
<line x1="442.32" y1="681.5" x2="442.32" y2="684.5" stroke="#9a9a9a" stroke-width="1"/>
<text x="442.32" y="756.5" font-size="14" text-anchor="middle" fill="#111">12</text>
<line x1="501.34" y1="737.3" x2="501.34" y2="734.3" stroke="#9a9a9a" stroke-width="1"/>
<line x1="501.34" y1="681.5" x2="501.34" y2="684.5" stroke="#9a9a9a" stroke-width="1"/>
<text x="501.34" y="756.5" font-size="14" text-anchor="middle" fill="#111">14</text>
<line x1="560.36" y1="737.3" x2="560.36" y2="734.3" stroke="#9a9a9a" stroke-width="1"/>
<line x1="560.36" y1="681.5" x2="560.36" y2="684.5" stroke="#9a9a9a" stroke-width="1"/>
<text x="560.36" y="756.5" font-size="14" text-anchor="middle" fill="#111">16</text>
<line x1="619.38" y1="737.3" x2="619.38" y2="734.3" stroke="#9a9a9a" stroke-width="1"/>
<line x1="619.38" y1="681.5" x2="619.38" y2="684.5" stroke="#9a9a9a" stroke-width="1"/>
<text x="619.38" y="756.5" font-size="14" text-anchor="middle" fill="#111">18</text>
<line x1="678.4" y1="737.3" x2="678.4" y2="734.3" stroke="#9a9a9a" stroke-width="1"/>
<line x1="678.4" y1="681.5" x2="678.4" y2="684.5" stroke="#9a9a9a" stroke-width="1"/>
<text x="678.4" y="756.5" font-size="14" text-anchor="middle" fill="#111">20</text>
<line x1="88.2" y1="699.2" x2="91.2" y2="699.2" stroke="#9a9a9a" stroke-width="1"/>
<line x1="678.4" y1="699.2" x2="675.4" y2="699.2" stroke="#9a9a9a" stroke-width="1"/>
<text x="82.9" y="704.6" font-size="14" text-anchor="end" fill="#111">-270</text>
<line x1="88.2" y1="737.2" x2="91.2" y2="737.2" stroke="#9a9a9a" stroke-width="1"/>
<line x1="678.4" y1="737.2" x2="675.4" y2="737.2" stroke="#9a9a9a" stroke-width="1"/>
<text x="82.9" y="742.6" font-size="14" text-anchor="end" fill="#111">-275</text>
<rect x="88.2" y="767.5" width="590.2" height="55.5" fill="none" stroke="#9a9a9a" stroke-width="1"/>
<line x1="88.2" y1="823" x2="88.2" y2="820" stroke="#9a9a9a" stroke-width="1"/>
<line x1="88.2" y1="767.5" x2="88.2" y2="770.5" stroke="#9a9a9a" stroke-width="1"/>
<text x="88.2" y="842.2" font-size="14" text-anchor="middle" fill="#111">0</text>
<line x1="147.22" y1="823" x2="147.22" y2="820" stroke="#9a9a9a" stroke-width="1"/>
<line x1="147.22" y1="767.5" x2="147.22" y2="770.5" stroke="#9a9a9a" stroke-width="1"/>
<text x="147.22" y="842.2" font-size="14" text-anchor="middle" fill="#111">2</text>
<line x1="206.24" y1="823" x2="206.24" y2="820" stroke="#9a9a9a" stroke-width="1"/>
<line x1="206.24" y1="767.5" x2="206.24" y2="770.5" stroke="#9a9a9a" stroke-width="1"/>
<text x="206.24" y="842.2" font-size="14" text-anchor="middle" fill="#111">4</text>
<line x1="265.26" y1="823" x2="265.26" y2="820" stroke="#9a9a9a" stroke-width="1"/>
<line x1="265.26" y1="767.5" x2="265.26" y2="770.5" stroke="#9a9a9a" stroke-width="1"/>
<text x="265.26" y="842.2" font-size="14" text-anchor="middle" fill="#111">6</text>
<line x1="324.28" y1="823" x2="324.28" y2="820" stroke="#9a9a9a" stroke-width="1"/>
<line x1="324.28" y1="767.5" x2="324.28" y2="770.5" stroke="#9a9a9a" stroke-width="1"/>
<text x="324.28" y="842.2" font-size="14" text-anchor="middle" fill="#111">8</text>
<line x1="383.3" y1="823" x2="383.3" y2="820" stroke="#9a9a9a" stroke-width="1"/>
<line x1="383.3" y1="767.5" x2="383.3" y2="770.5" stroke="#9a9a9a" stroke-width="1"/>
<text x="383.3" y="842.2" font-size="14" text-anchor="middle" fill="#111">10</text>
<line x1="442.32" y1="823" x2="442.32" y2="820" stroke="#9a9a9a" stroke-width="1"/>
<line x1="442.32" y1="767.5" x2="442.32" y2="770.5" stroke="#9a9a9a" stroke-width="1"/>
<text x="442.32" y="842.2" font-size="14" text-anchor="middle" fill="#111">12</text>
<line x1="501.34" y1="823" x2="501.34" y2="820" stroke="#9a9a9a" stroke-width="1"/>
<line x1="501.34" y1="767.5" x2="501.34" y2="770.5" stroke="#9a9a9a" stroke-width="1"/>
<text x="501.34" y="842.2" font-size="14" text-anchor="middle" fill="#111">14</text>
<line x1="560.36" y1="823" x2="560.36" y2="820" stroke="#9a9a9a" stroke-width="1"/>
<line x1="560.36" y1="767.5" x2="560.36" y2="770.5" stroke="#9a9a9a" stroke-width="1"/>
<text x="560.36" y="842.2" font-size="14" text-anchor="middle" fill="#111">16</text>
<line x1="619.38" y1="823" x2="619.38" y2="820" stroke="#9a9a9a" stroke-width="1"/>
<line x1="619.38" y1="767.5" x2="619.38" y2="770.5" stroke="#9a9a9a" stroke-width="1"/>
<text x="619.38" y="842.2" font-size="14" text-anchor="middle" fill="#111">18</text>
<line x1="678.4" y1="823" x2="678.4" y2="820" stroke="#9a9a9a" stroke-width="1"/>
<line x1="678.4" y1="767.5" x2="678.4" y2="770.5" stroke="#9a9a9a" stroke-width="1"/>
<text x="678.4" y="842.2" font-size="14" text-anchor="middle" fill="#111">20</text>
<line x1="88.2" y1="769.9" x2="91.2" y2="769.9" stroke="#9a9a9a" stroke-width="1"/>
<line x1="678.4" y1="769.9" x2="675.4" y2="769.9" stroke="#9a9a9a" stroke-width="1"/>
<text x="82.9" y="775.3" font-size="14" text-anchor="end" fill="#111">40</text>
<line x1="88.2" y1="789.9" x2="91.2" y2="789.9" stroke="#9a9a9a" stroke-width="1"/>
<line x1="678.4" y1="789.9" x2="675.4" y2="789.9" stroke="#9a9a9a" stroke-width="1"/>
<text x="82.9" y="795.3" font-size="14" text-anchor="end" fill="#111">20</text>
<line x1="88.2" y1="809.9" x2="91.2" y2="809.9" stroke="#9a9a9a" stroke-width="1"/>
<line x1="678.4" y1="809.9" x2="675.4" y2="809.9" stroke="#9a9a9a" stroke-width="1"/>
<text x="82.9" y="815.3" font-size="14" text-anchor="end" fill="#111">0</text>
<rect x="88.3" y="604.5" width="148.5" height="212.5" rx="4.5" fill="#03cfd4" fill-opacity="0.21" stroke="#7ad98a" stroke-width="1.2"/>
<rect x="277.9" y="604.4" width="394.3" height="212.7" rx="4.5" fill="#b8925e" fill-opacity="0.2" stroke="#7ad98a" stroke-width="1.2"/>
<rect x="118.8" y="657.3" width="91.1" height="62.2" fill="#fff" stroke="none" stroke-width="1"/>
<text x="164.7" y="676.1" font-size="15.6" text-anchor="middle" font-weight="bold" fill="#111">Cognitive</text>
<text x="164.7" y="695.1" font-size="15.6" text-anchor="middle" font-weight="bold" fill="#111">reshaping</text>
<text x="164.7" y="714.1" font-size="15.6" text-anchor="middle" font-weight="bold" fill="#111">process</text>
<rect x="376.8" y="716.8" width="205.7" height="20" fill="#fff" stroke="none" stroke-width="1"/>
<text x="479.5" y="733.3" font-size="15.7" text-anchor="middle" font-weight="bold" fill="#111">Normal driving process</text>
<rect x="375.1" y="770" width="208.1" height="16.4" fill="#fff" stroke="#444" stroke-width="1"/>
<line x1="381" y1="778.2" x2="403.8" y2="778.2" stroke="#ff1f1f" stroke-width="1"/>
<circle cx="392.5" cy="778.2" r="3.4" fill="none" stroke="#ff1f1f" stroke-width="1"/>
<text x="415.2" y="783" font-size="14" text-anchor="start" fill="#111">Left eye</text>
<line x1="480.2" y1="778.2" x2="503.7" y2="778.2" stroke="#1414ff" stroke-width="1"/>
<rect x="488.9" y="775.1" width="6.4" height="6.4" fill="none" stroke="#1414ff" stroke-width="1"/>
<text x="517.5" y="783" font-size="14" text-anchor="start" fill="#111">Right eye</text>
<text x="16" y="631" font-size="15.7" text-anchor="middle" fill="#111" transform="rotate(-90 16 631)">Steering</text>
<text x="33.2" y="631" font-size="15.7" text-anchor="middle" fill="#111" transform="rotate(-90 33.2 631)">wheel angle</text>
<text x="49.6" y="631" font-size="15.7" text-anchor="middle" fill="#111" transform="rotate(-90 49.6 631)">(deg)</text>
<text x="16" y="712.3" font-size="15.7" text-anchor="middle" fill="#111" transform="rotate(-90 16 712.3)">Lateral</text>
<text x="33.2" y="712.3" font-size="15.7" text-anchor="middle" fill="#111" transform="rotate(-90 33.2 712.3)">displace-</text>
<text x="49.6" y="712.3" font-size="15.7" text-anchor="middle" fill="#111" transform="rotate(-90 49.6 712.3)">ment (m)</text>
<text x="16" y="799.5" font-size="15.7" text-anchor="middle" fill="#111" transform="rotate(-90 16 799.5)">Horizontal</text>
<text x="33.2" y="799.5" font-size="15.7" text-anchor="middle" fill="#111" transform="rotate(-90 33.2 799.5)">displacemen</text>
<text x="49.6" y="799.5" font-size="15.7" text-anchor="middle" fill="#111" transform="rotate(-90 49.6 799.5)">t of eyes (cm)</text>
<text x="367.2" y="855.3" font-size="18.8" text-anchor="middle" fill="#111">Time (s)</text>
</svg>
</body></html>
